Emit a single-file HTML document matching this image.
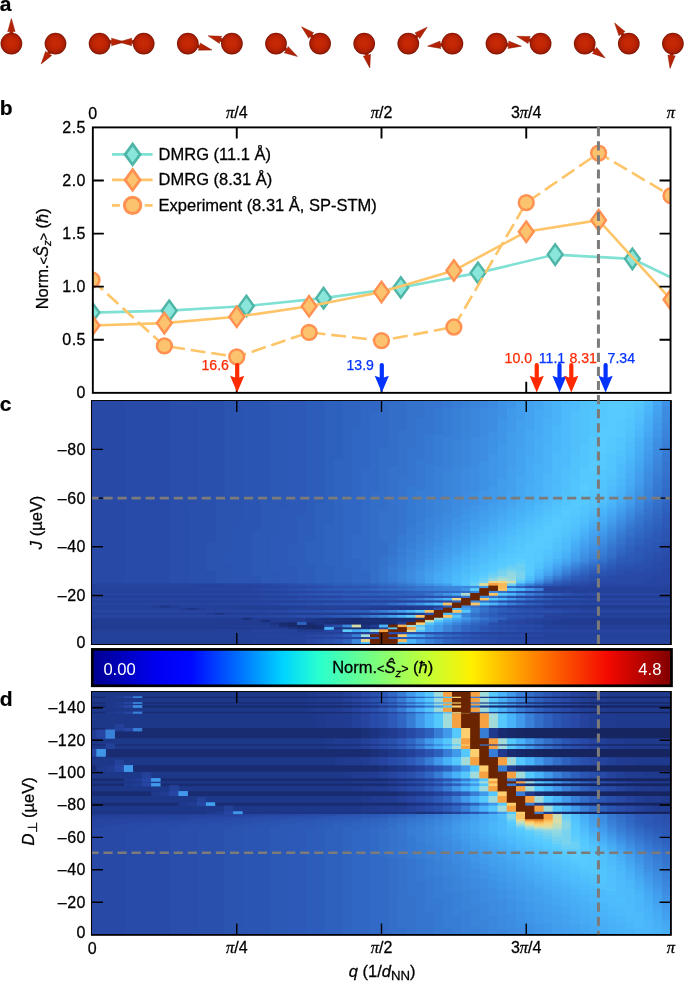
<!DOCTYPE html>
<html lang="en"><head><meta charset="utf-8"><title>Spin spiral figure</title>
<style>html,body{margin:0;padding:0;background:#fff}svg{display:block}text{font-family:"Liberation Sans", Arial, Helvetica, sans-serif;fill:#000;stroke:#000;stroke-width:.28px}.t{font-size:16px}#panel-c path,#panel-d path{fill:currentColor;stroke:currentColor;vector-effect:non-scaling-stroke}#panel-c .nf path,#panel-d .nf path{stroke:none}.lb{font-size:21px;font-weight:bold;stroke-width:.2px}.ab{font-size:12.5px}.tk{letter-spacing:.5px}.it{font-style:italic}.pi{font-family:"Liberation Serif","DejaVu Serif",serif;font-style:italic;font-size:16.5px}</style></head><body>
<svg width="685" height="981" viewBox="0 0 685 981">
<defs>
<radialGradient id="sg" cx="0.5" cy="0.5" r="0.5" fx="0.47" fy="0.44"><stop offset="0" stop-color="#c92a04"/><stop offset="0.5" stop-color="#c02504"/><stop offset="0.8" stop-color="#ad1f04"/><stop offset="0.93" stop-color="#931903"/><stop offset="1" stop-color="#701202"/></radialGradient>
<linearGradient id="ag" x1="0" x2="1" y1="0" y2="1"><stop offset="0" stop-color="#c42706"/><stop offset="1" stop-color="#a51e04"/></linearGradient>
<linearGradient id="cb" x1="0" x2="1" y1="0" y2="0">
<stop offset="0" stop-color="#00008f"/>
<stop offset="0.11" stop-color="#0000f0"/>
<stop offset="0.17" stop-color="#0008ff"/>
<stop offset="0.26" stop-color="#0078ff"/>
<stop offset="0.33" stop-color="#00d4ff"/>
<stop offset="0.39" stop-color="#28ffd0"/>
<stop offset="0.5" stop-color="#84ff74"/>
<stop offset="0.58" stop-color="#c4ff34"/>
<stop offset="0.655" stop-color="#fff000"/>
<stop offset="0.78" stop-color="#ff7400"/>
<stop offset="0.89" stop-color="#f40800"/>
<stop offset="1" stop-color="#7f0000"/>
</linearGradient>
<clipPath id="clb"><rect x="92.83" y="127.4" width="577.72" height="265.45"/></clipPath>
</defs>
<rect width="685" height="981" fill="#fff"/>
<g id="spins">
<path d="M13.00 34.55L13.00 31.25L15.10 31.65L11.40 18.55L7.70 31.65L9.80 31.25L9.80 34.55Z" fill="url(#ag)" stroke="#8e1803" stroke-width=".5" stroke-linejoin="round"/>
<circle cx="11.40" cy="43.55" r="10.85" fill="url(#sg)"/>
<path d="M49.03 50.00L47.13 52.71L45.64 51.18L41.16 64.03L51.71 55.42L49.76 54.54L51.65 51.84Z" fill="url(#ag)" stroke="#8e1803" stroke-width=".5" stroke-linejoin="round"/>
<circle cx="55.50" cy="43.55" r="10.85" fill="url(#sg)"/>
<path d="M108.60 43.55L111.90 43.55L111.50 45.65L124.60 41.95L111.50 38.25L111.90 40.35L108.60 40.35Z" fill="url(#ag)" stroke="#8e1803" stroke-width=".5" stroke-linejoin="round"/>
<circle cx="99.60" cy="43.55" r="10.85" fill="url(#sg)"/>
<path d="M134.70 40.35L131.40 40.35L131.80 38.25L118.70 41.95L131.80 45.65L131.40 43.55L134.70 43.55Z" fill="url(#ag)" stroke="#8e1803" stroke-width=".5" stroke-linejoin="round"/>
<circle cx="143.70" cy="43.55" r="10.85" fill="url(#sg)"/>
<path d="M196.08 47.42L199.27 48.28L198.34 50.20L211.95 50.02L200.25 43.06L200.09 45.19L196.91 44.33Z" fill="url(#ag)" stroke="#8e1803" stroke-width=".5" stroke-linejoin="round"/>
<circle cx="187.80" cy="43.55" r="10.85" fill="url(#sg)"/>
<path d="M223.83 39.25L220.70 38.23L221.73 36.35L208.12 35.82L219.44 43.39L219.71 41.27L222.85 42.29Z" fill="url(#ag)" stroke="#8e1803" stroke-width=".5" stroke-linejoin="round"/>
<circle cx="231.90" cy="43.55" r="10.85" fill="url(#sg)"/>
<path d="M282.89 49.56L285.72 51.26L284.29 52.85L297.43 56.43L288.11 46.51L287.37 48.51L284.54 46.81Z" fill="url(#ag)" stroke="#8e1803" stroke-width=".5" stroke-linejoin="round"/>
<circle cx="276.00" cy="43.55" r="10.85" fill="url(#sg)"/>
<path d="M314.48 36.34L312.03 34.13L313.73 32.84L301.52 26.82L308.78 38.34L309.89 36.51L312.34 38.72Z" fill="url(#ag)" stroke="#8e1803" stroke-width=".5" stroke-linejoin="round"/>
<circle cx="320.10" cy="43.55" r="10.85" fill="url(#sg)"/>
<path d="M364.67 52.68L365.41 55.89L363.27 55.98L369.82 67.91L370.48 54.31L368.53 55.17L367.78 51.96Z" fill="url(#ag)" stroke="#8e1803" stroke-width=".5" stroke-linejoin="round"/>
<circle cx="364.20" cy="43.55" r="10.85" fill="url(#sg)"/>
<path d="M416.14 38.85L418.63 36.69L419.71 38.54L427.17 27.15L414.85 32.95L416.53 34.27L414.04 36.44Z" fill="url(#ag)" stroke="#8e1803" stroke-width=".5" stroke-linejoin="round"/>
<circle cx="408.30" cy="43.55" r="10.85" fill="url(#sg)"/>
<path d="M443.28 42.90L440.00 43.24L440.18 41.11L427.54 46.16L440.95 48.47L440.33 46.43L443.62 46.08Z" fill="url(#ag)" stroke="#8e1803" stroke-width=".5" stroke-linejoin="round"/>
<circle cx="452.40" cy="43.55" r="10.85" fill="url(#sg)"/>
<path d="M505.28 46.08L508.57 46.43L507.95 48.47L521.36 46.16L508.72 41.11L508.90 43.24L505.62 42.90Z" fill="url(#ag)" stroke="#8e1803" stroke-width=".5" stroke-linejoin="round"/>
<circle cx="496.50" cy="43.55" r="10.85" fill="url(#sg)"/>
<path d="M532.46 39.39L529.31 38.42L530.30 36.53L516.69 36.24L528.14 43.61L528.37 41.48L531.53 42.45Z" fill="url(#ag)" stroke="#8e1803" stroke-width=".5" stroke-linejoin="round"/>
<circle cx="540.60" cy="43.55" r="10.85" fill="url(#sg)"/>
<path d="M591.15 50.02L593.86 51.92L592.33 53.41L605.18 57.89L596.57 47.34L595.69 49.29L592.99 47.40Z" fill="url(#ag)" stroke="#8e1803" stroke-width=".5" stroke-linejoin="round"/>
<circle cx="584.70" cy="43.55" r="10.85" fill="url(#sg)"/>
<path d="M625.02 35.23L623.15 32.51L625.11 31.65L614.64 22.95L619.01 35.84L620.51 34.32L622.38 37.04Z" fill="url(#ag)" stroke="#8e1803" stroke-width=".5" stroke-linejoin="round"/>
<circle cx="628.80" cy="43.55" r="10.85" fill="url(#sg)"/>
<path d="M670.29 52.31L669.92 55.59L667.88 54.95L670.07 68.39L675.23 55.79L673.10 55.95L673.47 52.67Z" fill="url(#ag)" stroke="#8e1803" stroke-width=".5" stroke-linejoin="round"/>
<circle cx="672.90" cy="43.55" r="10.85" fill="url(#sg)"/>
</g>
<g id="panel-b">
<g clip-path="url(#clb)">
<path d="M92.00 312.58L169.20 310.67L246.40 305.99L323.60 298.14L400.80 287.52L478.00 272.87L555.20 254.60L632.40 258.85L709.60 296.23" fill="none" stroke="#7fe0d4" stroke-width="2.6"/>
<path d="M92.00 302.38L99.40 312.58L92.00 322.78L84.60 312.58Z" fill="#8ae6da" stroke="#4fb5a6" stroke-width="2.45" stroke-linejoin="miter"/>
<path d="M169.20 300.47L176.60 310.67L169.20 320.87L161.80 310.67Z" fill="#8ae6da" stroke="#4fb5a6" stroke-width="2.45" stroke-linejoin="miter"/>
<path d="M246.40 295.79L253.80 305.99L246.40 316.19L239.00 305.99Z" fill="#8ae6da" stroke="#4fb5a6" stroke-width="2.45" stroke-linejoin="miter"/>
<path d="M323.60 287.94L331.00 298.14L323.60 308.34L316.20 298.14Z" fill="#8ae6da" stroke="#4fb5a6" stroke-width="2.45" stroke-linejoin="miter"/>
<path d="M400.80 277.32L408.20 287.52L400.80 297.72L393.40 287.52Z" fill="#8ae6da" stroke="#4fb5a6" stroke-width="2.45" stroke-linejoin="miter"/>
<path d="M478.00 262.67L485.40 272.87L478.00 283.07L470.60 272.87Z" fill="#8ae6da" stroke="#4fb5a6" stroke-width="2.45" stroke-linejoin="miter"/>
<path d="M555.20 244.40L562.60 254.60L555.20 264.80L547.80 254.60Z" fill="#8ae6da" stroke="#4fb5a6" stroke-width="2.45" stroke-linejoin="miter"/>
<path d="M632.40 248.65L639.80 258.85L632.40 269.05L625.00 258.85Z" fill="#8ae6da" stroke="#4fb5a6" stroke-width="2.45" stroke-linejoin="miter"/>
<path d="M709.60 286.03L717.00 296.23L709.60 306.43L702.20 296.23Z" fill="#8ae6da" stroke="#4fb5a6" stroke-width="2.45" stroke-linejoin="miter"/>
<path d="M92.00 325.43L164.38 323.09L236.75 316.83L309.12 306.31L381.50 291.98L453.88 270.53L526.25 231.67L598.62 220.20L671.00 299.62" fill="none" stroke="#fec468" stroke-width="2.6"/>
<path d="M92.00 315.23L99.40 325.43L92.00 335.63L84.60 325.43Z" fill="#fcc36e" stroke="#ff9152" stroke-width="2.45" stroke-linejoin="miter"/>
<path d="M164.38 312.89L171.78 323.09L164.38 333.29L156.97 323.09Z" fill="#fcc36e" stroke="#ff9152" stroke-width="2.45" stroke-linejoin="miter"/>
<path d="M236.75 306.63L244.15 316.83L236.75 327.03L229.35 316.83Z" fill="#fcc36e" stroke="#ff9152" stroke-width="2.45" stroke-linejoin="miter"/>
<path d="M309.12 296.11L316.52 306.31L309.12 316.51L301.73 306.31Z" fill="#fcc36e" stroke="#ff9152" stroke-width="2.45" stroke-linejoin="miter"/>
<path d="M381.50 281.78L388.90 291.98L381.50 302.18L374.10 291.98Z" fill="#fcc36e" stroke="#ff9152" stroke-width="2.45" stroke-linejoin="miter"/>
<path d="M453.88 260.33L461.27 270.53L453.88 280.73L446.48 270.53Z" fill="#fcc36e" stroke="#ff9152" stroke-width="2.45" stroke-linejoin="miter"/>
<path d="M526.25 221.47L533.65 231.67L526.25 241.87L518.85 231.67Z" fill="#fcc36e" stroke="#ff9152" stroke-width="2.45" stroke-linejoin="miter"/>
<path d="M598.62 210.00L606.02 220.20L598.62 230.40L591.23 220.20Z" fill="#fcc36e" stroke="#ff9152" stroke-width="2.45" stroke-linejoin="miter"/>
<path d="M671.00 289.42L678.40 299.62L671.00 309.82L663.60 299.62Z" fill="#fcc36e" stroke="#ff9152" stroke-width="2.45" stroke-linejoin="miter"/>
<path d="M92.00 279.98L164.38 345.92L236.75 356.96L309.12 332.33L381.50 340.61L453.88 327.02L526.25 202.68L598.62 153.10L671.00 195.67" fill="none" stroke="#fec468" stroke-width="2.6" stroke-dasharray="14.9 5.86"/>
<circle cx="92.00" cy="279.98" r="7.4" fill="#fcc36e" stroke="#ff9152" stroke-width="2.5"/>
<circle cx="164.38" cy="345.92" r="7.4" fill="#fcc36e" stroke="#ff9152" stroke-width="2.5"/>
<circle cx="236.75" cy="356.96" r="7.4" fill="#fcc36e" stroke="#ff9152" stroke-width="2.5"/>
<circle cx="309.12" cy="332.33" r="7.4" fill="#fcc36e" stroke="#ff9152" stroke-width="2.5"/>
<circle cx="381.50" cy="340.61" r="7.4" fill="#fcc36e" stroke="#ff9152" stroke-width="2.5"/>
<circle cx="453.88" cy="327.02" r="7.4" fill="#fcc36e" stroke="#ff9152" stroke-width="2.5"/>
<circle cx="526.25" cy="202.68" r="7.4" fill="#fcc36e" stroke="#ff9152" stroke-width="2.5"/>
<circle cx="598.62" cy="153.10" r="7.4" fill="#fcc36e" stroke="#ff9152" stroke-width="2.5"/>
<circle cx="671.00" cy="195.67" r="7.4" fill="#fcc36e" stroke="#ff9152" stroke-width="2.5"/>
</g>
<path d="M112.00 154.40L152.60 154.40" fill="none" stroke="#7fe0d4" stroke-width="2.8"/>
<path d="M132.60 144.10L140.10 154.40L132.60 164.70L125.10 154.40Z" fill="#8ae6da" stroke="#4fb5a6" stroke-width="2.8" stroke-linejoin="miter"/>
<text class="t" x="158.6" y="159.8" style="font-size:16.5px">DMRG (11.1 Å)</text>
<path d="M112.00 179.90L152.60 179.90" fill="none" stroke="#fec468" stroke-width="2.8"/>
<path d="M132.60 169.60L140.10 179.90L132.60 190.20L125.10 179.90Z" fill="#fcc36e" stroke="#ff9152" stroke-width="2.8" stroke-linejoin="miter"/>
<text class="t" x="158.6" y="185.3" style="font-size:16.5px">DMRG (8.31 Å)</text>
<path d="M112.00 205.40L152.60 205.40" fill="none" stroke="#fec468" stroke-width="2.8" stroke-dasharray="7.8 25 7.8"/>
<circle cx="132.60" cy="205.40" r="8.15" fill="#fcc36e" stroke="#ff9152" stroke-width="3"/>
<text class="t" x="158.6" y="210.8" style="font-size:16.5px">Experiment (8.31 Å, SP-STM)</text>
</g>
<clipPath id="clc"><rect x="92.05" y="401" width="577.9" height="242.6"/></clipPath>
<clipPath id="cld"><rect x="92.05" y="692" width="577.9" height="242.05"/></clipPath>
<rect x="91.9" y="401" width="579" height="243.2" fill="none" stroke="#000" stroke-width="1.9"/>
<rect x="91.9" y="692" width="579" height="242.85" fill="none" stroke="#000" stroke-width="1.9"/>
<g id="panel-c" clip-path="url(#clc)">
<rect x="92.00" y="400.70" width="579.00" height="243.50" fill="#2a50ae"/>
<g transform="matrix(9.1181 0 0 2.4350 87.441 400.700)">
<g class="ul" stroke-width="1.1">
<path color="#172968" d="M23 92h2v1h-2z"/>
<path color="#182a6c" d="M22 91h1v2h-1zM24 93h2v1h-2z"/>
<path color="#192c71" d="M29 89h7v1h-7zM21 91h1v1h-1zM24 91h1v1h-1zM28 91h6v1h-6zM25 92h1v1h-1z"/>
<path color="#192e75" d="M17 89h1v1h-1zM28 89h1v2h-1zM19 90h1v1h-1zM29 90h7v1h-7zM27 91h1v1h-1zM21 92h1v1h-1zM23 93h1v1h-1z"/>
<path color="#1a3079" d="M27 89h1v2h-1zM36 89h1v1h-1zM26 91h1v1h-1zM27 93h5v1h-5z"/>
<path color="#1b327d" d="M26 89h1v2h-1zM30 92h1v1h-1z"/>
<path color="#1b3381" d="M25 90h1v2h-1z"/>
<path color="#1c3585" d="M8 84h1v1h-1zM11 85h1v1h-1zM14 87h1v1h-1zM33 87h2v1h-2zM25 89h1v1h-1zM24 90h1v1h-1zM20 91h1v1h-1zM22 93h1v1h-1z"/>
<path color="#1d3789" d="M32 87h1v1h-1zM35 87h1v1h-1zM24 89h1v1h-1z"/>
<path color="#1f398c" d="M34 85h2v1h-2zM31 87h1v1h-1zM20 92h1v1h-1z"/>
<path color="#203b8f" d="M34 84h3v1h-3zM50 84h14v1h-14zM32 85h2v1h-2zM36 85h1v1h-1zM30 87h1v1h-1zM23 89h1v2h-1zM55 89h9v3h-9zM15 90h4v2h-4zM20 90h3v1h-3zM52 90h3v1h-3zM14 91h1v1h-1zM19 91h1v1h-1zM53 91h2v1h-2zM0 93h18v1h-18zM21 93h1v1h-1zM24 94h2v1h-2z"/>
<path color="#213d93" d="M50 80h14v1h-14zM7 84h1v1h-1zM9 84h1v1h-1zM33 84h1v1h-1zM37 84h1v1h-1zM10 85h1v1h-1zM12 85h1v1h-1zM31 85h1v1h-1zM13 87h1v1h-1zM15 87h1v1h-1zM28 87h2v1h-2zM36 87h1v1h-1zM12 89h5v1h-5zM18 89h5v1h-5zM53 89h2v1h-2zM0 90h15v1h-15zM51 90h1v2h-1zM0 91h14v2h-14zM34 91h1v1h-1zM52 91h1v1h-1zM14 92h2v1h-2zM31 92h1v1h-1zM18 93h3v1h-3zM23 94h1v1h-1z"/>
<path color="#223f96" d="M14 84h10v1h-10zM31 84h2v1h-2zM16 85h6v1h-6zM30 85h1v1h-1zM37 85h1v1h-1zM16 87h12v1h-12zM53 87h11v1h-11zM0 89h12v1h-12zM52 89h1v1h-1zM50 90h1v2h-1zM16 92h4v1h-4zM52 93h12v1h-12z"/>
<path color="#24419a" d="M0 76h1v1h-1zM50 77h14v1h-14zM0 78h18v1h-18zM53 78h11v1h-11zM0 80h20v1h-20zM0 82h24v1h-24zM49 82h15v1h-15zM0 84h7v2h-7zM10 84h4v1h-4zM24 84h7v1h-7zM38 84h1v1h-1zM47 84h3v1h-3zM7 85h3v1h-3zM13 85h3v1h-3zM22 85h8v1h-8zM54 85h10v1h-10zM0 87h13v1h-13zM52 87h1v1h-1zM51 89h1v1h-1zM49 90h1v2h-1zM50 92h14v1h-14zM50 93h2v1h-2zM0 94h18v6h-18zM18 95h13v1h-13zM50 96h14v1h-14zM18 97h4v1h-4z"/>
<path color="#25439d" d="M0 75h15v1h-15zM1 76h18v1h-18zM52 76h12v1h-12zM0 77h12v1h-12zM18 78h3v1h-3zM50 78h3v1h-3zM20 80h3v1h-3zM49 80h1v1h-1zM24 82h4v1h-4zM34 82h4v1h-4zM48 82h1v1h-1zM46 84h1v1h-1zM52 85h2v1h-2zM51 87h1v2h-1zM50 88h1v2h-1zM52 88h12v1h-12zM48 90h1v2h-1zM49 93h1v1h-1zM18 94h5v1h-5zM44 95h20v1h-20zM18 96h6v1h-6zM22 97h4v1h-4zM48 97h16v1h-16zM18 98h6v2h-6z"/>
<path color="#2644a0" d="M15 75h3v1h-3zM63 75h1v1h-1zM19 76h2v1h-2zM50 76h2v1h-2zM12 77h6v1h-6zM21 78h2v1h-2zM49 78h1v1h-1zM0 79h17v1h-17zM23 80h2v1h-2zM48 80h1v1h-1zM0 81h17v1h-17zM28 82h6v1h-6zM38 82h1v1h-1zM47 82h1v1h-1zM0 83h18v1h-18zM51 85h1v1h-1zM0 86h17v1h-17zM50 87h1v1h-1zM0 88h18v1h-18zM49 89h1v1h-1zM47 90h1v2h-1zM32 93h1v1h-1zM48 93h1v1h-1zM52 94h12v1h-12zM43 95h1v1h-1zM26 97h5v1h-5zM46 97h2v1h-2zM50 98h14v2h-14z"/>
<path color="#2746a4" d="M63 69h1v6h-1zM62 71h1v5h-1zM61 73h1v3h-1zM18 75h2v1h-2zM55 75h6v1h-6zM21 76h1v1h-1zM18 77h1v1h-1zM23 78h2v1h-2zM48 78h1v1h-1zM17 79h2v1h-2zM56 79h8v1h-8zM25 80h3v1h-3zM47 80h1v1h-1zM17 81h2v1h-2zM55 81h9v1h-9zM46 82h1v1h-1zM18 83h2v1h-2zM54 83h10v1h-10zM45 84h1v1h-1zM50 85h1v1h-1zM17 86h3v1h-3zM54 86h10v1h-10zM49 87h1v1h-1zM18 88h2v1h-2zM48 89h1v1h-1zM46 91h1v1h-1zM26 92h1v1h-1zM47 93h1v1h-1zM26 94h2v1h-2zM50 94h2v1h-2zM31 95h1v1h-1zM42 95h1v1h-1zM24 96h1v1h-1zM48 96h2v1h-2zM45 97h1v1h-1zM48 98h2v2h-2z"/>
<path color="#2849a6" d="M0 0h4v75h-4zM63 65h1v4h-1zM62 69h1v2h-1zM61 70h1v3h-1zM60 71h1v4h-1zM58 72h2v3h-2zM56 74h2v1h-2zM20 75h1v1h-1zM54 75h1v1h-1zM22 76h2v1h-2zM49 76h1v1h-1zM19 77h2v1h-2zM25 78h1v1h-1zM19 79h2v1h-2zM54 79h2v1h-2zM28 80h3v1h-3zM19 81h2v1h-2zM54 81h1v1h-1zM39 82h1v1h-1zM20 83h1v1h-1zM53 83h1v1h-1zM49 85h1v1h-1zM20 86h2v1h-2zM53 86h1v1h-1zM48 87h1v1h-1zM20 88h2v1h-2zM46 90h1v1h-1zM49 92h1v1h-1zM46 93h1v1h-1zM49 94h1v1h-1zM41 95h1v1h-1zM25 96h1v1h-1zM47 96h1v1h-1zM44 97h1v1h-1zM24 98h1v2h-1zM47 98h1v2h-1z"/>
<path color="#284ba9" d="M4 0h5v75h-5zM63 63h1v2h-1zM62 66h1v3h-1zM61 69h1v1h-1zM59 70h2v1h-2zM58 71h2v1h-2zM57 72h1v2h-1zM56 73h1v1h-1zM55 74h1v1h-1zM21 75h1v1h-1zM53 75h1v1h-1zM24 76h1v1h-1zM21 77h1v1h-1zM26 78h2v1h-2zM21 79h1v1h-1zM53 79h1v1h-1zM31 80h2v1h-2zM21 81h2v1h-2zM52 81h2v1h-2zM21 83h2v1h-2zM51 83h2v1h-2zM44 84h1v1h-1zM48 85h1v1h-1zM22 86h1v1h-1zM52 86h1v1h-1zM46 87h2v1h-2zM22 88h1v1h-1zM47 89h1v1h-1zM45 90h1v2h-1zM47 92h2v1h-2zM45 93h1v1h-1zM47 94h2v1h-2zM40 95h1v1h-1zM26 96h1v1h-1zM45 96h2v1h-2zM42 97h2v1h-2zM45 98h2v2h-2z"/>
<path color="#294eab" d="M9 0h3v43h-3zM9 43h2v32h-2zM63 60h1v3h-1zM62 64h1v2h-1zM61 67h1v2h-1zM60 68h1v2h-1zM59 69h1v1h-1zM58 70h1v1h-1zM57 71h1v1h-1zM56 72h1v1h-1zM55 73h1v1h-1zM54 74h1v1h-1zM22 75h1v1h-1zM25 76h1v1h-1zM48 76h1v1h-1zM22 77h1v1h-1zM28 78h3v1h-3zM47 78h1v1h-1zM22 79h1v1h-1zM33 80h4v1h-4zM46 80h1v1h-1zM23 81h1v1h-1zM45 82h1v1h-1zM23 83h1v1h-1zM47 85h1v1h-1zM23 86h2v1h-2zM51 86h1v1h-1zM23 88h2v1h-2zM46 89h1v1h-1zM44 91h1v1h-1zM46 92h1v1h-1zM44 93h1v1h-1zM46 94h1v1h-1zM33 95h7v1h-7zM44 96h1v1h-1zM41 97h1v1h-1zM25 98h1v2h-1zM44 98h1v2h-1z"/>
<path color="#2a50ae" d="M12 0h3v41h-3zM12 41h2v17h-2zM11 43h1v32h-1zM12 58h1v17h-1zM63 58h1v2h-1zM62 62h1v2h-1zM61 65h1v2h-1zM60 67h1v1h-1zM59 68h1v1h-1zM58 69h1v1h-1zM13 70h1v5h-1zM55 72h1v1h-1zM53 74h1v1h-1zM23 75h1v1h-1zM52 75h1v1h-1zM26 76h1v1h-1zM23 77h1v1h-1zM31 78h1v1h-1zM23 79h1v1h-1zM52 79h1v1h-1zM37 80h2v1h-2zM24 81h1v1h-1zM51 81h1v1h-1zM24 83h2v1h-2zM50 83h1v1h-1zM25 86h1v1h-1zM49 86h2v1h-2zM37 87h1v1h-1zM45 87h1v1h-1zM25 88h1v1h-1zM48 88h2v1h-2zM27 92h1v1h-1zM45 92h1v1h-1zM45 94h1v1h-1zM27 96h1v1h-1zM43 96h1v1h-1zM40 97h1v1h-1zM43 98h1v2h-1z"/>
<path color="#2b53b0" d="M15 0h2v50h-2zM14 41h1v34h-1zM15 50h1v13h-1zM63 55h1v3h-1zM13 58h1v12h-1zM62 60h1v2h-1zM61 63h1v2h-1zM60 66h1v1h-1zM15 67h1v8h-1zM59 67h1v1h-1zM58 68h1v1h-1zM57 70h1v1h-1zM56 71h1v1h-1zM54 73h1v1h-1zM24 75h1v1h-1zM27 76h2v1h-2zM24 77h1v1h-1zM32 78h1v1h-1zM24 79h1v1h-1zM39 80h1v1h-1zM25 81h1v1h-1zM26 83h2v1h-2zM46 85h1v1h-1zM26 86h1v1h-1zM48 86h1v1h-1zM47 88h1v1h-1zM43 93h1v1h-1zM39 97h1v1h-1zM26 98h1v2h-1z"/>
<path color="#2b55b3" d="M17 0h3v41h-3zM17 41h2v12h-2zM16 50h1v25h-1zM17 53h1v22h-1zM63 53h1v2h-1zM62 58h1v2h-1zM61 61h1v2h-1zM15 63h1v4h-1zM60 64h1v2h-1zM59 66h1v1h-1zM58 67h1v1h-1zM57 69h1v1h-1zM56 70h1v1h-1zM55 71h1v1h-1zM18 72h1v3h-1zM25 75h1v1h-1zM51 75h1v1h-1zM29 76h2v1h-2zM25 77h1v1h-1zM33 78h1v1h-1zM25 79h1v1h-1zM40 80h1v1h-1zM26 81h2v1h-2zM28 83h2v1h-2zM38 85h1v1h-1zM27 86h1v1h-1zM47 86h1v1h-1zM26 88h1v1h-1zM46 88h1v1h-1zM44 92h1v1h-1zM44 94h1v1h-1zM42 96h1v1h-1zM38 97h1v1h-1zM42 98h1v2h-1z"/>
<path color="#2c58b6" d="M20 0h2v44h-2zM19 41h1v34h-1zM20 44h1v12h-1zM63 51h1v2h-1zM18 53h1v19h-1zM62 56h1v2h-1zM61 59h1v2h-1zM60 62h1v2h-1zM59 65h1v1h-1zM58 66h1v1h-1zM57 68h1v1h-1zM20 70h1v5h-1zM54 72h1v1h-1zM53 73h1v1h-1zM52 74h1v1h-1zM31 76h1v1h-1zM34 78h1v1h-1zM26 79h2v1h-2zM51 79h1v1h-1zM28 81h2v1h-2zM50 81h1v1h-1zM30 83h1v1h-1zM49 83h1v1h-1zM37 97h1v1h-1zM27 98h1v2h-1z"/>
<path color="#2d5ab8" d="M22 0h2v47h-2zM21 44h1v31h-1zM22 47h1v12h-1zM63 48h1v3h-1zM62 54h1v2h-1zM20 56h1v14h-1zM61 57h1v2h-1zM60 60h1v2h-1zM59 63h1v2h-1zM58 65h1v1h-1zM22 68h1v7h-1zM56 69h1v1h-1zM55 70h1v1h-1zM26 75h1v1h-1zM26 77h2v1h-2zM28 79h2v1h-2zM30 81h3v1h-3zM28 86h1v1h-1zM46 86h1v1h-1zM27 88h1v1h-1zM45 88h1v1h-1zM43 92h1v1h-1zM43 94h1v1h-1zM41 96h1v1h-1zM41 98h1v2h-1z"/>
<path color="#2d5dbb" d="M24 0h2v42h-2zM24 42h1v16h-1zM63 46h1v2h-1zM23 47h1v28h-1zM62 52h1v2h-1zM61 56h1v1h-1zM22 59h1v9h-1zM60 59h1v1h-1zM59 62h1v1h-1zM58 64h1v1h-1zM24 67h1v8h-1zM57 67h1v1h-1zM54 71h1v1h-1zM53 72h1v1h-1zM27 75h2v1h-2zM50 75h1v1h-1zM28 77h2v1h-2zM35 78h1v1h-1zM30 79h2v1h-2zM33 81h1v1h-1zM31 83h2v1h-2zM39 84h1v1h-1zM45 85h1v2h-1zM29 86h1v1h-1zM44 87h1v2h-1zM28 88h1v1h-1zM28 96h1v1h-1zM31 97h1v1h-1zM33 97h4v1h-4z"/>
<path color="#2e61be" d="M26 0h2v24h-2zM26 24h1v27h-1zM25 42h1v33h-1zM63 44h1v2h-1zM62 50h1v2h-1zM61 54h1v2h-1zM60 57h1v2h-1zM24 58h1v9h-1zM59 60h1v2h-1zM58 63h1v1h-1zM57 66h1v1h-1zM26 68h1v7h-1zM56 68h1v1h-1zM55 69h1v1h-1zM52 73h1v1h-1zM51 74h1v1h-1zM29 75h2v1h-2zM32 76h1v1h-1zM47 76h1v1h-1zM30 77h1v1h-1zM36 78h1v1h-1zM46 78h1v1h-1zM32 79h3v1h-3zM50 79h1v1h-1zM45 80h1v1h-1zM49 81h1v1h-1zM44 82h1v1h-1zM48 83h1v1h-1zM43 84h1v1h-1zM30 86h1v1h-1zM29 88h1v1h-1zM45 89h1v1h-1zM44 90h1v1h-1zM43 91h1v1h-1zM42 92h1v3h-1zM40 96h1v1h-1zM40 98h1v2h-1z"/>
<path color="#3064c1" d="M28 0h2v11h-2zM28 11h1v29h-1zM27 24h1v51h-1zM63 42h1v2h-1zM62 48h1v2h-1zM26 51h1v17h-1zM61 52h1v2h-1zM60 56h1v1h-1zM59 59h1v1h-1zM58 62h1v1h-1zM57 65h1v1h-1zM56 67h1v1h-1zM28 69h1v6h-1zM54 70h1v1h-1zM31 75h1v1h-1zM33 76h1v1h-1zM31 77h1v1h-1zM37 78h1v1h-1zM35 79h1v1h-1zM34 81h1v1h-1zM44 85h1v2h-1zM43 87h1v2h-1zM23 91h1v1h-1zM28 98h1v2h-1z"/>
<path color="#3167c4" d="M30 0h2v5h-2zM30 5h1v23h-1zM29 11h1v44h-1zM63 39h1v3h-1zM28 40h1v29h-1zM62 46h1v2h-1zM61 50h1v2h-1zM60 54h1v2h-1zM59 57h1v2h-1zM58 61h1v1h-1zM29 65h1v10h-1zM55 68h1v1h-1zM30 70h1v5h-1zM53 71h1v1h-1zM32 77h1v1h-1zM38 78h2v1h-2zM36 79h1v1h-1zM40 82h1v1h-1zM44 89h1v1h-1zM43 90h1v1h-1zM42 91h1v1h-1zM41 92h1v3h-1zM39 96h1v1h-1zM39 98h1v2h-1z"/>
<path color="#326bc7" d="M32 0h2v1h-2zM32 1h1v18h-1zM31 5h1v32h-1zM30 28h1v42h-1zM63 36h1v3h-1zM62 44h1v2h-1zM61 49h1v1h-1zM60 53h1v1h-1zM29 55h1v10h-1zM59 56h1v1h-1zM58 60h1v1h-1zM57 64h1v1h-1zM56 66h1v1h-1zM54 69h1v1h-1zM52 72h1v1h-1zM32 75h1v1h-1zM34 76h1v1h-1zM33 77h1v1h-1zM40 78h1v1h-1zM33 83h1v1h-1z"/>
<path color="#336ec9" d="M34 0h1v12h-1zM33 1h1v26h-1zM32 19h1v26h-1zM63 32h1v4h-1zM31 37h1v38h-1zM62 42h1v2h-1zM61 47h1v2h-1zM60 51h1v2h-1zM59 55h1v1h-1zM32 58h1v5h-1zM58 59h1v1h-1zM57 63h1v1h-1zM55 67h1v1h-1zM53 70h1v1h-1zM51 73h1v1h-1zM33 75h1v1h-1zM49 75h1v1h-1zM35 76h1v1h-1zM34 77h1v1h-1zM41 78h1v1h-1zM49 79h1v1h-1zM35 81h1v1h-1zM48 81h1v1h-1zM47 83h1v1h-1zM31 86h1v1h-1zM30 88h1v1h-1z"/>
<path color="#3472cc" d="M35 0h2v7h-2zM35 7h1v12h-1zM34 12h1v20h-1zM33 27h1v32h-1zM63 29h1v3h-1zM62 40h1v2h-1zM32 45h1v13h-1zM61 45h1v2h-1zM60 50h1v1h-1zM59 53h1v2h-1zM58 57h1v2h-1zM57 61h1v2h-1zM32 63h1v5h-1zM56 65h1v1h-1zM54 68h1v1h-1zM32 74h1v1h-1zM46 76h1v1h-1zM35 77h1v1h-1zM45 78h1v1h-1zM37 79h1v1h-1zM41 80h1v1h-1zM44 80h1v1h-1zM43 82h1v1h-1zM42 84h1v1h-1zM43 85h1v2h-1zM42 87h1v2h-1z"/>
<path color="#3575cf" d="M37 0h2v3h-2zM37 3h1v11h-1zM36 7h1v17h-1zM35 19h1v16h-1zM63 25h1v4h-1zM34 32h1v23h-1zM62 38h1v2h-1zM61 44h1v1h-1zM60 48h1v2h-1zM59 52h1v1h-1zM58 56h1v1h-1zM33 59h1v5h-1zM57 60h1v1h-1zM56 64h1v1h-1zM55 66h1v1h-1zM32 68h1v6h-1zM53 69h1v1h-1zM52 71h1v1h-1zM50 74h1v1h-1zM34 75h1v1h-1zM36 76h1v1h-1zM34 83h1v1h-1zM43 89h1v1h-1zM42 90h1v1h-1zM41 91h1v1h-1zM40 92h1v3h-1zM38 96h1v1h-1zM38 98h1v2h-1z"/>
<path color="#3679d2" d="M39 0h1v3h-1zM38 3h1v11h-1zM37 14h1v12h-1zM63 22h1v3h-1zM36 24h1v13h-1zM62 34h1v4h-1zM35 35h1v17h-1zM61 42h1v2h-1zM60 47h1v1h-1zM59 51h1v1h-1zM34 55h1v5h-1zM58 55h1v1h-1zM57 59h1v1h-1zM56 63h1v1h-1zM33 64h1v4h-1zM54 67h1v1h-1zM33 74h1v1h-1zM37 76h1v1h-1zM36 77h1v1h-1z"/>
<path color="#377cd5" d="M40 0h1v3h-1zM39 3h1v12h-1zM38 14h1v13h-1zM63 18h1v4h-1zM37 26h1v13h-1zM62 31h1v3h-1zM36 37h1v13h-1zM61 41h1v1h-1zM60 46h1v1h-1zM59 50h1v1h-1zM35 52h1v6h-1zM58 54h1v1h-1zM57 58h1v1h-1zM34 60h1v4h-1zM56 62h1v1h-1zM55 65h1v1h-1zM33 68h1v6h-1zM51 72h1v1h-1zM35 75h1v1h-1zM37 77h1v1h-1zM36 81h1v1h-1zM32 86h1v1h-1zM31 88h1v1h-1z"/>
<path color="#3980d8" d="M41 0h1v3h-1zM40 3h1v13h-1zM39 15h1v14h-1zM63 15h1v3h-1zM38 27h1v14h-1zM62 29h1v2h-1zM37 39h1v9h-1zM61 40h1v1h-1zM60 45h1v1h-1zM59 49h1v1h-1zM36 50h1v5h-1zM58 53h1v1h-1zM57 57h1v1h-1zM35 58h1v3h-1zM56 61h1v1h-1zM34 64h1v5h-1zM53 68h1v1h-1zM52 70h1v1h-1zM34 74h1v1h-1zM38 76h1v2h-1zM49 77h1v1h-1zM48 79h1v1h-1zM47 81h1v1h-1zM46 83h1v1h-1zM29 96h1v1h-1z"/>
<path color="#3a84da" d="M42 0h1v3h-1zM41 3h1v13h-1zM63 12h1v3h-1zM40 16h1v12h-1zM62 26h1v3h-1zM39 29h1v11h-1zM61 37h1v3h-1zM38 41h1v6h-1zM60 44h1v1h-1zM37 48h1v5h-1zM59 48h1v1h-1zM58 52h1v1h-1zM36 55h1v4h-1zM57 56h1v1h-1zM56 60h1v1h-1zM35 61h1v4h-1zM55 64h1v1h-1zM54 66h1v1h-1zM34 69h1v5h-1zM50 73h1v1h-1zM48 75h1v1h-1zM39 77h1v1h-1zM42 78h1v1h-1zM38 79h1v1h-1zM35 83h1v1h-1zM42 85h1v2h-1zM41 87h1v2h-1zM42 89h1v1h-1zM41 90h1v1h-1zM40 91h1v1h-1zM39 92h1v3h-1zM37 96h1v1h-1zM37 98h1v2h-1z"/>
<path color="#3b87dd" d="M43 0h1v3h-1zM42 3h1v12h-1zM63 9h1v3h-1zM41 16h1v12h-1zM62 23h1v3h-1zM40 28h1v12h-1zM61 35h1v2h-1zM39 40h1v6h-1zM60 42h1v2h-1zM38 47h1v4h-1zM59 47h1v1h-1zM58 51h1v1h-1zM37 53h1v4h-1zM57 55h1v1h-1zM36 59h1v3h-1zM56 59h1v1h-1zM55 63h1v1h-1zM35 65h1v3h-1zM53 67h1v1h-1zM52 69h1v1h-1zM36 75h1v1h-1zM39 76h3v1h-3zM40 77h1v1h-1z"/>
<path color="#3c8be0" d="M44 0h1v3h-1zM43 3h1v12h-1zM63 5h1v4h-1zM42 15h1v12h-1zM62 20h1v3h-1zM41 28h1v11h-1zM61 32h1v3h-1zM40 40h1v5h-1zM60 41h1v1h-1zM39 46h1v4h-1zM59 46h1v1h-1zM58 50h1v1h-1zM38 51h1v4h-1zM57 54h1v1h-1zM37 57h1v3h-1zM56 58h1v1h-1zM36 62h1v3h-1zM55 62h1v1h-1zM54 65h1v1h-1zM35 68h1v3h-1zM51 71h1v1h-1zM35 73h1v2h-1zM42 76h1v1h-1zM44 78h1v1h-1zM43 80h1v1h-1zM42 82h1v1h-1zM41 84h1v1h-1zM33 86h1v1h-1zM32 88h1v1h-1zM28 92h1v1h-1zM29 98h1v2h-1z"/>
<path color="#3d8ee3" d="M63 2h1v3h-1zM44 3h1v10h-1zM43 15h1v10h-1zM62 17h1v3h-1zM42 27h1v11h-1zM61 29h1v3h-1zM41 39h1v5h-1zM60 40h1v1h-1zM40 45h1v3h-1zM59 45h1v1h-1zM58 49h1v1h-1zM39 50h1v3h-1zM57 53h1v1h-1zM38 55h1v3h-1zM56 57h1v1h-1zM37 60h1v2h-1zM55 61h1v1h-1zM54 64h1v1h-1zM36 65h1v3h-1zM53 66h1v1h-1zM52 68h1v1h-1zM35 71h1v2h-1zM49 74h1v1h-1zM37 75h1v1h-1zM37 81h1v1h-1z"/>
<path color="#3e92e5" d="M45 0h1v8h-1zM63 0h1v2h-1zM44 13h1v9h-1zM62 15h1v2h-1zM43 25h1v12h-1zM61 27h1v2h-1zM42 38h1v5h-1zM60 38h1v2h-1zM41 44h1v3h-1zM59 44h1v1h-1zM40 48h1v3h-1zM58 48h1v1h-1zM57 52h1v1h-1zM39 53h1v3h-1zM56 56h1v1h-1zM38 58h1v2h-1zM55 60h1v1h-1zM37 62h1v3h-1zM54 63h1v1h-1zM36 68h1v2h-1zM51 70h1v1h-1zM50 72h1v1h-1z"/>
<path color="#3f96e8" d="M46 0h1v3h-1zM45 8h1v10h-1zM62 12h1v3h-1zM44 22h1v13h-1zM61 25h1v2h-1zM60 36h1v2h-1zM43 37h1v6h-1zM42 43h1v3h-1zM59 43h1v1h-1zM41 47h1v3h-1zM58 47h1v1h-1zM40 51h1v3h-1zM57 51h1v1h-1zM56 55h1v1h-1zM39 56h1v2h-1zM55 59h1v1h-1zM38 60h1v3h-1zM54 62h1v1h-1zM37 65h1v2h-1zM36 70h1v5h-1zM41 77h1v1h-1zM39 79h1v1h-1zM36 83h1v1h-1z"/>
<path color="#4099eb" d="M46 3h1v10h-1zM62 9h1v3h-1zM45 18h1v14h-1zM61 22h1v3h-1zM60 34h1v2h-1zM44 35h1v7h-1zM59 42h1v1h-1zM43 43h1v2h-1zM42 46h1v3h-1zM58 46h1v1h-1zM41 50h1v3h-1zM57 50h1v1h-1zM40 54h1v3h-1zM56 54h1v1h-1zM39 58h1v3h-1zM55 58h1v1h-1zM54 61h1v1h-1zM38 63h1v2h-1zM53 65h1v1h-1zM37 67h1v2h-1zM52 67h1v1h-1zM51 69h1v1h-1zM38 75h1v1h-1zM43 76h1v1h-1zM48 77h1v1h-1zM47 79h1v1h-1zM46 81h1v1h-1zM45 83h1v1h-1zM41 89h1v1h-1zM40 90h1v1h-1zM39 91h1v1h-1zM38 92h1v3h-1zM36 98h1v2h-1z"/>
<path color="#429ded" d="M47 0h1v8h-1zM62 7h1v2h-1zM46 13h1v14h-1zM61 20h1v2h-1zM60 31h1v3h-1zM45 32h1v9h-1zM59 41h1v1h-1zM44 42h1v2h-1zM43 45h1v3h-1zM58 45h1v1h-1zM42 49h1v2h-1zM57 49h1v1h-1zM41 53h1v2h-1zM56 53h1v1h-1zM55 56h1v2h-1zM40 57h1v2h-1zM54 60h1v1h-1zM39 61h1v2h-1zM53 64h1v1h-1zM38 65h1v2h-1zM37 69h1v2h-1zM49 73h1v1h-1zM47 75h1v1h-1z"/>
<path color="#43a0ef" d="M48 0h1v1h-1zM62 5h1v2h-1zM47 8h1v12h-1zM61 17h1v3h-1zM46 27h1v11h-1zM60 29h1v2h-1zM59 39h1v2h-1zM45 41h1v2h-1zM44 44h1v2h-1zM58 44h1v1h-1zM43 48h1v2h-1zM57 48h1v1h-1zM42 51h1v2h-1zM56 52h1v1h-1zM41 55h1v2h-1zM55 55h1v1h-1zM40 59h1v2h-1zM54 59h1v1h-1zM39 63h1v2h-1zM53 63h1v1h-1zM52 66h1v1h-1zM38 67h1v1h-1zM51 68h1v1h-1zM37 71h1v4h-1zM50 71h1v1h-1zM39 75h1v1h-1zM38 81h1v1h-1zM41 85h1v1h-1zM34 86h1v1h-1zM40 87h1v1h-1zM33 88h1v1h-1z"/>
<path color="#44a3f0" d="M48 1h1v11h-1zM62 2h1v3h-1zM61 15h1v2h-1zM47 20h1v11h-1zM60 27h1v2h-1zM59 37h1v2h-1zM46 38h1v4h-1zM45 43h1v2h-1zM58 43h1v1h-1zM44 46h1v2h-1zM57 47h1v1h-1zM43 50h1v2h-1zM56 51h1v1h-1zM42 53h1v2h-1zM55 54h1v1h-1zM41 57h1v2h-1zM54 58h1v1h-1zM40 61h1v2h-1zM53 62h1v1h-1zM39 65h1v1h-1zM38 68h1v2h-1z"/>
<path color="#45a6f2" d="M49 0h1v4h-1zM62 0h1v2h-1zM48 12h1v11h-1zM61 13h1v2h-1zM60 24h1v3h-1zM47 31h1v9h-1zM59 35h1v2h-1zM46 42h1v2h-1zM58 42h1v1h-1zM45 45h1v2h-1zM57 46h1v1h-1zM44 48h1v2h-1zM56 50h1v1h-1zM43 52h1v2h-1zM55 53h1v1h-1zM42 55h1v2h-1zM54 57h1v1h-1zM41 59h1v2h-1zM53 61h1v1h-1zM40 63h1v1h-1zM52 65h1v1h-1zM39 66h1v2h-1zM51 67h1v1h-1zM38 70h1v1h-1zM50 70h1v1h-1zM40 79h1v1h-1zM36 96h1v1h-1z"/>
<path color="#46aaf4" d="M49 4h1v11h-1zM61 11h1v2h-1zM60 22h1v2h-1zM48 23h1v11h-1zM59 32h1v3h-1zM47 40h1v2h-1zM58 41h1v1h-1zM46 44h1v1h-1zM57 45h1v1h-1zM45 47h1v2h-1zM56 48h1v2h-1zM44 50h1v2h-1zM55 52h1v1h-1zM43 54h1v1h-1zM54 56h1v1h-1zM42 57h1v2h-1zM53 60h1v1h-1zM41 61h1v1h-1zM40 64h1v2h-1zM39 68h1v1h-1zM38 71h1v4h-1zM40 89h1v1h-1zM39 90h1v1h-1zM38 91h1v1h-1zM37 92h1v3h-1zM29 94h1v1h-1z"/>
<path color="#47adf5" d="M50 0h1v7h-1zM61 8h1v3h-1zM49 15h1v11h-1zM60 19h1v3h-1zM59 30h1v2h-1zM48 34h1v7h-1zM58 40h1v1h-1zM47 42h1v2h-1zM57 44h1v1h-1zM46 45h1v2h-1zM56 47h1v1h-1zM45 49h1v1h-1zM55 51h1v1h-1zM44 52h1v2h-1zM43 55h1v2h-1zM54 55h1v1h-1zM42 59h1v1h-1zM53 59h1v1h-1zM41 62h1v2h-1zM52 64h1v1h-1zM40 66h1v1h-1zM39 69h1v2h-1zM50 69h1v1h-1zM49 72h1v1h-1zM48 74h1v1h-1zM37 83h1v1h-1z"/>
<path color="#48b0f7" d="M61 6h1v2h-1zM50 7h1v11h-1zM60 17h1v2h-1zM49 26h1v12h-1zM59 28h1v2h-1zM58 38h1v2h-1zM48 41h1v2h-1zM57 43h1v1h-1zM47 44h1v2h-1zM56 46h1v1h-1zM46 47h1v2h-1zM45 50h1v2h-1zM55 50h1v1h-1zM44 54h1v1h-1zM54 54h1v1h-1zM43 57h1v2h-1zM53 58h1v1h-1zM42 60h1v2h-1zM52 63h1v1h-1zM41 64h1v1h-1zM51 66h1v1h-1zM40 67h1v2h-1zM39 71h1v2h-1z"/>
<path color="#49b3f9" d="M51 0h1v10h-1zM61 4h1v2h-1zM60 15h1v2h-1zM50 18h1v12h-1zM59 25h1v3h-1zM58 35h1v3h-1zM49 38h1v4h-1zM57 42h1v1h-1zM48 43h1v2h-1zM56 45h1v1h-1zM47 46h1v2h-1zM46 49h1v2h-1zM55 49h1v1h-1zM45 52h1v2h-1zM54 53h1v1h-1zM44 55h1v2h-1zM53 57h1v1h-1zM43 59h1v1h-1zM42 62h1v2h-1zM52 62h1v1h-1zM41 65h1v2h-1zM51 65h1v1h-1zM50 68h1v1h-1zM40 69h1v1h-1zM49 71h1v1h-1zM39 73h1v2h-1zM39 81h1v1h-1zM35 99h1v1h-1z"/>
<path color="#4bb7fa" d="M52 0h1v1h-1zM61 2h1v2h-1zM51 10h1v11h-1zM60 12h1v3h-1zM59 23h1v2h-1zM50 30h1v10h-1zM58 32h1v3h-1zM57 40h1v2h-1zM49 42h1v1h-1zM56 44h1v1h-1zM48 45h1v2h-1zM47 48h1v2h-1zM55 48h1v1h-1zM46 51h1v2h-1zM54 52h1v1h-1zM45 54h1v2h-1zM53 56h1v1h-1zM44 57h1v2h-1zM43 60h1v2h-1zM52 61h1v1h-1zM42 64h1v1h-1zM41 67h1v1h-1zM50 67h1v1h-1zM40 70h1v2h-1zM40 75h1v1h-1zM47 77h1v1h-1zM46 79h1v1h-1zM45 81h1v1h-1zM44 83h1v1h-1zM35 86h1v1h-1zM34 88h1v1h-1zM32 92h1v1h-1zM26 93h1v1h-1zM35 96h1v1h-1zM35 98h1v1h-1z"/>
<path color="#4cbafb" d="M61 0h1v2h-1zM52 1h1v11h-1zM60 10h1v2h-1zM59 20h1v3h-1zM51 21h1v13h-1zM58 29h1v3h-1zM57 38h1v2h-1zM50 40h1v2h-1zM49 43h1v2h-1zM56 43h1v1h-1zM48 47h1v1h-1zM55 47h1v1h-1zM47 50h1v2h-1zM54 51h1v1h-1zM46 53h1v2h-1zM53 55h1v1h-1zM45 56h1v2h-1zM44 59h1v2h-1zM52 59h1v2h-1zM43 62h1v2h-1zM51 63h1v2h-1zM42 65h1v2h-1zM50 66h1v1h-1zM41 68h1v2h-1zM49 70h1v1h-1zM40 72h1v2h-1zM48 73h1v1h-1z"/>
<path color="#4ebcfc" d="M53 0h1v4h-1zM60 8h1v2h-1zM52 12h1v16h-1zM59 17h1v3h-1zM58 26h1v3h-1zM51 34h1v7h-1zM57 35h1v3h-1zM50 42h1v2h-1zM56 42h1v1h-1zM49 45h1v2h-1zM55 46h1v1h-1zM48 48h1v2h-1zM54 50h1v1h-1zM47 52h1v1h-1zM53 54h1v1h-1zM46 55h1v1h-1zM45 58h1v2h-1zM52 58h1v1h-1zM44 61h1v2h-1zM51 62h1v1h-1zM43 64h1v2h-1zM42 67h1v1h-1zM49 69h1v1h-1zM41 70h1v1h-1zM40 74h1v1h-1zM40 85h1v1h-1zM39 87h1v1h-1z"/>
<path color="#50bffc" d="M53 4h1v18h-1zM60 5h1v3h-1zM59 15h1v2h-1zM58 23h1v3h-1zM52 28h1v9h-1zM57 32h1v3h-1zM51 41h1v1h-1zM56 41h1v1h-1zM50 44h1v2h-1zM55 44h1v2h-1zM49 47h1v2h-1zM54 48h1v2h-1zM48 50h1v2h-1zM53 52h1v2h-1zM47 53h1v2h-1zM46 56h1v2h-1zM52 56h1v2h-1zM45 60h1v2h-1zM51 60h1v2h-1zM44 63h1v2h-1zM50 64h1v2h-1zM43 66h1v1h-1zM42 68h1v2h-1zM41 71h1v2h-1zM38 83h1v1h-1z"/>
<path color="#52c2fd" d="M54 0h1v18h-1zM60 3h1v2h-1zM59 12h1v3h-1zM58 20h1v3h-1zM53 22h1v10h-1zM57 29h1v3h-1zM56 36h1v5h-1zM52 37h1v4h-1zM51 42h1v2h-1zM55 42h1v2h-1zM50 46h1v2h-1zM54 46h1v2h-1zM49 49h1v2h-1zM53 50h1v2h-1zM48 52h1v2h-1zM52 54h1v2h-1zM47 55h1v2h-1zM46 58h1v2h-1zM51 58h1v2h-1zM45 62h1v1h-1zM50 63h1v1h-1zM44 65h1v1h-1zM43 67h1v1h-1zM49 67h1v2h-1zM42 70h1v1h-1zM48 72h1v1h-1zM41 73h1v1h-1zM41 75h1v1h-1zM39 89h1v1h-1zM30 94h1v1h-1z"/>
<path color="#53c5fe" d="M55 0h1v15h-1zM60 1h1v2h-1zM59 7h1v5h-1zM58 15h1v5h-1zM54 18h1v9h-1zM57 22h1v7h-1zM56 29h1v7h-1zM53 32h1v7h-1zM55 37h1v5h-1zM52 41h1v2h-1zM54 43h1v3h-1zM51 44h1v3h-1zM53 47h1v3h-1zM50 48h1v2h-1zM49 51h1v2h-1zM52 52h1v2h-1zM48 54h1v3h-1zM51 56h1v2h-1zM47 57h1v3h-1zM46 60h1v3h-1zM50 61h1v2h-1zM45 63h1v2h-1zM44 66h1v1h-1zM49 66h1v1h-1zM43 68h1v2h-1zM42 71h1v1h-1zM41 74h1v1h-1zM30 99h1v1h-1z"/>
<path color="#55c8fe" d="M56 0h1v12h-1zM60 0h1v1h-1zM59 1h1v6h-1zM58 8h1v7h-1zM55 15h1v9h-1zM57 15h1v7h-1zM56 22h1v7h-1zM54 27h1v7h-1zM55 30h1v7h-1zM54 37h1v6h-1zM53 39h1v3h-1zM52 43h2v2h-2zM53 45h1v2h-1zM51 47h2v2h-2zM52 49h1v3h-1zM50 50h1v2h-1zM51 52h1v4h-1zM49 53h1v3h-1zM48 57h1v2h-1zM50 57h1v4h-1zM47 60h1v3h-1zM49 61h1v5h-1zM46 63h1v2h-1zM45 65h1v2h-1zM44 67h1v2h-1zM43 70h1v1h-1zM48 71h1v1h-1zM42 72h1v1h-1zM46 77h1v1h-1zM45 79h1v1h-1zM44 81h1v1h-1zM43 83h1v1h-1zM41 86h1v1h-1zM40 88h1v1h-1zM38 90h1v1h-1zM37 91h1v1h-1zM36 92h1v1h-1zM33 93h1v1h-1zM36 94h1v1h-1zM34 99h1v1h-1z"/>
<path color="#57cbff" d="M57 0h3v1h-3zM57 1h2v7h-2zM57 8h1v7h-1zM56 12h1v10h-1zM55 24h1v6h-1zM54 34h1v3h-1zM53 42h1v1h-1zM52 45h1v2h-1zM51 49h1v3h-1zM50 52h1v5h-1zM49 56h1v5h-1zM48 59h1v12h-1zM47 63h1v2h-1zM46 65h1v2h-1zM45 67h1v1h-1zM44 69h1v1h-1zM43 71h1v1h-1zM42 73h1v1h-1zM47 74h1v1h-1z"/>
<path color="#5ecdfc" d="M47 65h1v2h-1zM46 67h1v1h-1zM45 68h1v1h-1zM44 70h1v1h-1zM43 72h1v1h-1zM42 74h1v1h-1zM42 77h1v1h-1zM36 86h1v1h-1zM35 88h1v1h-1zM28 94h1v1h-1z"/>
<path color="#6cd0f5" d="M47 67h1v3h-1zM46 68h1v1h-1zM45 69h1v1h-1zM44 71h1v1h-1zM43 73h1v1h-1zM47 73h1v1h-1zM42 75h1v1h-1zM46 75h1v1h-1z"/>
<path color="#79d3ef" d="M46 69h1v1h-1zM45 70h1v2h-1zM47 70h1v3h-1zM44 72h1v1h-1zM43 74h1v1h-1z"/>
<path color="#86d6e8" d="M46 70h1v1h-1zM36 93h1v1h-1z"/>
<path color="#94d9e2" d="M46 71h1v2h-1zM45 72h1v1h-1zM44 73h1v1h-1z"/>
<path color="#a1dcda" d="M46 73h1v1h-1zM38 89h1v1h-1zM35 92h1v1h-1zM31 94h1v1h-1zM30 96h1v1h-1z"/>
<path color="#aeddce" d="M45 73h1v1h-1zM41 79h1v1h-1z"/>
<path color="#c9deb5" d="M46 74h1v1h-1zM37 90h1v1h-1z"/>
<path color="#d6dfa9" d="M29 92h1v1h-1z"/>
<path color="#dfdd9d" d="M43 75h1v1h-1zM35 94h1v1h-1z"/>
<path color="#efd786" d="M44 74h2v1h-2zM40 81h1v1h-1zM30 98h1v1h-1z"/>
<path color="#fdcf6f" d="M36 91h1v1h-1zM34 96h1v1h-1z"/>
<path color="#fbc464" d="M45 77h1v1h-1zM44 79h1v1h-1zM43 81h1v1h-1zM39 83h1v1h-1zM42 83h1v1h-1zM37 86h1v1h-1zM40 86h1v1h-1zM36 88h1v1h-1zM39 88h1v1h-1z"/>
<path color="#f9b959" d="M45 75h1v2h-1zM34 98h1v1h-1z"/>
<path color="#f8ae4e" d="M34 92h1v1h-1z"/>
<path color="#f6a242" d="M44 75h1v1h-1zM35 93h1v1h-1zM32 94h1v1h-1z"/>
<path color="#6a2400" d="M44 76h1v2h-1zM43 77h1v3h-1zM42 79h1v3h-1zM41 81h1v3h-1zM40 83h1v2h-1zM39 85h1v2h-1zM38 86h1v3h-1zM37 88h1v2h-1zM36 90h1v1h-1zM35 91h1v1h-1zM33 92h1v1h-1zM34 93h1v2h-1zM33 94h1v1h-1zM32 95h1v5h-1zM31 96h1v1h-1zM33 96h1v1h-1zM31 98h1v2h-1zM33 98h1v2h-1z"/>
</g>
<g class="nf">
<path color="#172968" d="M23 92h2v1h-2z"/>
<path color="#182a6c" d="M22 91h1v2h-1zM24 93h2v1h-2z"/>
<path color="#192c71" d="M29 89h7v1h-7zM21 91h1v1h-1zM24 91h1v1h-1zM28 91h6v1h-6zM25 92h1v1h-1z"/>
<path color="#192e75" d="M17 89h1v1h-1zM28 89h1v2h-1zM19 90h1v1h-1zM29 90h7v1h-7zM27 91h1v1h-1zM21 92h1v1h-1zM23 93h1v1h-1z"/>
<path color="#1a3079" d="M27 89h1v2h-1zM36 89h1v1h-1zM26 91h1v1h-1zM27 93h5v1h-5z"/>
<path color="#1b327d" d="M26 89h1v2h-1zM30 92h1v1h-1z"/>
<path color="#1b3381" d="M25 90h1v2h-1z"/>
<path color="#1c3585" d="M8 84h1v1h-1zM11 85h1v1h-1zM14 87h1v1h-1zM33 87h2v1h-2zM25 89h1v1h-1zM24 90h1v1h-1zM20 91h1v1h-1zM22 93h1v1h-1z"/>
<path color="#1d3789" d="M32 87h1v1h-1zM35 87h1v1h-1zM24 89h1v1h-1z"/>
<path color="#1f398c" d="M34 85h2v1h-2zM31 87h1v1h-1zM20 92h1v1h-1z"/>
<path color="#203b8f" d="M34 84h3v1h-3zM50 84h14v1h-14zM32 85h2v1h-2zM36 85h1v1h-1zM30 87h1v1h-1zM23 89h1v2h-1zM55 89h9v3h-9zM15 90h4v2h-4zM20 90h3v1h-3zM52 90h3v1h-3zM14 91h1v1h-1zM19 91h1v1h-1zM53 91h2v1h-2zM0 93h18v1h-18zM21 93h1v1h-1zM24 94h2v1h-2z"/>
<path color="#213d93" d="M50 80h14v1h-14zM7 84h1v1h-1zM9 84h1v1h-1zM33 84h1v1h-1zM37 84h1v1h-1zM10 85h1v1h-1zM12 85h1v1h-1zM31 85h1v1h-1zM13 87h1v1h-1zM15 87h1v1h-1zM28 87h2v1h-2zM36 87h1v1h-1zM12 89h5v1h-5zM18 89h5v1h-5zM53 89h2v1h-2zM0 90h15v1h-15zM51 90h1v2h-1zM0 91h14v2h-14zM34 91h1v1h-1zM52 91h1v1h-1zM14 92h2v1h-2zM31 92h1v1h-1zM18 93h3v1h-3zM23 94h1v1h-1z"/>
<path color="#223f96" d="M14 84h10v1h-10zM31 84h2v1h-2zM16 85h6v1h-6zM30 85h1v1h-1zM37 85h1v1h-1zM16 87h12v1h-12zM53 87h11v1h-11zM0 89h12v1h-12zM52 89h1v1h-1zM50 90h1v2h-1zM16 92h4v1h-4zM52 93h12v1h-12z"/>
<path color="#24419a" d="M0 76h1v1h-1zM50 77h14v1h-14zM0 78h18v1h-18zM53 78h11v1h-11zM0 80h20v1h-20zM0 82h24v1h-24zM49 82h15v1h-15zM0 84h7v2h-7zM10 84h4v1h-4zM24 84h7v1h-7zM38 84h1v1h-1zM47 84h3v1h-3zM7 85h3v1h-3zM13 85h3v1h-3zM22 85h8v1h-8zM54 85h10v1h-10zM0 87h13v1h-13zM52 87h1v1h-1zM51 89h1v1h-1zM49 90h1v2h-1zM50 92h14v1h-14zM50 93h2v1h-2zM0 94h18v6h-18zM18 95h13v1h-13zM50 96h14v1h-14zM18 97h4v1h-4z"/>
<path color="#25439d" d="M0 75h15v1h-15zM1 76h18v1h-18zM52 76h12v1h-12zM0 77h12v1h-12zM18 78h3v1h-3zM50 78h3v1h-3zM20 80h3v1h-3zM49 80h1v1h-1zM24 82h4v1h-4zM34 82h4v1h-4zM48 82h1v1h-1zM46 84h1v1h-1zM52 85h2v1h-2zM51 87h1v2h-1zM50 88h1v2h-1zM52 88h12v1h-12zM48 90h1v2h-1zM49 93h1v1h-1zM18 94h5v1h-5zM44 95h20v1h-20zM18 96h6v1h-6zM22 97h4v1h-4zM48 97h16v1h-16zM18 98h6v2h-6z"/>
<path color="#2644a0" d="M15 75h3v1h-3zM63 75h1v1h-1zM19 76h2v1h-2zM50 76h2v1h-2zM12 77h6v1h-6zM21 78h2v1h-2zM49 78h1v1h-1zM0 79h17v1h-17zM23 80h2v1h-2zM48 80h1v1h-1zM0 81h17v1h-17zM28 82h6v1h-6zM38 82h1v1h-1zM47 82h1v1h-1zM0 83h18v1h-18zM51 85h1v1h-1zM0 86h17v1h-17zM50 87h1v1h-1zM0 88h18v1h-18zM49 89h1v1h-1zM47 90h1v2h-1zM32 93h1v1h-1zM48 93h1v1h-1zM52 94h12v1h-12zM43 95h1v1h-1zM26 97h5v1h-5zM46 97h2v1h-2zM50 98h14v2h-14z"/>
<path color="#2746a4" d="M63 69h1v6h-1zM62 71h1v5h-1zM61 73h1v3h-1zM18 75h2v1h-2zM55 75h6v1h-6zM21 76h1v1h-1zM18 77h1v1h-1zM23 78h2v1h-2zM48 78h1v1h-1zM17 79h2v1h-2zM56 79h8v1h-8zM25 80h3v1h-3zM47 80h1v1h-1zM17 81h2v1h-2zM55 81h9v1h-9zM46 82h1v1h-1zM18 83h2v1h-2zM54 83h10v1h-10zM45 84h1v1h-1zM50 85h1v1h-1zM17 86h3v1h-3zM54 86h10v1h-10zM49 87h1v1h-1zM18 88h2v1h-2zM48 89h1v1h-1zM46 91h1v1h-1zM26 92h1v1h-1zM47 93h1v1h-1zM26 94h2v1h-2zM50 94h2v1h-2zM31 95h1v1h-1zM42 95h1v1h-1zM24 96h1v1h-1zM48 96h2v1h-2zM45 97h1v1h-1zM48 98h2v2h-2z"/>
<path color="#2849a6" d="M0 0h4v75h-4zM63 65h1v4h-1zM62 69h1v2h-1zM61 70h1v3h-1zM60 71h1v4h-1zM58 72h2v3h-2zM56 74h2v1h-2zM20 75h1v1h-1zM54 75h1v1h-1zM22 76h2v1h-2zM49 76h1v1h-1zM19 77h2v1h-2zM25 78h1v1h-1zM19 79h2v1h-2zM54 79h2v1h-2zM28 80h3v1h-3zM19 81h2v1h-2zM54 81h1v1h-1zM39 82h1v1h-1zM20 83h1v1h-1zM53 83h1v1h-1zM49 85h1v1h-1zM20 86h2v1h-2zM53 86h1v1h-1zM48 87h1v1h-1zM20 88h2v1h-2zM46 90h1v1h-1zM49 92h1v1h-1zM46 93h1v1h-1zM49 94h1v1h-1zM41 95h1v1h-1zM25 96h1v1h-1zM47 96h1v1h-1zM44 97h1v1h-1zM24 98h1v2h-1zM47 98h1v2h-1z"/>
<path color="#284ba9" d="M4 0h5v75h-5zM63 63h1v2h-1zM62 66h1v3h-1zM61 69h1v1h-1zM59 70h2v1h-2zM58 71h2v1h-2zM57 72h1v2h-1zM56 73h1v1h-1zM55 74h1v1h-1zM21 75h1v1h-1zM53 75h1v1h-1zM24 76h1v1h-1zM21 77h1v1h-1zM26 78h2v1h-2zM21 79h1v1h-1zM53 79h1v1h-1zM31 80h2v1h-2zM21 81h2v1h-2zM52 81h2v1h-2zM21 83h2v1h-2zM51 83h2v1h-2zM44 84h1v1h-1zM48 85h1v1h-1zM22 86h1v1h-1zM52 86h1v1h-1zM46 87h2v1h-2zM22 88h1v1h-1zM47 89h1v1h-1zM45 90h1v2h-1zM47 92h2v1h-2zM45 93h1v1h-1zM47 94h2v1h-2zM40 95h1v1h-1zM26 96h1v1h-1zM45 96h2v1h-2zM42 97h2v1h-2zM45 98h2v2h-2z"/>
<path color="#294eab" d="M9 0h3v43h-3zM9 43h2v32h-2zM63 60h1v3h-1zM62 64h1v2h-1zM61 67h1v2h-1zM60 68h1v2h-1zM59 69h1v1h-1zM58 70h1v1h-1zM57 71h1v1h-1zM56 72h1v1h-1zM55 73h1v1h-1zM54 74h1v1h-1zM22 75h1v1h-1zM25 76h1v1h-1zM48 76h1v1h-1zM22 77h1v1h-1zM28 78h3v1h-3zM47 78h1v1h-1zM22 79h1v1h-1zM33 80h4v1h-4zM46 80h1v1h-1zM23 81h1v1h-1zM45 82h1v1h-1zM23 83h1v1h-1zM47 85h1v1h-1zM23 86h2v1h-2zM51 86h1v1h-1zM23 88h2v1h-2zM46 89h1v1h-1zM44 91h1v1h-1zM46 92h1v1h-1zM44 93h1v1h-1zM46 94h1v1h-1zM33 95h7v1h-7zM44 96h1v1h-1zM41 97h1v1h-1zM25 98h1v2h-1zM44 98h1v2h-1z"/>
<path color="#2a50ae" d="M12 0h3v41h-3zM12 41h2v17h-2zM11 43h1v32h-1zM12 58h1v17h-1zM63 58h1v2h-1zM62 62h1v2h-1zM61 65h1v2h-1zM60 67h1v1h-1zM59 68h1v1h-1zM58 69h1v1h-1zM13 70h1v5h-1zM55 72h1v1h-1zM53 74h1v1h-1zM23 75h1v1h-1zM52 75h1v1h-1zM26 76h1v1h-1zM23 77h1v1h-1zM31 78h1v1h-1zM23 79h1v1h-1zM52 79h1v1h-1zM37 80h2v1h-2zM24 81h1v1h-1zM51 81h1v1h-1zM24 83h2v1h-2zM50 83h1v1h-1zM25 86h1v1h-1zM49 86h2v1h-2zM37 87h1v1h-1zM45 87h1v1h-1zM25 88h1v1h-1zM48 88h2v1h-2zM27 92h1v1h-1zM45 92h1v1h-1zM45 94h1v1h-1zM27 96h1v1h-1zM43 96h1v1h-1zM40 97h1v1h-1zM43 98h1v2h-1z"/>
<path color="#2b53b0" d="M15 0h2v50h-2zM14 41h1v34h-1zM15 50h1v13h-1zM63 55h1v3h-1zM13 58h1v12h-1zM62 60h1v2h-1zM61 63h1v2h-1zM60 66h1v1h-1zM15 67h1v8h-1zM59 67h1v1h-1zM58 68h1v1h-1zM57 70h1v1h-1zM56 71h1v1h-1zM54 73h1v1h-1zM24 75h1v1h-1zM27 76h2v1h-2zM24 77h1v1h-1zM32 78h1v1h-1zM24 79h1v1h-1zM39 80h1v1h-1zM25 81h1v1h-1zM26 83h2v1h-2zM46 85h1v1h-1zM26 86h1v1h-1zM48 86h1v1h-1zM47 88h1v1h-1zM43 93h1v1h-1zM39 97h1v1h-1zM26 98h1v2h-1z"/>
<path color="#2b55b3" d="M17 0h3v41h-3zM17 41h2v12h-2zM16 50h1v25h-1zM17 53h1v22h-1zM63 53h1v2h-1zM62 58h1v2h-1zM61 61h1v2h-1zM15 63h1v4h-1zM60 64h1v2h-1zM59 66h1v1h-1zM58 67h1v1h-1zM57 69h1v1h-1zM56 70h1v1h-1zM55 71h1v1h-1zM18 72h1v3h-1zM25 75h1v1h-1zM51 75h1v1h-1zM29 76h2v1h-2zM25 77h1v1h-1zM33 78h1v1h-1zM25 79h1v1h-1zM40 80h1v1h-1zM26 81h2v1h-2zM28 83h2v1h-2zM38 85h1v1h-1zM27 86h1v1h-1zM47 86h1v1h-1zM26 88h1v1h-1zM46 88h1v1h-1zM44 92h1v1h-1zM44 94h1v1h-1zM42 96h1v1h-1zM38 97h1v1h-1zM42 98h1v2h-1z"/>
<path color="#2c58b6" d="M20 0h2v44h-2zM19 41h1v34h-1zM20 44h1v12h-1zM63 51h1v2h-1zM18 53h1v19h-1zM62 56h1v2h-1zM61 59h1v2h-1zM60 62h1v2h-1zM59 65h1v1h-1zM58 66h1v1h-1zM57 68h1v1h-1zM20 70h1v5h-1zM54 72h1v1h-1zM53 73h1v1h-1zM52 74h1v1h-1zM31 76h1v1h-1zM34 78h1v1h-1zM26 79h2v1h-2zM51 79h1v1h-1zM28 81h2v1h-2zM50 81h1v1h-1zM30 83h1v1h-1zM49 83h1v1h-1zM37 97h1v1h-1zM27 98h1v2h-1z"/>
<path color="#2d5ab8" d="M22 0h2v47h-2zM21 44h1v31h-1zM22 47h1v12h-1zM63 48h1v3h-1zM62 54h1v2h-1zM20 56h1v14h-1zM61 57h1v2h-1zM60 60h1v2h-1zM59 63h1v2h-1zM58 65h1v1h-1zM22 68h1v7h-1zM56 69h1v1h-1zM55 70h1v1h-1zM26 75h1v1h-1zM26 77h2v1h-2zM28 79h2v1h-2zM30 81h3v1h-3zM28 86h1v1h-1zM46 86h1v1h-1zM27 88h1v1h-1zM45 88h1v1h-1zM43 92h1v1h-1zM43 94h1v1h-1zM41 96h1v1h-1zM41 98h1v2h-1z"/>
<path color="#2d5dbb" d="M24 0h2v42h-2zM24 42h1v16h-1zM63 46h1v2h-1zM23 47h1v28h-1zM62 52h1v2h-1zM61 56h1v1h-1zM22 59h1v9h-1zM60 59h1v1h-1zM59 62h1v1h-1zM58 64h1v1h-1zM24 67h1v8h-1zM57 67h1v1h-1zM54 71h1v1h-1zM53 72h1v1h-1zM27 75h2v1h-2zM50 75h1v1h-1zM28 77h2v1h-2zM35 78h1v1h-1zM30 79h2v1h-2zM33 81h1v1h-1zM31 83h2v1h-2zM39 84h1v1h-1zM45 85h1v2h-1zM29 86h1v1h-1zM44 87h1v2h-1zM28 88h1v1h-1zM28 96h1v1h-1zM31 97h1v1h-1zM33 97h4v1h-4z"/>
<path color="#2e61be" d="M26 0h2v24h-2zM26 24h1v27h-1zM25 42h1v33h-1zM63 44h1v2h-1zM62 50h1v2h-1zM61 54h1v2h-1zM60 57h1v2h-1zM24 58h1v9h-1zM59 60h1v2h-1zM58 63h1v1h-1zM57 66h1v1h-1zM26 68h1v7h-1zM56 68h1v1h-1zM55 69h1v1h-1zM52 73h1v1h-1zM51 74h1v1h-1zM29 75h2v1h-2zM32 76h1v1h-1zM47 76h1v1h-1zM30 77h1v1h-1zM36 78h1v1h-1zM46 78h1v1h-1zM32 79h3v1h-3zM50 79h1v1h-1zM45 80h1v1h-1zM49 81h1v1h-1zM44 82h1v1h-1zM48 83h1v1h-1zM43 84h1v1h-1zM30 86h1v1h-1zM29 88h1v1h-1zM45 89h1v1h-1zM44 90h1v1h-1zM43 91h1v1h-1zM42 92h1v3h-1zM40 96h1v1h-1zM40 98h1v2h-1z"/>
<path color="#3064c1" d="M28 0h2v11h-2zM28 11h1v29h-1zM27 24h1v51h-1zM63 42h1v2h-1zM62 48h1v2h-1zM26 51h1v17h-1zM61 52h1v2h-1zM60 56h1v1h-1zM59 59h1v1h-1zM58 62h1v1h-1zM57 65h1v1h-1zM56 67h1v1h-1zM28 69h1v6h-1zM54 70h1v1h-1zM31 75h1v1h-1zM33 76h1v1h-1zM31 77h1v1h-1zM37 78h1v1h-1zM35 79h1v1h-1zM34 81h1v1h-1zM44 85h1v2h-1zM43 87h1v2h-1zM23 91h1v1h-1zM28 98h1v2h-1z"/>
<path color="#3167c4" d="M30 0h2v5h-2zM30 5h1v23h-1zM29 11h1v44h-1zM63 39h1v3h-1zM28 40h1v29h-1zM62 46h1v2h-1zM61 50h1v2h-1zM60 54h1v2h-1zM59 57h1v2h-1zM58 61h1v1h-1zM29 65h1v10h-1zM55 68h1v1h-1zM30 70h1v5h-1zM53 71h1v1h-1zM32 77h1v1h-1zM38 78h2v1h-2zM36 79h1v1h-1zM40 82h1v1h-1zM44 89h1v1h-1zM43 90h1v1h-1zM42 91h1v1h-1zM41 92h1v3h-1zM39 96h1v1h-1zM39 98h1v2h-1z"/>
<path color="#326bc7" d="M32 0h2v1h-2zM32 1h1v18h-1zM31 5h1v32h-1zM30 28h1v42h-1zM63 36h1v3h-1zM62 44h1v2h-1zM61 49h1v1h-1zM60 53h1v1h-1zM29 55h1v10h-1zM59 56h1v1h-1zM58 60h1v1h-1zM57 64h1v1h-1zM56 66h1v1h-1zM54 69h1v1h-1zM52 72h1v1h-1zM32 75h1v1h-1zM34 76h1v1h-1zM33 77h1v1h-1zM40 78h1v1h-1zM33 83h1v1h-1z"/>
<path color="#336ec9" d="M34 0h1v12h-1zM33 1h1v26h-1zM32 19h1v26h-1zM63 32h1v4h-1zM31 37h1v38h-1zM62 42h1v2h-1zM61 47h1v2h-1zM60 51h1v2h-1zM59 55h1v1h-1zM32 58h1v5h-1zM58 59h1v1h-1zM57 63h1v1h-1zM55 67h1v1h-1zM53 70h1v1h-1zM51 73h1v1h-1zM33 75h1v1h-1zM49 75h1v1h-1zM35 76h1v1h-1zM34 77h1v1h-1zM41 78h1v1h-1zM49 79h1v1h-1zM35 81h1v1h-1zM48 81h1v1h-1zM47 83h1v1h-1zM31 86h1v1h-1zM30 88h1v1h-1z"/>
<path color="#3472cc" d="M35 0h2v7h-2zM35 7h1v12h-1zM34 12h1v20h-1zM33 27h1v32h-1zM63 29h1v3h-1zM62 40h1v2h-1zM32 45h1v13h-1zM61 45h1v2h-1zM60 50h1v1h-1zM59 53h1v2h-1zM58 57h1v2h-1zM57 61h1v2h-1zM32 63h1v5h-1zM56 65h1v1h-1zM54 68h1v1h-1zM32 74h1v1h-1zM46 76h1v1h-1zM35 77h1v1h-1zM45 78h1v1h-1zM37 79h1v1h-1zM41 80h1v1h-1zM44 80h1v1h-1zM43 82h1v1h-1zM42 84h1v1h-1zM43 85h1v2h-1zM42 87h1v2h-1z"/>
<path color="#3575cf" d="M37 0h2v3h-2zM37 3h1v11h-1zM36 7h1v17h-1zM35 19h1v16h-1zM63 25h1v4h-1zM34 32h1v23h-1zM62 38h1v2h-1zM61 44h1v1h-1zM60 48h1v2h-1zM59 52h1v1h-1zM58 56h1v1h-1zM33 59h1v5h-1zM57 60h1v1h-1zM56 64h1v1h-1zM55 66h1v1h-1zM32 68h1v6h-1zM53 69h1v1h-1zM52 71h1v1h-1zM50 74h1v1h-1zM34 75h1v1h-1zM36 76h1v1h-1zM34 83h1v1h-1zM43 89h1v1h-1zM42 90h1v1h-1zM41 91h1v1h-1zM40 92h1v3h-1zM38 96h1v1h-1zM38 98h1v2h-1z"/>
<path color="#3679d2" d="M39 0h1v3h-1zM38 3h1v11h-1zM37 14h1v12h-1zM63 22h1v3h-1zM36 24h1v13h-1zM62 34h1v4h-1zM35 35h1v17h-1zM61 42h1v2h-1zM60 47h1v1h-1zM59 51h1v1h-1zM34 55h1v5h-1zM58 55h1v1h-1zM57 59h1v1h-1zM56 63h1v1h-1zM33 64h1v4h-1zM54 67h1v1h-1zM33 74h1v1h-1zM37 76h1v1h-1zM36 77h1v1h-1z"/>
<path color="#377cd5" d="M40 0h1v3h-1zM39 3h1v12h-1zM38 14h1v13h-1zM63 18h1v4h-1zM37 26h1v13h-1zM62 31h1v3h-1zM36 37h1v13h-1zM61 41h1v1h-1zM60 46h1v1h-1zM59 50h1v1h-1zM35 52h1v6h-1zM58 54h1v1h-1zM57 58h1v1h-1zM34 60h1v4h-1zM56 62h1v1h-1zM55 65h1v1h-1zM33 68h1v6h-1zM51 72h1v1h-1zM35 75h1v1h-1zM37 77h1v1h-1zM36 81h1v1h-1zM32 86h1v1h-1zM31 88h1v1h-1z"/>
<path color="#3980d8" d="M41 0h1v3h-1zM40 3h1v13h-1zM39 15h1v14h-1zM63 15h1v3h-1zM38 27h1v14h-1zM62 29h1v2h-1zM37 39h1v9h-1zM61 40h1v1h-1zM60 45h1v1h-1zM59 49h1v1h-1zM36 50h1v5h-1zM58 53h1v1h-1zM57 57h1v1h-1zM35 58h1v3h-1zM56 61h1v1h-1zM34 64h1v5h-1zM53 68h1v1h-1zM52 70h1v1h-1zM34 74h1v1h-1zM38 76h1v2h-1zM49 77h1v1h-1zM48 79h1v1h-1zM47 81h1v1h-1zM46 83h1v1h-1zM29 96h1v1h-1z"/>
<path color="#3a84da" d="M42 0h1v3h-1zM41 3h1v13h-1zM63 12h1v3h-1zM40 16h1v12h-1zM62 26h1v3h-1zM39 29h1v11h-1zM61 37h1v3h-1zM38 41h1v6h-1zM60 44h1v1h-1zM37 48h1v5h-1zM59 48h1v1h-1zM58 52h1v1h-1zM36 55h1v4h-1zM57 56h1v1h-1zM56 60h1v1h-1zM35 61h1v4h-1zM55 64h1v1h-1zM54 66h1v1h-1zM34 69h1v5h-1zM50 73h1v1h-1zM48 75h1v1h-1zM39 77h1v1h-1zM42 78h1v1h-1zM38 79h1v1h-1zM35 83h1v1h-1zM42 85h1v2h-1zM41 87h1v2h-1zM42 89h1v1h-1zM41 90h1v1h-1zM40 91h1v1h-1zM39 92h1v3h-1zM37 96h1v1h-1zM37 98h1v2h-1z"/>
<path color="#3b87dd" d="M43 0h1v3h-1zM42 3h1v12h-1zM63 9h1v3h-1zM41 16h1v12h-1zM62 23h1v3h-1zM40 28h1v12h-1zM61 35h1v2h-1zM39 40h1v6h-1zM60 42h1v2h-1zM38 47h1v4h-1zM59 47h1v1h-1zM58 51h1v1h-1zM37 53h1v4h-1zM57 55h1v1h-1zM36 59h1v3h-1zM56 59h1v1h-1zM55 63h1v1h-1zM35 65h1v3h-1zM53 67h1v1h-1zM52 69h1v1h-1zM36 75h1v1h-1zM39 76h3v1h-3zM40 77h1v1h-1z"/>
<path color="#3c8be0" d="M44 0h1v3h-1zM43 3h1v12h-1zM63 5h1v4h-1zM42 15h1v12h-1zM62 20h1v3h-1zM41 28h1v11h-1zM61 32h1v3h-1zM40 40h1v5h-1zM60 41h1v1h-1zM39 46h1v4h-1zM59 46h1v1h-1zM58 50h1v1h-1zM38 51h1v4h-1zM57 54h1v1h-1zM37 57h1v3h-1zM56 58h1v1h-1zM36 62h1v3h-1zM55 62h1v1h-1zM54 65h1v1h-1zM35 68h1v3h-1zM51 71h1v1h-1zM35 73h1v2h-1zM42 76h1v1h-1zM44 78h1v1h-1zM43 80h1v1h-1zM42 82h1v1h-1zM41 84h1v1h-1zM33 86h1v1h-1zM32 88h1v1h-1zM28 92h1v1h-1zM29 98h1v2h-1z"/>
<path color="#3d8ee3" d="M63 2h1v3h-1zM44 3h1v10h-1zM43 15h1v10h-1zM62 17h1v3h-1zM42 27h1v11h-1zM61 29h1v3h-1zM41 39h1v5h-1zM60 40h1v1h-1zM40 45h1v3h-1zM59 45h1v1h-1zM58 49h1v1h-1zM39 50h1v3h-1zM57 53h1v1h-1zM38 55h1v3h-1zM56 57h1v1h-1zM37 60h1v2h-1zM55 61h1v1h-1zM54 64h1v1h-1zM36 65h1v3h-1zM53 66h1v1h-1zM52 68h1v1h-1zM35 71h1v2h-1zM49 74h1v1h-1zM37 75h1v1h-1zM37 81h1v1h-1z"/>
<path color="#3e92e5" d="M45 0h1v8h-1zM63 0h1v2h-1zM44 13h1v9h-1zM62 15h1v2h-1zM43 25h1v12h-1zM61 27h1v2h-1zM42 38h1v5h-1zM60 38h1v2h-1zM41 44h1v3h-1zM59 44h1v1h-1zM40 48h1v3h-1zM58 48h1v1h-1zM57 52h1v1h-1zM39 53h1v3h-1zM56 56h1v1h-1zM38 58h1v2h-1zM55 60h1v1h-1zM37 62h1v3h-1zM54 63h1v1h-1zM36 68h1v2h-1zM51 70h1v1h-1zM50 72h1v1h-1z"/>
<path color="#3f96e8" d="M46 0h1v3h-1zM45 8h1v10h-1zM62 12h1v3h-1zM44 22h1v13h-1zM61 25h1v2h-1zM60 36h1v2h-1zM43 37h1v6h-1zM42 43h1v3h-1zM59 43h1v1h-1zM41 47h1v3h-1zM58 47h1v1h-1zM40 51h1v3h-1zM57 51h1v1h-1zM56 55h1v1h-1zM39 56h1v2h-1zM55 59h1v1h-1zM38 60h1v3h-1zM54 62h1v1h-1zM37 65h1v2h-1zM36 70h1v5h-1zM41 77h1v1h-1zM39 79h1v1h-1zM36 83h1v1h-1z"/>
<path color="#4099eb" d="M46 3h1v10h-1zM62 9h1v3h-1zM45 18h1v14h-1zM61 22h1v3h-1zM60 34h1v2h-1zM44 35h1v7h-1zM59 42h1v1h-1zM43 43h1v2h-1zM42 46h1v3h-1zM58 46h1v1h-1zM41 50h1v3h-1zM57 50h1v1h-1zM40 54h1v3h-1zM56 54h1v1h-1zM39 58h1v3h-1zM55 58h1v1h-1zM54 61h1v1h-1zM38 63h1v2h-1zM53 65h1v1h-1zM37 67h1v2h-1zM52 67h1v1h-1zM51 69h1v1h-1zM38 75h1v1h-1zM43 76h1v1h-1zM48 77h1v1h-1zM47 79h1v1h-1zM46 81h1v1h-1zM45 83h1v1h-1zM41 89h1v1h-1zM40 90h1v1h-1zM39 91h1v1h-1zM38 92h1v3h-1zM36 98h1v2h-1z"/>
<path color="#429ded" d="M47 0h1v8h-1zM62 7h1v2h-1zM46 13h1v14h-1zM61 20h1v2h-1zM60 31h1v3h-1zM45 32h1v9h-1zM59 41h1v1h-1zM44 42h1v2h-1zM43 45h1v3h-1zM58 45h1v1h-1zM42 49h1v2h-1zM57 49h1v1h-1zM41 53h1v2h-1zM56 53h1v1h-1zM55 56h1v2h-1zM40 57h1v2h-1zM54 60h1v1h-1zM39 61h1v2h-1zM53 64h1v1h-1zM38 65h1v2h-1zM37 69h1v2h-1zM49 73h1v1h-1zM47 75h1v1h-1z"/>
<path color="#43a0ef" d="M48 0h1v1h-1zM62 5h1v2h-1zM47 8h1v12h-1zM61 17h1v3h-1zM46 27h1v11h-1zM60 29h1v2h-1zM59 39h1v2h-1zM45 41h1v2h-1zM44 44h1v2h-1zM58 44h1v1h-1zM43 48h1v2h-1zM57 48h1v1h-1zM42 51h1v2h-1zM56 52h1v1h-1zM41 55h1v2h-1zM55 55h1v1h-1zM40 59h1v2h-1zM54 59h1v1h-1zM39 63h1v2h-1zM53 63h1v1h-1zM52 66h1v1h-1zM38 67h1v1h-1zM51 68h1v1h-1zM37 71h1v4h-1zM50 71h1v1h-1zM39 75h1v1h-1zM38 81h1v1h-1zM41 85h1v1h-1zM34 86h1v1h-1zM40 87h1v1h-1zM33 88h1v1h-1z"/>
<path color="#44a3f0" d="M48 1h1v11h-1zM62 2h1v3h-1zM61 15h1v2h-1zM47 20h1v11h-1zM60 27h1v2h-1zM59 37h1v2h-1zM46 38h1v4h-1zM45 43h1v2h-1zM58 43h1v1h-1zM44 46h1v2h-1zM57 47h1v1h-1zM43 50h1v2h-1zM56 51h1v1h-1zM42 53h1v2h-1zM55 54h1v1h-1zM41 57h1v2h-1zM54 58h1v1h-1zM40 61h1v2h-1zM53 62h1v1h-1zM39 65h1v1h-1zM38 68h1v2h-1z"/>
<path color="#45a6f2" d="M49 0h1v4h-1zM62 0h1v2h-1zM48 12h1v11h-1zM61 13h1v2h-1zM60 24h1v3h-1zM47 31h1v9h-1zM59 35h1v2h-1zM46 42h1v2h-1zM58 42h1v1h-1zM45 45h1v2h-1zM57 46h1v1h-1zM44 48h1v2h-1zM56 50h1v1h-1zM43 52h1v2h-1zM55 53h1v1h-1zM42 55h1v2h-1zM54 57h1v1h-1zM41 59h1v2h-1zM53 61h1v1h-1zM40 63h1v1h-1zM52 65h1v1h-1zM39 66h1v2h-1zM51 67h1v1h-1zM38 70h1v1h-1zM50 70h1v1h-1zM40 79h1v1h-1zM36 96h1v1h-1z"/>
<path color="#46aaf4" d="M49 4h1v11h-1zM61 11h1v2h-1zM60 22h1v2h-1zM48 23h1v11h-1zM59 32h1v3h-1zM47 40h1v2h-1zM58 41h1v1h-1zM46 44h1v1h-1zM57 45h1v1h-1zM45 47h1v2h-1zM56 48h1v2h-1zM44 50h1v2h-1zM55 52h1v1h-1zM43 54h1v1h-1zM54 56h1v1h-1zM42 57h1v2h-1zM53 60h1v1h-1zM41 61h1v1h-1zM40 64h1v2h-1zM39 68h1v1h-1zM38 71h1v4h-1zM40 89h1v1h-1zM39 90h1v1h-1zM38 91h1v1h-1zM37 92h1v3h-1zM29 94h1v1h-1z"/>
<path color="#47adf5" d="M50 0h1v7h-1zM61 8h1v3h-1zM49 15h1v11h-1zM60 19h1v3h-1zM59 30h1v2h-1zM48 34h1v7h-1zM58 40h1v1h-1zM47 42h1v2h-1zM57 44h1v1h-1zM46 45h1v2h-1zM56 47h1v1h-1zM45 49h1v1h-1zM55 51h1v1h-1zM44 52h1v2h-1zM43 55h1v2h-1zM54 55h1v1h-1zM42 59h1v1h-1zM53 59h1v1h-1zM41 62h1v2h-1zM52 64h1v1h-1zM40 66h1v1h-1zM39 69h1v2h-1zM50 69h1v1h-1zM49 72h1v1h-1zM48 74h1v1h-1zM37 83h1v1h-1z"/>
<path color="#48b0f7" d="M61 6h1v2h-1zM50 7h1v11h-1zM60 17h1v2h-1zM49 26h1v12h-1zM59 28h1v2h-1zM58 38h1v2h-1zM48 41h1v2h-1zM57 43h1v1h-1zM47 44h1v2h-1zM56 46h1v1h-1zM46 47h1v2h-1zM45 50h1v2h-1zM55 50h1v1h-1zM44 54h1v1h-1zM54 54h1v1h-1zM43 57h1v2h-1zM53 58h1v1h-1zM42 60h1v2h-1zM52 63h1v1h-1zM41 64h1v1h-1zM51 66h1v1h-1zM40 67h1v2h-1zM39 71h1v2h-1z"/>
<path color="#49b3f9" d="M51 0h1v10h-1zM61 4h1v2h-1zM60 15h1v2h-1zM50 18h1v12h-1zM59 25h1v3h-1zM58 35h1v3h-1zM49 38h1v4h-1zM57 42h1v1h-1zM48 43h1v2h-1zM56 45h1v1h-1zM47 46h1v2h-1zM46 49h1v2h-1zM55 49h1v1h-1zM45 52h1v2h-1zM54 53h1v1h-1zM44 55h1v2h-1zM53 57h1v1h-1zM43 59h1v1h-1zM42 62h1v2h-1zM52 62h1v1h-1zM41 65h1v2h-1zM51 65h1v1h-1zM50 68h1v1h-1zM40 69h1v1h-1zM49 71h1v1h-1zM39 73h1v2h-1zM39 81h1v1h-1zM35 99h1v1h-1z"/>
<path color="#4bb7fa" d="M52 0h1v1h-1zM61 2h1v2h-1zM51 10h1v11h-1zM60 12h1v3h-1zM59 23h1v2h-1zM50 30h1v10h-1zM58 32h1v3h-1zM57 40h1v2h-1zM49 42h1v1h-1zM56 44h1v1h-1zM48 45h1v2h-1zM47 48h1v2h-1zM55 48h1v1h-1zM46 51h1v2h-1zM54 52h1v1h-1zM45 54h1v2h-1zM53 56h1v1h-1zM44 57h1v2h-1zM43 60h1v2h-1zM52 61h1v1h-1zM42 64h1v1h-1zM41 67h1v1h-1zM50 67h1v1h-1zM40 70h1v2h-1zM40 75h1v1h-1zM47 77h1v1h-1zM46 79h1v1h-1zM45 81h1v1h-1zM44 83h1v1h-1zM35 86h1v1h-1zM34 88h1v1h-1zM32 92h1v1h-1zM26 93h1v1h-1zM35 96h1v1h-1zM35 98h1v1h-1z"/>
<path color="#4cbafb" d="M61 0h1v2h-1zM52 1h1v11h-1zM60 10h1v2h-1zM59 20h1v3h-1zM51 21h1v13h-1zM58 29h1v3h-1zM57 38h1v2h-1zM50 40h1v2h-1zM49 43h1v2h-1zM56 43h1v1h-1zM48 47h1v1h-1zM55 47h1v1h-1zM47 50h1v2h-1zM54 51h1v1h-1zM46 53h1v2h-1zM53 55h1v1h-1zM45 56h1v2h-1zM44 59h1v2h-1zM52 59h1v2h-1zM43 62h1v2h-1zM51 63h1v2h-1zM42 65h1v2h-1zM50 66h1v1h-1zM41 68h1v2h-1zM49 70h1v1h-1zM40 72h1v2h-1zM48 73h1v1h-1z"/>
<path color="#4ebcfc" d="M53 0h1v4h-1zM60 8h1v2h-1zM52 12h1v16h-1zM59 17h1v3h-1zM58 26h1v3h-1zM51 34h1v7h-1zM57 35h1v3h-1zM50 42h1v2h-1zM56 42h1v1h-1zM49 45h1v2h-1zM55 46h1v1h-1zM48 48h1v2h-1zM54 50h1v1h-1zM47 52h1v1h-1zM53 54h1v1h-1zM46 55h1v1h-1zM45 58h1v2h-1zM52 58h1v1h-1zM44 61h1v2h-1zM51 62h1v1h-1zM43 64h1v2h-1zM42 67h1v1h-1zM49 69h1v1h-1zM41 70h1v1h-1zM40 74h1v1h-1zM40 85h1v1h-1zM39 87h1v1h-1z"/>
<path color="#50bffc" d="M53 4h1v18h-1zM60 5h1v3h-1zM59 15h1v2h-1zM58 23h1v3h-1zM52 28h1v9h-1zM57 32h1v3h-1zM51 41h1v1h-1zM56 41h1v1h-1zM50 44h1v2h-1zM55 44h1v2h-1zM49 47h1v2h-1zM54 48h1v2h-1zM48 50h1v2h-1zM53 52h1v2h-1zM47 53h1v2h-1zM46 56h1v2h-1zM52 56h1v2h-1zM45 60h1v2h-1zM51 60h1v2h-1zM44 63h1v2h-1zM50 64h1v2h-1zM43 66h1v1h-1zM42 68h1v2h-1zM41 71h1v2h-1zM38 83h1v1h-1z"/>
<path color="#52c2fd" d="M54 0h1v18h-1zM60 3h1v2h-1zM59 12h1v3h-1zM58 20h1v3h-1zM53 22h1v10h-1zM57 29h1v3h-1zM56 36h1v5h-1zM52 37h1v4h-1zM51 42h1v2h-1zM55 42h1v2h-1zM50 46h1v2h-1zM54 46h1v2h-1zM49 49h1v2h-1zM53 50h1v2h-1zM48 52h1v2h-1zM52 54h1v2h-1zM47 55h1v2h-1zM46 58h1v2h-1zM51 58h1v2h-1zM45 62h1v1h-1zM50 63h1v1h-1zM44 65h1v1h-1zM43 67h1v1h-1zM49 67h1v2h-1zM42 70h1v1h-1zM48 72h1v1h-1zM41 73h1v1h-1zM41 75h1v1h-1zM39 89h1v1h-1zM30 94h1v1h-1z"/>
<path color="#53c5fe" d="M55 0h1v15h-1zM60 1h1v2h-1zM59 7h1v5h-1zM58 15h1v5h-1zM54 18h1v9h-1zM57 22h1v7h-1zM56 29h1v7h-1zM53 32h1v7h-1zM55 37h1v5h-1zM52 41h1v2h-1zM54 43h1v3h-1zM51 44h1v3h-1zM53 47h1v3h-1zM50 48h1v2h-1zM49 51h1v2h-1zM52 52h1v2h-1zM48 54h1v3h-1zM51 56h1v2h-1zM47 57h1v3h-1zM46 60h1v3h-1zM50 61h1v2h-1zM45 63h1v2h-1zM44 66h1v1h-1zM49 66h1v1h-1zM43 68h1v2h-1zM42 71h1v1h-1zM41 74h1v1h-1zM30 99h1v1h-1z"/>
<path color="#55c8fe" d="M56 0h1v12h-1zM60 0h1v1h-1zM59 1h1v6h-1zM58 8h1v7h-1zM55 15h1v9h-1zM57 15h1v7h-1zM56 22h1v7h-1zM54 27h1v7h-1zM55 30h1v7h-1zM54 37h1v6h-1zM53 39h1v3h-1zM52 43h2v2h-2zM53 45h1v2h-1zM51 47h2v2h-2zM52 49h1v3h-1zM50 50h1v2h-1zM51 52h1v4h-1zM49 53h1v3h-1zM48 57h1v2h-1zM50 57h1v4h-1zM47 60h1v3h-1zM49 61h1v5h-1zM46 63h1v2h-1zM45 65h1v2h-1zM44 67h1v2h-1zM43 70h1v1h-1zM48 71h1v1h-1zM42 72h1v1h-1zM46 77h1v1h-1zM45 79h1v1h-1zM44 81h1v1h-1zM43 83h1v1h-1zM41 86h1v1h-1zM40 88h1v1h-1zM38 90h1v1h-1zM37 91h1v1h-1zM36 92h1v1h-1zM33 93h1v1h-1zM36 94h1v1h-1zM34 99h1v1h-1z"/>
<path color="#57cbff" d="M57 0h3v1h-3zM57 1h2v7h-2zM57 8h1v7h-1zM56 12h1v10h-1zM55 24h1v6h-1zM54 34h1v3h-1zM53 42h1v1h-1zM52 45h1v2h-1zM51 49h1v3h-1zM50 52h1v5h-1zM49 56h1v5h-1zM48 59h1v12h-1zM47 63h1v2h-1zM46 65h1v2h-1zM45 67h1v1h-1zM44 69h1v1h-1zM43 71h1v1h-1zM42 73h1v1h-1zM47 74h1v1h-1z"/>
<path color="#5ecdfc" d="M47 65h1v2h-1zM46 67h1v1h-1zM45 68h1v1h-1zM44 70h1v1h-1zM43 72h1v1h-1zM42 74h1v1h-1zM42 77h1v1h-1zM36 86h1v1h-1zM35 88h1v1h-1zM28 94h1v1h-1z"/>
<path color="#6cd0f5" d="M47 67h1v3h-1zM46 68h1v1h-1zM45 69h1v1h-1zM44 71h1v1h-1zM43 73h1v1h-1zM47 73h1v1h-1zM42 75h1v1h-1zM46 75h1v1h-1z"/>
<path color="#79d3ef" d="M46 69h1v1h-1zM45 70h1v2h-1zM47 70h1v3h-1zM44 72h1v1h-1zM43 74h1v1h-1z"/>
<path color="#86d6e8" d="M46 70h1v1h-1zM36 93h1v1h-1z"/>
<path color="#94d9e2" d="M46 71h1v2h-1zM45 72h1v1h-1zM44 73h1v1h-1z"/>
<path color="#a1dcda" d="M46 73h1v1h-1zM38 89h1v1h-1zM35 92h1v1h-1zM31 94h1v1h-1zM30 96h1v1h-1z"/>
<path color="#aeddce" d="M45 73h1v1h-1zM41 79h1v1h-1z"/>
<path color="#c9deb5" d="M46 74h1v1h-1zM37 90h1v1h-1z"/>
<path color="#d6dfa9" d="M29 92h1v1h-1z"/>
<path color="#dfdd9d" d="M43 75h1v1h-1zM35 94h1v1h-1z"/>
<path color="#efd786" d="M44 74h2v1h-2zM40 81h1v1h-1zM30 98h1v1h-1z"/>
<path color="#fdcf6f" d="M36 91h1v1h-1zM34 96h1v1h-1z"/>
<path color="#fbc464" d="M45 77h1v1h-1zM44 79h1v1h-1zM43 81h1v1h-1zM39 83h1v1h-1zM42 83h1v1h-1zM37 86h1v1h-1zM40 86h1v1h-1zM36 88h1v1h-1zM39 88h1v1h-1z"/>
<path color="#f9b959" d="M45 75h1v2h-1zM34 98h1v1h-1z"/>
<path color="#f8ae4e" d="M34 92h1v1h-1z"/>
<path color="#f6a242" d="M44 75h1v1h-1zM35 93h1v1h-1zM32 94h1v1h-1z"/>
<path color="#6a2400" d="M44 76h1v2h-1zM43 77h1v3h-1zM42 79h1v3h-1zM41 81h1v3h-1zM40 83h1v2h-1zM39 85h1v2h-1zM38 86h1v3h-1zM37 88h1v2h-1zM36 90h1v1h-1zM35 91h1v1h-1zM33 92h1v1h-1zM34 93h1v2h-1zM33 94h1v1h-1zM32 95h1v5h-1zM31 96h1v1h-1zM33 96h1v1h-1zM31 98h1v2h-1zM33 98h1v2h-1z"/>
</g>
</g>
</g>
<g id="panel-d" clip-path="url(#cld)">
<rect x="92.00" y="691.60" width="579.00" height="243.00" fill="#2a50ae"/>
<g transform="matrix(9.1181 0 0 0.8100 87.441 691.600)">
<g class="ul" stroke-width="1.1">
<path color="#162560" d="M47 6h17v2h-17zM47 13h17v2h-17zM47 17h17v3h-17zM47 25h17v1h-17zM48 26h16v1h-16zM48 45h16v13h-16zM48 65h16v2h-16zM49 71h15v10h-15zM50 91h14v8h-14zM51 107h13v4h-13zM51 113h13v4h-13zM52 123h12v6h-12zM53 137h11v4h-11zM54 148h10v3h-10z"/>
<path color="#172764" d="M46 6h1v2h-1zM46 13h1v2h-1zM46 17h1v3h-1zM46 25h1v1h-1zM47 26h1v1h-1zM47 45h1v13h-1zM47 65h1v2h-1zM48 71h1v10h-1zM49 91h1v8h-1zM50 107h1v4h-1zM50 113h1v4h-1zM51 123h1v6h-1zM52 137h1v4h-1zM53 148h1v3h-1z"/>
<path color="#172968" d="M45 6h1v2h-1zM45 13h1v2h-1zM45 17h1v3h-1zM45 25h1v1h-1zM46 26h1v1h-1zM46 45h1v13h-1zM46 65h1v2h-1zM47 71h1v10h-1zM48 91h1v8h-1zM49 107h1v4h-1zM49 113h1v4h-1zM50 123h1v6h-1zM51 137h1v4h-1zM52 148h1v3h-1z"/>
<path color="#192c71" d="M0 6h2v2h-2zM6 6h23v2h-23zM44 6h1v2h-1zM0 13h2v2h-2zM6 13h23v2h-23zM44 13h1v2h-1zM0 17h2v3h-2zM6 17h23v3h-23zM44 17h1v3h-1zM0 25h2v2h-2zM6 25h23v2h-23zM44 25h1v1h-1zM29 26h1v1h-1zM45 26h1v1h-1zM0 45h2v2h-2zM6 45h24v13h-24zM45 45h1v13h-1zM3 49h3v9h-3zM0 65h2v2h-2zM3 65h27v2h-27zM45 65h1v2h-1zM2 71h29v10h-29zM46 71h1v10h-1zM0 80h2v1h-2zM0 91h1v8h-1zM5 91h27v8h-27zM47 91h1v8h-1zM0 107h4v4h-4zM8 107h25v4h-25zM48 107h1v4h-1zM0 113h4v4h-4zM8 113h25v3h-25zM48 113h1v4h-1zM8 116h1v1h-1zM10 116h23v1h-23zM0 123h7v6h-7zM11 123h23v6h-23zM49 123h1v6h-1zM0 137h10v4h-10zM14 137h21v4h-21zM50 137h1v4h-1zM51 148h1v3h-1z"/>
<path color="#1a3079" d="M29 6h1v2h-1zM29 13h1v2h-1zM29 17h1v3h-1zM29 25h1v1h-1zM30 26h1v1h-1zM30 45h1v13h-1zM30 65h1v2h-1zM31 71h1v10h-1zM32 91h1v8h-1zM33 107h1v4h-1zM33 113h1v4h-1zM34 123h1v6h-1zM35 137h1v4h-1zM36 148h1v3h-1z"/>
<path color="#1b3381" d="M30 6h1v2h-1zM30 13h1v2h-1zM30 17h1v3h-1zM30 25h1v1h-1zM31 26h1v1h-1zM31 45h1v13h-1zM31 65h1v2h-1zM32 71h1v10h-1zM33 91h1v8h-1zM34 107h1v4h-1zM34 113h1v4h-1zM35 123h1v6h-1zM36 137h1v4h-1zM37 148h1v3h-1z"/>
<path color="#1c3585" d="M0 148h13v3h-13zM17 148h19v3h-19z"/>
<path color="#1d3789" d="M0 0h24v6h-24zM31 6h1v2h-1zM0 8h24v5h-24zM31 13h1v2h-1zM0 15h24v2h-24zM31 17h1v3h-1zM0 20h24v5h-24zM31 25h1v1h-1zM32 26h1v1h-1zM0 27h25v13h-25zM0 40h3v5h-3zM4 40h21v5h-21zM32 45h1v13h-1zM0 58h26v6h-26zM0 64h2v1h-2zM3 64h23v1h-23zM32 65h1v2h-1zM0 67h2v4h-2zM3 67h23v4h-23zM33 71h1v10h-1zM0 81h27v3h-27zM0 84h3v7h-3zM4 84h23v7h-23zM34 91h1v8h-1zM0 99h28v1h-28zM0 100h6v7h-6zM7 100h21v7h-21zM35 107h1v4h-1zM0 111h6v2h-6zM7 111h22v2h-22zM35 113h1v4h-1zM0 117h9v6h-9zM10 117h19v6h-19zM36 123h1v6h-1zM0 129h30v1h-30zM0 130h12v7h-12zM13 130h17v7h-17zM37 137h1v4h-1zM0 141h15v7h-15zM16 141h14v7h-14zM38 148h1v3h-1z"/>
<path color="#1f398c" d="M24 0h1v6h-1zM57 0h7v6h-7zM2 6h1v2h-1zM43 6h1v2h-1zM24 8h1v5h-1zM57 8h7v5h-7zM2 13h1v2h-1zM43 13h1v2h-1zM24 15h1v2h-1zM57 15h7v2h-7zM2 17h1v3h-1zM43 17h1v3h-1zM24 20h1v5h-1zM57 20h7v5h-7zM2 25h1v2h-1zM43 25h1v1h-1zM44 26h1v1h-1zM25 27h1v18h-1zM58 27h6v18h-6zM2 45h1v2h-1zM44 45h1v13h-1zM26 58h1v7h-1zM59 58h5v7h-5zM44 65h1v2h-1zM26 67h1v4h-1zM59 67h5v4h-5zM45 71h1v10h-1zM27 81h1v10h-1zM60 81h4v10h-4zM1 91h1v8h-1zM46 91h1v8h-1zM28 99h1v8h-1zM61 99h3v8h-3zM4 107h1v4h-1zM47 107h1v4h-1zM29 111h1v2h-1zM62 111h2v2h-2zM4 113h1v4h-1zM47 113h1v4h-1zM29 117h1v6h-1zM62 117h2v6h-2zM7 123h1v6h-1zM48 123h1v6h-1zM30 129h1v8h-1zM63 129h1v8h-1zM10 137h1v4h-1zM49 137h1v4h-1zM30 141h2v7h-2zM13 148h1v3h-1zM50 148h1v3h-1z"/>
<path color="#203b8f" d="M25 0h2v6h-2zM55 0h2v6h-2zM32 6h1v2h-1zM25 8h2v5h-2zM55 8h2v5h-2zM32 13h1v2h-1zM25 15h2v2h-2zM55 15h2v2h-2zM32 17h1v3h-1zM25 20h2v5h-2zM55 20h2v5h-2zM32 25h1v1h-1zM33 26h1v1h-1zM26 27h2v18h-2zM56 27h2v18h-2zM33 45h1v13h-1zM27 58h2v7h-2zM57 58h2v7h-2zM33 65h1v2h-1zM27 67h2v4h-2zM57 67h2v4h-2zM34 71h1v10h-1zM28 81h2v10h-2zM58 81h2v10h-2zM35 91h1v8h-1zM29 99h2v8h-2zM59 99h2v8h-2zM36 107h1v4h-1zM30 111h2v2h-2zM60 111h2v2h-2zM36 113h1v4h-1zM30 117h2v6h-2zM60 117h2v6h-2zM37 123h1v6h-1zM31 129h2v8h-2zM61 129h2v8h-2zM38 137h1v4h-1zM32 141h2v7h-2zM62 141h2v7h-2zM39 148h1v3h-1z"/>
<path color="#213d93" d="M27 0h1v6h-1zM3 6h1v2h-1zM27 8h1v5h-1zM3 13h1v2h-1zM27 15h1v2h-1zM3 17h1v3h-1zM27 20h1v5h-1zM3 25h1v2h-1zM28 27h1v18h-1zM0 47h1v11h-1zM3 47h1v2h-1zM29 58h1v7h-1zM29 67h1v4h-1zM30 81h1v10h-1zM2 91h1v8h-1zM31 99h1v8h-1zM5 107h1v4h-1zM32 111h1v2h-1zM5 113h1v4h-1zM32 117h1v6h-1zM8 123h1v6h-1zM33 129h1v8h-1zM11 137h1v4h-1zM34 141h1v7h-1zM14 148h1v3h-1zM0 151h6v1h-6z"/>
<path color="#223f96" d="M54 0h1v6h-1zM54 8h1v5h-1zM54 15h1v2h-1zM54 20h1v5h-1zM55 27h1v18h-1zM56 58h1v7h-1zM56 67h1v4h-1zM57 81h1v10h-1zM58 99h1v8h-1zM59 111h1v2h-1zM59 117h1v6h-1zM60 129h1v8h-1zM61 141h1v7h-1zM6 151h5v1h-5zM0 152h9v1h-9zM0 153h3v1h-3z"/>
<path color="#24419a" d="M28 0h1v6h-1zM33 6h1v2h-1zM28 8h1v5h-1zM33 13h1v2h-1zM28 15h1v2h-1zM33 17h1v3h-1zM28 20h1v5h-1zM33 25h1v1h-1zM34 26h1v1h-1zM29 27h1v18h-1zM3 40h1v7h-1zM34 45h1v13h-1zM30 58h1v7h-1zM2 64h1v7h-1zM34 65h1v2h-1zM30 67h1v4h-1zM35 71h1v10h-1zM31 81h1v10h-1zM3 84h1v7h-1zM36 91h1v8h-1zM32 99h1v8h-1zM6 100h1v7h-1zM37 107h1v4h-1zM6 111h1v2h-1zM33 111h1v2h-1zM37 113h1v4h-1zM9 116h1v7h-1zM33 117h1v6h-1zM38 123h1v6h-1zM34 129h1v8h-1zM12 130h1v7h-1zM39 137h1v4h-1zM15 141h1v7h-1zM35 141h1v7h-1zM40 148h1v3h-1zM11 151h4v1h-4zM9 152h3v1h-3zM3 153h7v1h-7zM0 154h6v1h-6z"/>
<path color="#25439d" d="M53 0h1v6h-1zM53 8h1v5h-1zM53 15h1v2h-1zM53 20h1v5h-1zM54 27h1v18h-1zM55 58h1v7h-1zM55 67h1v4h-1zM56 81h1v10h-1zM57 99h1v8h-1zM58 111h1v2h-1zM58 117h1v6h-1zM59 129h1v8h-1zM60 141h1v7h-1zM15 151h3v1h-3zM12 152h4v1h-4zM10 153h3v1h-3zM6 154h5v1h-5zM0 155h9v1h-9zM0 156h4v1h-4z"/>
<path color="#2644a0" d="M29 0h1v6h-1zM29 8h1v5h-1zM29 15h1v2h-1zM29 20h1v5h-1zM30 27h1v18h-1zM31 58h1v7h-1zM31 67h1v4h-1zM32 81h1v10h-1zM33 99h1v8h-1zM34 111h1v2h-1zM34 117h1v6h-1zM35 129h1v8h-1zM36 141h1v7h-1zM18 151h3v1h-3zM16 152h3v1h-3zM13 153h4v1h-4zM11 154h3v1h-3zM9 155h3v1h-3zM4 156h6v1h-6zM0 157h8v1h-8zM0 158h6v1h-6zM0 159h4v1h-4zM0 160h3v1h-3zM0 161h1v1h-1z"/>
<path color="#2746a4" d="M4 6h1v2h-1zM4 13h1v2h-1zM4 17h1v3h-1zM4 25h1v2h-1zM4 45h1v4h-1zM1 47h1v11h-1zM0 71h1v9h-1zM3 91h1v8h-1zM6 107h1v4h-1zM6 113h1v4h-1zM9 123h1v6h-1zM12 137h1v4h-1zM15 148h1v3h-1zM21 151h2v1h-2zM19 152h2v1h-2zM17 153h2v1h-2zM14 154h3v1h-3zM12 155h3v1h-3zM10 156h3v1h-3zM8 157h3v2h-3zM6 158h2v3h-2zM4 159h2v3h-2zM8 159h2v1h-2zM3 160h1v4h-1zM8 160h1v1h-1zM1 161h2v5h-2zM6 161h1v1h-1zM0 162h1v8h-1zM4 162h1v1h-1zM1 166h1v2h-1z"/>
<path color="#2849a6" d="M52 0h1v6h-1zM34 6h1v2h-1zM52 8h1v5h-1zM34 13h1v2h-1zM52 15h1v2h-1zM34 17h1v3h-1zM52 20h1v5h-1zM34 25h1v1h-1zM35 26h1v1h-1zM53 27h1v18h-1zM35 45h1v13h-1zM54 58h1v7h-1zM35 65h1v2h-1zM54 67h1v4h-1zM36 71h1v10h-1zM55 81h1v10h-1zM37 91h1v8h-1zM56 99h1v8h-1zM38 107h1v4h-1zM57 111h1v2h-1zM38 113h1v4h-1zM57 117h1v6h-1zM39 123h1v6h-1zM58 129h1v8h-1zM40 137h1v4h-1zM59 141h1v7h-1zM41 148h1v3h-1zM23 151h2v1h-2zM21 152h3v1h-3zM19 153h3v1h-3zM17 154h3v1h-3zM15 155h3v1h-3zM13 156h3v1h-3zM11 157h3v1h-3zM11 158h2v2h-2zM10 159h1v3h-1zM9 160h1v3h-1zM11 160h1v1h-1zM7 161h2v3h-2zM5 162h2v5h-2zM4 163h1v8h-1zM3 164h1v136h-1zM7 164h1v1h-1zM2 166h1v134h-1zM5 167h1v2h-1zM1 168h1v132h-1zM0 170h1v130h-1z"/>
<path color="#284ba9" d="M30 0h1v6h-1zM30 8h1v5h-1zM30 15h1v2h-1zM30 20h1v5h-1zM31 27h1v18h-1zM32 58h1v7h-1zM32 67h1v4h-1zM33 81h1v10h-1zM34 99h1v8h-1zM35 111h1v2h-1zM35 117h1v6h-1zM36 129h1v8h-1zM37 141h1v7h-1zM25 151h2v1h-2zM24 152h1v1h-1zM22 153h2v1h-2zM20 154h2v1h-2zM18 155h2v1h-2zM16 156h2v1h-2zM14 157h3v1h-3zM13 158h3v2h-3zM12 160h3v1h-3zM11 161h3v1h-3zM10 162h3v1h-3zM9 163h3v1h-3zM8 164h3v2h-3zM7 165h1v135h-1zM8 166h2v3h-2zM6 167h1v133h-1zM5 169h1v131h-1zM8 169h1v131h-1zM4 171h1v129h-1z"/>
<path color="#294eab" d="M51 0h1v6h-1zM51 8h1v5h-1zM51 15h1v2h-1zM51 20h1v5h-1zM52 27h1v18h-1zM53 58h1v7h-1zM53 67h1v4h-1zM54 81h1v10h-1zM55 99h1v8h-1zM56 111h1v2h-1zM56 117h1v6h-1zM57 129h1v8h-1zM58 141h1v7h-1zM27 151h1v1h-1zM25 152h2v1h-2zM24 153h2v1h-2zM22 154h3v1h-3zM20 155h3v1h-3zM18 156h3v1h-3zM17 157h2v2h-2zM16 158h1v4h-1zM17 159h1v1h-1zM15 160h1v3h-1zM14 161h1v3h-1zM13 162h1v4h-1zM12 163h1v6h-1zM11 164h1v136h-1zM10 166h1v134h-1zM9 169h1v131h-1z"/>
<path color="#2a50ae" d="M31 0h1v6h-1zM31 8h1v5h-1zM31 15h1v2h-1zM31 20h1v5h-1zM32 27h1v18h-1zM33 58h1v7h-1zM33 67h1v4h-1zM34 81h1v10h-1zM35 99h1v8h-1zM36 111h1v2h-1zM36 117h1v6h-1zM37 129h1v8h-1zM38 141h1v7h-1zM28 151h1v1h-1zM63 151h1v9h-1zM27 152h1v1h-1zM26 153h1v1h-1zM25 154h1v1h-1zM23 155h2v1h-2zM21 156h2v1h-2zM19 157h3v1h-3zM19 158h2v1h-2zM18 159h2v2h-2zM17 160h1v3h-1zM18 161h1v1h-1zM16 162h1v4h-1zM15 163h1v6h-1zM14 164h1v136h-1zM13 166h1v134h-1zM12 169h1v131h-1z"/>
<path color="#2b53b0" d="M35 6h1v2h-1zM35 13h1v2h-1zM35 17h1v3h-1zM35 25h1v1h-1zM36 26h1v1h-1zM36 45h1v13h-1zM36 65h1v2h-1zM37 71h1v10h-1zM38 91h1v8h-1zM39 107h1v4h-1zM39 113h1v4h-1zM40 123h1v6h-1zM41 137h1v4h-1zM42 148h1v3h-1zM29 151h2v1h-2zM62 151h1v4h-1zM28 152h2v1h-2zM27 153h2v1h-2zM26 154h1v1h-1zM25 155h1v1h-1zM23 156h2v1h-2zM22 157h2v1h-2zM21 158h2v2h-2zM20 159h1v3h-1zM21 160h1v1h-1zM63 160h1v6h-1zM19 161h1v3h-1zM18 162h1v5h-1zM17 163h1v8h-1zM16 166h1v134h-1zM15 169h1v131h-1z"/>
<path color="#2b55b3" d="M50 0h1v6h-1zM50 8h1v5h-1zM50 15h1v2h-1zM50 20h1v5h-1zM51 27h1v18h-1zM52 58h1v7h-1zM52 67h1v4h-1zM53 81h1v10h-1zM54 99h1v8h-1zM55 111h1v2h-1zM55 117h1v6h-1zM56 129h1v8h-1zM57 141h1v7h-1zM31 151h1v1h-1zM30 152h1v1h-1zM29 153h1v1h-1zM27 154h2v1h-2zM26 155h2v1h-2zM62 155h1v9h-1zM25 156h2v1h-2zM24 157h2v1h-2zM23 158h2v2h-2zM22 160h2v1h-2zM21 161h2v2h-2zM20 162h1v6h-1zM21 163h1v1h-1zM19 164h1v136h-1zM63 166h1v4h-1zM18 167h1v133h-1zM17 171h1v129h-1z"/>
<path color="#2c58b6" d="M32 151h1v1h-1zM61 151h1v9h-1zM31 152h1v1h-1zM30 153h1v1h-1zM29 154h1v1h-1zM28 155h1v1h-1zM27 156h1v1h-1zM26 157h1v2h-1zM25 158h1v3h-1zM24 160h1v3h-1zM23 161h1v4h-1zM22 163h1v6h-1zM21 164h1v136h-1zM62 164h1v4h-1zM20 168h1v132h-1zM63 170h1v4h-1z"/>
<path color="#2d5ab8" d="M32 0h1v6h-1zM32 8h1v5h-1zM32 15h1v2h-1zM32 20h1v5h-1zM33 27h1v18h-1zM34 58h1v7h-1zM34 67h1v4h-1zM35 81h1v10h-1zM36 99h1v8h-1zM37 111h1v2h-1zM37 117h1v6h-1zM38 129h1v8h-1zM39 141h1v7h-1zM60 151h1v4h-1zM32 152h1v1h-1zM31 153h1v2h-1zM30 154h1v2h-1zM29 155h1v2h-1zM28 156h1v2h-1zM27 157h1v3h-1zM26 159h1v3h-1zM61 160h1v5h-1zM25 161h1v4h-1zM24 163h1v7h-1zM23 165h1v135h-1zM62 168h1v3h-1zM22 169h1v131h-1zM63 174h1v4h-1z"/>
<path color="#2d5dbb" d="M33 151h1v1h-1zM32 153h1v2h-1zM31 155h1v1h-1zM60 155h1v8h-1zM30 156h1v1h-1zM29 157h1v3h-1zM28 158h1v4h-1zM27 160h1v4h-1zM26 162h1v7h-1zM25 165h1v135h-1zM61 165h1v4h-1zM24 170h1v130h-1zM62 171h1v4h-1zM63 178h1v4h-1z"/>
<path color="#2e61be" d="M49 0h1v6h-1zM36 6h1v2h-1zM49 8h1v5h-1zM36 13h1v2h-1zM49 15h1v2h-1zM36 17h1v3h-1zM49 20h1v5h-1zM36 25h1v1h-1zM37 26h1v1h-1zM50 27h1v18h-1zM37 45h1v13h-1zM51 58h1v7h-1zM37 65h1v2h-1zM51 67h1v4h-1zM38 71h1v10h-1zM52 81h1v10h-1zM39 91h1v8h-1zM53 99h1v8h-1zM40 107h1v4h-1zM54 111h1v2h-1zM40 113h1v4h-1zM54 117h1v6h-1zM41 123h1v6h-1zM55 129h1v8h-1zM42 137h1v4h-1zM56 141h1v7h-1zM43 148h1v3h-1zM33 152h1v2h-1zM32 155h1v1h-1zM31 156h1v3h-1zM30 157h1v4h-1zM29 160h1v3h-1zM28 162h1v5h-1zM60 163h1v3h-1zM27 164h1v136h-1zM26 169h1v131h-1zM61 169h1v3h-1zM62 175h1v3h-1zM63 182h1v3h-1z"/>
<path color="#3064c1" d="M34 151h1v2h-1zM59 151h1v5h-1zM33 154h1v2h-1zM32 156h1v3h-1zM31 159h1v3h-1zM30 161h1v5h-1zM29 163h1v8h-1zM60 166h1v2h-1zM28 167h1v133h-1zM61 172h1v3h-1zM62 178h1v4h-1zM63 185h1v4h-1z"/>
<path color="#3167c4" d="M33 0h1v6h-1zM33 8h1v5h-1zM33 15h1v2h-1zM33 20h1v5h-1zM34 27h1v18h-1zM35 58h1v7h-1zM35 67h1v4h-1zM36 81h1v10h-1zM37 99h1v8h-1zM38 111h1v2h-1zM38 117h1v6h-1zM39 129h1v8h-1zM40 141h1v7h-1zM35 151h1v1h-1zM34 153h1v2h-1zM33 156h1v1h-1zM59 156h1v6h-1zM32 159h1v4h-1zM31 162h1v7h-1zM30 166h1v134h-1zM60 168h1v2h-1zM29 171h1v129h-1zM61 175h1v3h-1zM62 182h1v3h-1zM63 189h1v4h-1z"/>
<path color="#326bc7" d="M35 152h1v2h-1zM34 155h1v1h-1zM33 157h1v4h-1zM59 162h1v4h-1zM32 163h1v7h-1zM31 169h1v131h-1zM60 170h1v3h-1zM61 178h1v3h-1zM62 185h1v3h-1zM63 193h1v4h-1zM32 204h1v96h-1z"/>
<path color="#336ec9" d="M48 0h1v6h-1zM48 8h1v5h-1zM48 15h1v2h-1zM48 20h1v5h-1zM49 27h1v18h-1zM50 58h1v7h-1zM50 67h1v4h-1zM51 81h1v10h-1zM52 99h1v8h-1zM53 111h1v2h-1zM53 117h1v6h-1zM54 129h1v8h-1zM55 141h1v7h-1zM36 151h1v2h-1zM58 151h1v5h-1zM35 154h1v2h-1zM34 156h1v4h-1zM33 161h1v6h-1zM59 166h1v2h-1zM32 170h1v34h-1zM60 173h1v3h-1zM61 181h1v3h-1zM62 188h1v4h-1zM63 197h1v3h-1zM33 205h1v95h-1zM34 292h1v8h-1z"/>
<path color="#3472cc" d="M36 153h1v2h-1zM35 156h1v2h-1zM58 156h1v5h-1zM34 160h1v4h-1zM33 167h1v38h-1zM59 168h1v3h-1zM60 176h1v3h-1zM61 184h1v3h-1zM62 192h1v3h-1zM63 200h1v6h-1zM34 206h1v86h-1zM35 251h1v49h-1z"/>
<path color="#3575cf" d="M37 151h1v3h-1zM36 155h1v2h-1zM35 158h1v4h-1zM58 161h1v4h-1zM34 164h1v42h-1zM59 171h1v3h-1zM60 179h1v3h-1zM61 187h1v3h-1zM62 195h1v3h-1zM35 206h1v45h-1zM63 206h1v6h-1zM36 234h1v66h-1zM37 272h1v28h-1z"/>
<path color="#3679d2" d="M38 151h1v1h-1zM57 151h1v5h-1zM37 154h1v2h-1zM36 157h1v4h-1zM35 162h1v7h-1zM58 165h1v3h-1zM59 174h1v3h-1zM35 179h1v27h-1zM60 182h1v3h-1zM61 190h1v4h-1zM62 198h1v5h-1zM36 207h1v27h-1zM63 212h1v6h-1zM37 229h1v43h-1zM38 255h1v45h-1zM39 291h1v9h-1z"/>
<path color="#377cd5" d="M34 0h1v6h-1zM37 6h1v2h-1zM42 6h1v2h-1zM34 8h1v5h-1zM37 13h1v2h-1zM42 13h1v2h-1zM34 15h1v2h-1zM37 17h1v3h-1zM42 17h1v3h-1zM34 20h1v5h-1zM37 25h1v1h-1zM42 25h1v1h-1zM38 26h1v1h-1zM43 26h1v1h-1zM35 27h1v18h-1zM5 45h1v4h-1zM38 45h1v13h-1zM43 45h1v13h-1zM36 58h1v7h-1zM38 65h1v2h-1zM43 65h1v2h-1zM36 67h1v4h-1zM39 71h1v10h-1zM44 71h1v10h-1zM37 81h1v10h-1zM40 91h1v8h-1zM45 91h1v8h-1zM38 99h1v8h-1zM41 107h1v4h-1zM46 107h1v4h-1zM39 111h1v2h-1zM41 113h1v4h-1zM46 113h1v4h-1zM39 117h1v6h-1zM42 123h1v6h-1zM47 123h1v6h-1zM40 129h1v8h-1zM43 137h1v4h-1zM48 137h1v4h-1zM41 141h1v7h-1zM44 148h1v3h-1zM49 148h1v3h-1zM38 152h1v3h-1zM37 156h1v3h-1zM57 156h1v4h-1zM36 161h1v4h-1zM58 168h1v4h-1zM35 169h1v10h-1zM59 177h1v2h-1zM36 185h1v22h-1zM60 185h1v3h-1zM61 194h1v3h-1zM62 203h1v5h-1zM37 207h1v22h-1zM63 218h1v6h-1zM38 228h1v27h-1zM39 250h1v41h-1zM40 276h1v24h-1z"/>
<path color="#3980d8" d="M47 0h1v6h-1zM5 6h1v2h-1zM47 8h1v5h-1zM5 13h1v2h-1zM47 15h1v2h-1zM47 20h1v5h-1zM5 25h1v2h-1zM48 27h1v18h-1zM2 47h1v11h-1zM49 58h1v7h-1zM49 67h1v4h-1zM50 81h1v10h-1zM51 99h1v8h-1zM52 111h1v2h-1zM52 117h1v6h-1zM53 129h1v8h-1zM54 141h1v7h-1zM38 155h1v2h-1zM37 159h1v4h-1zM57 160h1v4h-1zM36 165h1v20h-1zM58 172h1v2h-1zM59 179h1v3h-1zM37 188h1v19h-1zM60 188h1v3h-1zM61 197h1v3h-1zM38 208h1v20h-1zM62 208h1v5h-1zM63 224h1v6h-1zM39 227h1v23h-1zM40 247h1v29h-1zM41 269h1v31h-1zM42 291h1v9h-1z"/>
<path color="#3a84da" d="M39 151h1v3h-1zM38 157h1v4h-1zM37 163h1v8h-1zM57 164h1v2h-1zM37 174h1v14h-1zM58 174h1v2h-1zM59 182h1v2h-1zM60 191h1v3h-1zM38 192h1v16h-1zM61 200h1v4h-1zM39 209h1v18h-1zM62 213h1v5h-1zM40 227h1v20h-1zM63 230h1v5h-1zM41 245h1v24h-1zM42 264h1v27h-1zM43 282h1v18h-1z"/>
<path color="#3b87dd" d="M56 151h1v1h-1zM39 154h1v3h-1zM38 161h1v5h-1zM57 166h1v3h-1zM37 171h1v3h-1zM58 176h1v3h-1zM38 179h1v13h-1zM59 184h1v3h-1zM60 194h1v2h-1zM39 197h1v12h-1zM61 204h1v5h-1zM40 213h1v14h-1zM62 218h1v5h-1zM41 229h1v16h-1zM63 235h1v6h-1zM42 244h1v20h-1zM43 260h1v22h-1zM44 277h1v23h-1zM45 294h1v6h-1z"/>
<path color="#3c8be0" d="M5 17h1v3h-1zM40 151h1v2h-1zM56 152h1v5h-1zM39 157h1v4h-1zM38 166h1v13h-1zM57 169h1v2h-1zM58 179h1v2h-1zM39 185h1v12h-1zM59 187h1v2h-1zM60 196h1v3h-1zM40 202h1v11h-1zM61 209h1v5h-1zM41 216h1v13h-1zM62 223h1v5h-1zM42 230h1v14h-1zM63 241h1v5h-1zM43 243h1v17h-1zM44 258h1v19h-1zM45 275h1v19h-1zM46 292h1v8h-1z"/>
<path color="#3d8ee3" d="M40 153h1v3h-1zM56 157h1v4h-1zM39 161h1v5h-1zM57 171h1v3h-1zM39 176h1v9h-1zM58 181h1v2h-1zM59 189h1v3h-1zM40 192h1v10h-1zM60 199h1v3h-1zM41 206h1v10h-1zM61 214h1v5h-1zM42 219h1v11h-1zM62 228h1v5h-1zM43 231h1v12h-1zM44 243h1v15h-1zM63 246h1v6h-1zM45 256h1v19h-1zM46 273h1v19h-1zM47 290h1v10h-1z"/>
<path color="#3e92e5" d="M40 156h1v4h-1zM56 161h1v3h-1zM39 166h1v10h-1zM57 174h1v2h-1zM40 183h1v9h-1zM58 183h1v2h-1zM59 192h1v2h-1zM41 197h1v9h-1zM60 202h1v4h-1zM42 210h1v9h-1zM61 219h1v4h-1zM43 221h1v10h-1zM44 233h1v10h-1zM62 233h1v5h-1zM45 244h1v12h-1zM63 252h1v5h-1zM46 256h1v17h-1zM47 272h1v18h-1zM48 288h1v12h-1z"/>
<path color="#3f96e8" d="M1 71h1v9h-1zM41 151h1v4h-1zM40 160h1v4h-1zM56 164h1v3h-1zM40 176h1v7h-1zM57 176h1v2h-1zM58 185h1v2h-1zM41 189h1v8h-1zM59 194h1v2h-1zM42 201h1v9h-1zM60 206h1v4h-1zM43 213h1v8h-1zM61 223h1v4h-1zM44 224h1v9h-1zM45 234h1v10h-1zM62 238h1v5h-1zM46 245h1v11h-1zM63 257h1v5h-1zM47 258h1v14h-1zM48 273h1v15h-1zM49 287h1v13h-1z"/>
<path color="#4099eb" d="M35 0h1v6h-1zM46 0h1v6h-1zM38 6h1v2h-1zM35 8h1v5h-1zM46 8h1v5h-1zM38 13h1v2h-1zM35 15h1v2h-1zM46 15h1v2h-1zM38 17h1v3h-1zM35 20h1v5h-1zM46 20h1v5h-1zM38 25h1v1h-1zM39 26h1v1h-1zM36 27h1v18h-1zM47 27h1v18h-1zM39 45h1v13h-1zM37 58h1v7h-1zM48 58h1v7h-1zM39 65h1v2h-1zM37 67h1v4h-1zM48 67h1v4h-1zM40 71h1v10h-1zM38 81h1v10h-1zM49 81h1v10h-1zM4 91h1v8h-1zM41 91h1v8h-1zM39 99h1v8h-1zM50 99h1v8h-1zM7 107h1v4h-1zM42 107h1v4h-1zM40 111h1v2h-1zM51 111h1v2h-1zM7 113h1v4h-1zM42 113h1v4h-1zM40 117h1v6h-1zM51 117h1v6h-1zM10 123h1v6h-1zM43 123h1v6h-1zM41 129h1v8h-1zM52 129h1v8h-1zM44 137h1v4h-1zM42 141h1v7h-1zM53 141h1v7h-1zM16 148h1v3h-1zM45 148h1v3h-1zM55 151h1v1h-1zM41 155h1v4h-1zM40 164h1v12h-1zM56 167h1v3h-1zM57 178h1v2h-1zM41 182h1v7h-1zM58 187h1v2h-1zM42 194h1v7h-1zM59 196h1v3h-1zM43 205h1v8h-1zM60 210h1v4h-1zM44 216h1v8h-1zM45 226h1v8h-1zM61 227h1v4h-1zM46 236h1v9h-1zM62 243h1v4h-1zM47 246h1v12h-1zM48 259h1v14h-1zM63 262h1v5h-1zM49 273h1v14h-1zM50 286h1v14h-1z"/>
<path color="#429ded" d="M42 151h1v2h-1zM55 152h1v5h-1zM41 159h1v4h-1zM56 170h1v3h-1zM41 175h1v7h-1zM57 180h1v2h-1zM42 187h1v7h-1zM58 189h1v2h-1zM43 197h1v8h-1zM59 199h1v2h-1zM44 208h1v8h-1zM60 214h1v5h-1zM45 218h1v8h-1zM46 228h1v8h-1zM61 231h1v4h-1zM47 238h1v8h-1zM48 247h1v12h-1zM62 247h1v5h-1zM49 259h1v14h-1zM63 267h1v5h-1zM50 273h1v13h-1zM51 286h1v14h-1zM52 298h1v2h-1z"/>
<path color="#43a0ef" d="M13 137h1v4h-1zM42 153h1v5h-1zM55 157h1v4h-1zM41 163h1v12h-1zM56 173h1v2h-1zM42 181h1v6h-1zM57 182h1v2h-1zM43 191h1v6h-1zM58 191h1v3h-1zM44 201h1v7h-1zM59 201h1v4h-1zM45 211h1v7h-1zM60 219h1v4h-1zM46 221h1v7h-1zM47 230h1v8h-1zM61 235h1v4h-1zM48 239h1v8h-1zM49 248h1v11h-1zM62 252h1v5h-1zM50 261h1v12h-1zM63 272h1v5h-1zM51 274h1v12h-1zM52 286h1v12h-1zM53 297h1v3h-1z"/>
<path color="#44a3f0" d="M42 158h1v4h-1zM55 161h1v4h-1zM42 175h1v6h-1zM56 175h1v3h-1zM57 184h1v3h-1zM43 185h1v6h-1zM58 194h1v2h-1zM44 195h1v6h-1zM45 204h1v7h-1zM59 205h1v5h-1zM46 213h1v8h-1zM47 223h1v7h-1zM60 223h1v4h-1zM48 233h1v6h-1zM61 239h1v5h-1zM49 242h1v6h-1zM50 251h1v10h-1zM62 257h1v6h-1zM51 263h1v11h-1zM52 275h1v11h-1zM63 277h1v5h-1zM53 287h1v10h-1zM54 298h1v2h-1z"/>
<path color="#45a6f2" d="M43 151h1v1h-1zM42 162h1v13h-1zM55 165h1v3h-1zM56 178h1v2h-1zM43 180h1v5h-1zM57 187h1v2h-1zM44 190h1v5h-1zM58 196h1v2h-1zM45 198h1v6h-1zM46 207h1v6h-1zM59 210h1v4h-1zM47 217h1v6h-1zM48 226h1v7h-1zM60 227h1v4h-1zM49 236h1v6h-1zM50 244h1v7h-1zM61 244h1v4h-1zM51 254h1v9h-1zM62 263h1v6h-1zM52 266h1v9h-1zM53 277h1v10h-1zM63 282h1v6h-1zM54 287h1v11h-1zM55 298h1v2h-1z"/>
<path color="#46aaf4" d="M43 152h1v7h-1zM55 168h1v3h-1zM43 176h1v4h-1zM56 180h1v2h-1zM44 185h1v5h-1zM57 189h1v2h-1zM45 194h1v4h-1zM58 198h1v2h-1zM46 202h1v5h-1zM47 211h1v6h-1zM59 214h1v4h-1zM48 221h1v5h-1zM49 230h1v6h-1zM60 231h1v5h-1zM50 238h1v6h-1zM51 247h1v7h-1zM61 248h1v6h-1zM52 257h1v9h-1zM53 267h1v10h-1zM62 269h1v7h-1zM54 278h1v9h-1zM55 288h1v10h-1zM63 288h1v5h-1zM56 298h1v2h-1z"/>
<path color="#47adf5" d="M54 151h1v3h-1zM43 159h1v17h-1zM55 171h1v2h-1zM44 181h1v4h-1zM56 182h1v2h-1zM45 189h1v5h-1zM57 191h1v2h-1zM46 197h1v5h-1zM58 200h1v4h-1zM47 206h1v5h-1zM48 215h1v6h-1zM59 218h1v4h-1zM49 224h1v6h-1zM50 232h1v6h-1zM60 236h1v4h-1zM51 241h1v6h-1zM52 249h1v8h-1zM61 254h1v7h-1zM53 259h1v8h-1zM54 269h1v9h-1zM62 276h1v8h-1zM55 279h1v9h-1zM56 288h1v10h-1zM63 293h1v7h-1zM57 298h1v2h-1z"/>
<path color="#48b0f7" d="M54 154h1v5h-1zM55 173h1v3h-1zM44 177h1v4h-1zM56 184h1v3h-1zM45 185h1v4h-1zM46 193h1v4h-1zM57 193h1v3h-1zM47 201h1v5h-1zM58 204h1v5h-1zM48 210h1v5h-1zM49 218h1v6h-1zM59 222h1v5h-1zM50 227h1v5h-1zM51 235h1v6h-1zM60 240h1v5h-1zM52 243h1v6h-1zM53 251h1v8h-1zM54 260h1v9h-1zM61 261h1v7h-1zM55 270h1v9h-1zM56 279h1v9h-1zM62 284h1v9h-1zM57 288h1v10h-1zM58 296h1v4h-1z"/>
<path color="#49b3f9" d="M36 0h1v6h-1zM45 0h1v6h-1zM36 8h1v5h-1zM45 8h1v5h-1zM36 15h1v2h-1zM45 15h1v2h-1zM36 20h1v5h-1zM45 20h1v5h-1zM37 27h1v18h-1zM46 27h1v18h-1zM38 58h1v7h-1zM47 58h1v7h-1zM38 67h1v4h-1zM47 67h1v4h-1zM39 81h1v10h-1zM48 81h1v10h-1zM40 99h1v8h-1zM49 99h1v8h-1zM41 111h1v2h-1zM50 111h1v2h-1zM41 117h1v6h-1zM50 117h1v6h-1zM42 129h1v8h-1zM51 129h1v8h-1zM43 141h1v7h-1zM52 141h1v7h-1zM44 151h1v11h-1zM54 159h1v4h-1zM44 173h1v4h-1zM55 176h1v2h-1zM45 182h1v3h-1zM56 187h1v2h-1zM46 189h1v4h-1zM57 196h1v2h-1zM47 197h1v4h-1zM48 204h1v6h-1zM58 209h1v5h-1zM49 213h1v5h-1zM50 222h1v5h-1zM59 227h1v6h-1zM51 230h1v5h-1zM52 238h1v5h-1zM53 244h1v7h-1zM60 245h1v5h-1zM54 251h1v9h-1zM55 260h1v10h-1zM61 268h1v13h-1zM56 269h1v10h-1zM57 278h1v10h-1zM58 286h1v10h-1zM62 293h1v7h-1zM59 294h1v6h-1z"/>
<path color="#4bb7fa" d="M44 162h1v11h-1zM54 163h1v3h-1zM45 178h1v4h-1zM55 178h1v3h-1zM46 186h1v3h-1zM56 189h1v3h-1zM47 193h1v4h-1zM57 198h1v4h-1zM48 200h1v4h-1zM49 208h1v5h-1zM58 214h1v8h-1zM50 216h1v6h-1zM51 224h1v6h-1zM52 232h1v6h-1zM59 233h1v10h-1zM53 238h1v6h-1zM54 245h1v6h-1zM60 250h1v22h-1zM55 251h1v9h-1zM56 260h1v9h-1zM57 268h1v10h-1zM58 277h1v9h-1zM61 281h1v19h-1zM59 284h1v10h-1zM60 292h1v8h-1z"/>
<path color="#4cbafb" d="M54 166h1v3h-1zM45 174h1v4h-1zM55 181h1v2h-1zM46 182h1v4h-1zM47 189h1v4h-1zM56 192h1v2h-1zM48 196h1v4h-1zM57 202h1v7h-1zM49 203h1v5h-1zM50 211h1v5h-1zM51 219h1v5h-1zM58 222h1v8h-1zM52 226h1v6h-1zM53 233h1v5h-1zM54 239h1v6h-1zM59 243h1v21h-1zM55 245h1v6h-1zM56 251h1v9h-1zM57 260h1v8h-1zM58 268h1v9h-1zM60 272h1v20h-1zM59 276h1v8h-1z"/>
<path color="#4ebcfc" d="M45 155h1v19h-1zM54 169h1v4h-1zM46 178h1v4h-1zM55 183h1v3h-1zM47 185h1v4h-1zM48 192h1v4h-1zM56 194h1v3h-1zM49 199h1v4h-1zM50 206h1v5h-1zM57 209h1v7h-1zM51 214h1v5h-1zM52 221h1v5h-1zM53 227h1v6h-1zM58 230h1v26h-1zM54 234h1v5h-1zM55 240h1v5h-1zM56 245h1v6h-1zM57 251h1v9h-1zM58 259h1v9h-1zM59 264h1v12h-1z"/>
<path color="#50bffc" d="M45 151h1v4h-1zM53 151h1v4h-1zM54 173h1v2h-1zM46 175h1v3h-1zM47 182h1v3h-1zM55 186h1v3h-1zM48 189h1v3h-1zM49 195h1v4h-1zM56 197h1v4h-1zM50 201h1v5h-1zM51 208h1v6h-1zM52 215h1v6h-1zM57 216h1v26h-1zM53 222h1v5h-1zM54 229h1v5h-1zM55 235h1v5h-1zM56 240h1v5h-1zM57 246h1v5h-1zM58 256h1v3h-1z"/>
<path color="#52c2fd" d="M53 155h1v4h-1zM46 170h1v5h-1zM54 175h1v4h-1zM47 178h1v4h-1zM48 185h1v4h-1zM55 189h1v3h-1zM49 191h1v4h-1zM50 197h1v4h-1zM56 201h1v18h-1zM51 204h1v4h-1zM52 211h1v4h-1zM53 217h1v5h-1zM54 224h1v5h-1zM55 230h1v5h-1zM56 235h1v5h-1zM57 242h1v4h-1z"/>
<path color="#53c5fe" d="M53 159h1v4h-1zM46 166h1v4h-1zM47 175h1v3h-1zM54 179h1v4h-1zM48 182h1v3h-1zM49 188h1v3h-1zM55 192h1v7h-1zM50 194h1v3h-1zM51 199h1v5h-1zM52 206h1v5h-1zM53 213h1v4h-1zM54 219h1v5h-1zM56 219h1v16h-1zM55 225h1v5h-1z"/>
<path color="#55c8fe" d="M37 0h1v6h-1zM44 0h1v6h-1zM39 6h1v2h-1zM37 8h1v5h-1zM44 8h1v5h-1zM39 13h1v2h-1zM37 15h1v2h-1zM44 15h1v2h-1zM39 17h1v3h-1zM37 20h1v5h-1zM44 20h1v5h-1zM39 25h1v1h-1zM40 26h1v1h-1zM38 27h1v18h-1zM45 27h1v18h-1zM40 45h1v13h-1zM39 58h1v7h-1zM46 58h1v7h-1zM40 65h1v2h-1zM39 67h1v4h-1zM46 67h1v4h-1zM41 71h1v10h-1zM40 81h1v10h-1zM47 81h1v10h-1zM42 91h1v8h-1zM41 99h1v8h-1zM48 99h1v8h-1zM43 107h1v4h-1zM42 111h1v2h-1zM49 111h1v2h-1zM43 113h1v4h-1zM42 117h1v6h-1zM49 117h1v6h-1zM44 123h1v6h-1zM43 129h1v8h-1zM50 129h1v8h-1zM45 137h1v4h-1zM44 141h1v7h-1zM51 141h1v7h-1zM46 148h1v3h-1zM53 163h1v5h-1zM46 164h1v2h-1zM47 172h1v3h-1zM48 178h1v4h-1zM54 183h1v7h-1zM49 184h1v4h-1zM50 190h1v4h-1zM51 195h1v4h-1zM55 199h1v26h-1zM52 202h1v4h-1zM53 208h1v5h-1zM54 214h1v5h-1z"/>
<path color="#57cbff" d="M46 161h1v3h-1zM53 168h1v9h-1zM47 170h1v2h-1zM48 175h1v3h-1zM49 181h1v3h-1zM50 186h1v4h-1zM54 190h1v24h-1zM51 192h1v3h-1zM52 197h1v5h-1zM53 204h1v4h-1z"/>
<path color="#5ecdfc" d="M52 151h1v1h-1zM46 159h1v2h-1zM47 168h1v2h-1zM48 172h1v3h-1zM49 177h1v4h-1zM53 177h1v8h-1zM50 182h1v4h-1zM51 188h1v4h-1zM52 194h2v3h-2zM53 197h1v7h-1z"/>
<path color="#6cd0f5" d="M52 152h1v5h-1zM46 157h1v2h-1zM47 167h1v1h-1zM48 171h1v1h-1zM49 173h1v4h-1zM50 178h1v4h-1zM51 184h1v4h-1zM53 185h1v9h-1zM52 189h1v5h-1z"/>
<path color="#79d3ef" d="M52 157h1v4h-1zM47 166h1v1h-1zM48 170h1v1h-1zM52 170h1v19h-1zM49 171h1v2h-1zM50 174h1v4h-1zM51 179h1v5h-1z"/>
<path color="#86d6e8" d="M46 151h1v6h-1zM52 161h1v9h-1zM47 165h1v1h-1zM48 169h1v1h-1zM50 172h1v2h-1zM51 175h1v4h-1z"/>
<path color="#94d9e2" d="M47 164h1v1h-1zM48 168h1v1h-1zM49 170h1v1h-1zM50 171h2v1h-2zM51 172h1v3h-1z"/>
<path color="#a1dcda" d="M38 0h1v6h-1zM43 0h1v6h-1zM38 8h1v5h-1zM43 8h1v5h-1zM38 15h1v2h-1zM43 15h1v2h-1zM38 20h1v5h-1zM43 20h1v5h-1zM39 27h1v18h-1zM44 27h1v18h-1zM40 58h1v7h-1zM45 58h1v7h-1zM40 67h1v4h-1zM45 67h1v4h-1zM41 81h1v10h-1zM46 81h1v10h-1zM42 99h1v8h-1zM47 99h1v8h-1zM43 111h1v2h-1zM48 111h1v2h-1zM43 117h1v6h-1zM48 117h1v6h-1zM44 129h1v8h-1zM49 129h1v8h-1zM45 141h1v7h-1zM50 141h1v7h-1zM47 163h1v1h-1zM48 167h1v1h-1zM49 169h1v1h-1zM51 169h1v2h-1zM50 170h1v1h-1z"/>
<path color="#aeddce" d="M47 162h1v1h-1zM48 166h1v1h-1zM49 168h1v1h-1zM51 168h1v1h-1zM50 169h1v1h-1z"/>
<path color="#bbddc2" d="M47 161h1v1h-1zM51 164h1v4h-1z"/>
<path color="#c9deb5" d="M51 151h1v6h-1zM47 160h1v1h-1zM51 162h1v2h-1zM48 165h1v1h-1zM49 167h1v1h-1zM50 168h1v1h-1z"/>
<path color="#d6dfa9" d="M51 157h1v5h-1zM47 159h1v1h-1zM48 164h1v1h-1zM50 167h1v1h-1z"/>
<path color="#dfdd9d" d="M49 166h2v1h-2z"/>
<path color="#e7da92" d="M47 158h1v1h-1zM48 163h1v1h-1zM49 165h2v1h-2z"/>
<path color="#efd786" d="M48 162h1v1h-1zM50 163h1v2h-1z"/>
<path color="#f7d47b" d="M47 157h1v1h-1zM50 162h1v1h-1zM49 164h1v1h-1z"/>
<path color="#fdcf6f" d="M40 6h1v2h-1zM40 13h1v2h-1zM40 17h1v3h-1zM40 25h1v1h-1zM41 26h1v1h-1zM41 45h1v13h-1zM41 65h1v2h-1zM42 71h1v10h-1zM43 91h1v8h-1zM44 107h1v4h-1zM44 113h1v4h-1zM45 123h1v6h-1zM46 137h1v4h-1zM47 148h1v3h-1zM48 161h1v1h-1zM50 161h1v1h-1zM49 163h1v1h-1z"/>
<path color="#fbc464" d="M47 151h1v6h-1zM50 159h1v2h-1zM48 160h1v1h-1zM49 162h1v1h-1z"/>
<path color="#f9b959" d="M50 158h1v1h-1zM49 161h1v1h-1z"/>
<path color="#f8ae4e" d="M50 157h1v1h-1zM48 159h1v1h-1zM49 160h1v1h-1z"/>
<path color="#f6a242" d="M39 0h1v6h-1zM42 0h1v6h-1zM39 8h1v5h-1zM42 8h1v5h-1zM39 15h1v2h-1zM42 15h1v2h-1zM39 20h1v5h-1zM42 20h1v5h-1zM40 27h1v18h-1zM43 27h1v18h-1zM41 58h1v7h-1zM44 58h1v7h-1zM41 67h1v4h-1zM44 67h1v4h-1zM42 81h1v10h-1zM45 81h1v10h-1zM43 99h1v8h-1zM46 99h1v8h-1zM44 111h1v2h-1zM47 111h1v2h-1zM44 117h1v6h-1zM47 117h1v6h-1zM45 129h1v8h-1zM48 129h1v8h-1zM46 141h1v7h-1zM49 141h1v7h-1zM50 151h1v6h-1z"/>
<path color="#ee9537" d="M48 158h1v1h-1zM49 159h1v1h-1z"/>
<path color="#e3862c" d="M49 158h1v1h-1z"/>
<path color="#d97821" d="M48 157h2v1h-2z"/>
<path color="#6a2400" d="M40 0h2v6h-2zM41 6h1v20h-1zM40 8h1v5h-1zM40 15h1v2h-1zM40 20h1v5h-1zM42 26h1v45h-1zM41 27h1v18h-1zM43 58h1v7h-1zM43 67h1v24h-1zM44 81h1v26h-1zM45 99h1v24h-1zM46 111h1v2h-1zM46 117h1v20h-1zM47 129h1v19h-1zM48 141h1v16h-1zM49 151h1v6h-1z"/>
</g>
<g class="nf">
<path color="#162560" d="M47 6h17v2h-17zM47 13h17v2h-17zM47 17h17v3h-17zM47 25h17v1h-17zM48 26h16v1h-16zM48 45h16v13h-16zM48 65h16v2h-16zM49 71h15v10h-15zM50 91h14v8h-14zM51 107h13v4h-13zM51 113h13v4h-13zM52 123h12v6h-12zM53 137h11v4h-11zM54 148h10v3h-10z"/>
<path color="#172764" d="M46 6h1v2h-1zM46 13h1v2h-1zM46 17h1v3h-1zM46 25h1v1h-1zM47 26h1v1h-1zM47 45h1v13h-1zM47 65h1v2h-1zM48 71h1v10h-1zM49 91h1v8h-1zM50 107h1v4h-1zM50 113h1v4h-1zM51 123h1v6h-1zM52 137h1v4h-1zM53 148h1v3h-1z"/>
<path color="#172968" d="M45 6h1v2h-1zM45 13h1v2h-1zM45 17h1v3h-1zM45 25h1v1h-1zM46 26h1v1h-1zM46 45h1v13h-1zM46 65h1v2h-1zM47 71h1v10h-1zM48 91h1v8h-1zM49 107h1v4h-1zM49 113h1v4h-1zM50 123h1v6h-1zM51 137h1v4h-1zM52 148h1v3h-1z"/>
<path color="#192c71" d="M0 6h2v2h-2zM6 6h23v2h-23zM44 6h1v2h-1zM0 13h2v2h-2zM6 13h23v2h-23zM44 13h1v2h-1zM0 17h2v3h-2zM6 17h23v3h-23zM44 17h1v3h-1zM0 25h2v2h-2zM6 25h23v2h-23zM44 25h1v1h-1zM29 26h1v1h-1zM45 26h1v1h-1zM0 45h2v2h-2zM6 45h24v13h-24zM45 45h1v13h-1zM3 49h3v9h-3zM0 65h2v2h-2zM3 65h27v2h-27zM45 65h1v2h-1zM2 71h29v10h-29zM46 71h1v10h-1zM0 80h2v1h-2zM0 91h1v8h-1zM5 91h27v8h-27zM47 91h1v8h-1zM0 107h4v4h-4zM8 107h25v4h-25zM48 107h1v4h-1zM0 113h4v4h-4zM8 113h25v3h-25zM48 113h1v4h-1zM8 116h1v1h-1zM10 116h23v1h-23zM0 123h7v6h-7zM11 123h23v6h-23zM49 123h1v6h-1zM0 137h10v4h-10zM14 137h21v4h-21zM50 137h1v4h-1zM51 148h1v3h-1z"/>
<path color="#1a3079" d="M29 6h1v2h-1zM29 13h1v2h-1zM29 17h1v3h-1zM29 25h1v1h-1zM30 26h1v1h-1zM30 45h1v13h-1zM30 65h1v2h-1zM31 71h1v10h-1zM32 91h1v8h-1zM33 107h1v4h-1zM33 113h1v4h-1zM34 123h1v6h-1zM35 137h1v4h-1zM36 148h1v3h-1z"/>
<path color="#1b3381" d="M30 6h1v2h-1zM30 13h1v2h-1zM30 17h1v3h-1zM30 25h1v1h-1zM31 26h1v1h-1zM31 45h1v13h-1zM31 65h1v2h-1zM32 71h1v10h-1zM33 91h1v8h-1zM34 107h1v4h-1zM34 113h1v4h-1zM35 123h1v6h-1zM36 137h1v4h-1zM37 148h1v3h-1z"/>
<path color="#1c3585" d="M0 148h13v3h-13zM17 148h19v3h-19z"/>
<path color="#1d3789" d="M0 0h24v6h-24zM31 6h1v2h-1zM0 8h24v5h-24zM31 13h1v2h-1zM0 15h24v2h-24zM31 17h1v3h-1zM0 20h24v5h-24zM31 25h1v1h-1zM32 26h1v1h-1zM0 27h25v13h-25zM0 40h3v5h-3zM4 40h21v5h-21zM32 45h1v13h-1zM0 58h26v6h-26zM0 64h2v1h-2zM3 64h23v1h-23zM32 65h1v2h-1zM0 67h2v4h-2zM3 67h23v4h-23zM33 71h1v10h-1zM0 81h27v3h-27zM0 84h3v7h-3zM4 84h23v7h-23zM34 91h1v8h-1zM0 99h28v1h-28zM0 100h6v7h-6zM7 100h21v7h-21zM35 107h1v4h-1zM0 111h6v2h-6zM7 111h22v2h-22zM35 113h1v4h-1zM0 117h9v6h-9zM10 117h19v6h-19zM36 123h1v6h-1zM0 129h30v1h-30zM0 130h12v7h-12zM13 130h17v7h-17zM37 137h1v4h-1zM0 141h15v7h-15zM16 141h14v7h-14zM38 148h1v3h-1z"/>
<path color="#1f398c" d="M24 0h1v6h-1zM57 0h7v6h-7zM2 6h1v2h-1zM43 6h1v2h-1zM24 8h1v5h-1zM57 8h7v5h-7zM2 13h1v2h-1zM43 13h1v2h-1zM24 15h1v2h-1zM57 15h7v2h-7zM2 17h1v3h-1zM43 17h1v3h-1zM24 20h1v5h-1zM57 20h7v5h-7zM2 25h1v2h-1zM43 25h1v1h-1zM44 26h1v1h-1zM25 27h1v18h-1zM58 27h6v18h-6zM2 45h1v2h-1zM44 45h1v13h-1zM26 58h1v7h-1zM59 58h5v7h-5zM44 65h1v2h-1zM26 67h1v4h-1zM59 67h5v4h-5zM45 71h1v10h-1zM27 81h1v10h-1zM60 81h4v10h-4zM1 91h1v8h-1zM46 91h1v8h-1zM28 99h1v8h-1zM61 99h3v8h-3zM4 107h1v4h-1zM47 107h1v4h-1zM29 111h1v2h-1zM62 111h2v2h-2zM4 113h1v4h-1zM47 113h1v4h-1zM29 117h1v6h-1zM62 117h2v6h-2zM7 123h1v6h-1zM48 123h1v6h-1zM30 129h1v8h-1zM63 129h1v8h-1zM10 137h1v4h-1zM49 137h1v4h-1zM30 141h2v7h-2zM13 148h1v3h-1zM50 148h1v3h-1z"/>
<path color="#203b8f" d="M25 0h2v6h-2zM55 0h2v6h-2zM32 6h1v2h-1zM25 8h2v5h-2zM55 8h2v5h-2zM32 13h1v2h-1zM25 15h2v2h-2zM55 15h2v2h-2zM32 17h1v3h-1zM25 20h2v5h-2zM55 20h2v5h-2zM32 25h1v1h-1zM33 26h1v1h-1zM26 27h2v18h-2zM56 27h2v18h-2zM33 45h1v13h-1zM27 58h2v7h-2zM57 58h2v7h-2zM33 65h1v2h-1zM27 67h2v4h-2zM57 67h2v4h-2zM34 71h1v10h-1zM28 81h2v10h-2zM58 81h2v10h-2zM35 91h1v8h-1zM29 99h2v8h-2zM59 99h2v8h-2zM36 107h1v4h-1zM30 111h2v2h-2zM60 111h2v2h-2zM36 113h1v4h-1zM30 117h2v6h-2zM60 117h2v6h-2zM37 123h1v6h-1zM31 129h2v8h-2zM61 129h2v8h-2zM38 137h1v4h-1zM32 141h2v7h-2zM62 141h2v7h-2zM39 148h1v3h-1z"/>
<path color="#213d93" d="M27 0h1v6h-1zM3 6h1v2h-1zM27 8h1v5h-1zM3 13h1v2h-1zM27 15h1v2h-1zM3 17h1v3h-1zM27 20h1v5h-1zM3 25h1v2h-1zM28 27h1v18h-1zM0 47h1v11h-1zM3 47h1v2h-1zM29 58h1v7h-1zM29 67h1v4h-1zM30 81h1v10h-1zM2 91h1v8h-1zM31 99h1v8h-1zM5 107h1v4h-1zM32 111h1v2h-1zM5 113h1v4h-1zM32 117h1v6h-1zM8 123h1v6h-1zM33 129h1v8h-1zM11 137h1v4h-1zM34 141h1v7h-1zM14 148h1v3h-1zM0 151h6v1h-6z"/>
<path color="#223f96" d="M54 0h1v6h-1zM54 8h1v5h-1zM54 15h1v2h-1zM54 20h1v5h-1zM55 27h1v18h-1zM56 58h1v7h-1zM56 67h1v4h-1zM57 81h1v10h-1zM58 99h1v8h-1zM59 111h1v2h-1zM59 117h1v6h-1zM60 129h1v8h-1zM61 141h1v7h-1zM6 151h5v1h-5zM0 152h9v1h-9zM0 153h3v1h-3z"/>
<path color="#24419a" d="M28 0h1v6h-1zM33 6h1v2h-1zM28 8h1v5h-1zM33 13h1v2h-1zM28 15h1v2h-1zM33 17h1v3h-1zM28 20h1v5h-1zM33 25h1v1h-1zM34 26h1v1h-1zM29 27h1v18h-1zM3 40h1v7h-1zM34 45h1v13h-1zM30 58h1v7h-1zM2 64h1v7h-1zM34 65h1v2h-1zM30 67h1v4h-1zM35 71h1v10h-1zM31 81h1v10h-1zM3 84h1v7h-1zM36 91h1v8h-1zM32 99h1v8h-1zM6 100h1v7h-1zM37 107h1v4h-1zM6 111h1v2h-1zM33 111h1v2h-1zM37 113h1v4h-1zM9 116h1v7h-1zM33 117h1v6h-1zM38 123h1v6h-1zM34 129h1v8h-1zM12 130h1v7h-1zM39 137h1v4h-1zM15 141h1v7h-1zM35 141h1v7h-1zM40 148h1v3h-1zM11 151h4v1h-4zM9 152h3v1h-3zM3 153h7v1h-7zM0 154h6v1h-6z"/>
<path color="#25439d" d="M53 0h1v6h-1zM53 8h1v5h-1zM53 15h1v2h-1zM53 20h1v5h-1zM54 27h1v18h-1zM55 58h1v7h-1zM55 67h1v4h-1zM56 81h1v10h-1zM57 99h1v8h-1zM58 111h1v2h-1zM58 117h1v6h-1zM59 129h1v8h-1zM60 141h1v7h-1zM15 151h3v1h-3zM12 152h4v1h-4zM10 153h3v1h-3zM6 154h5v1h-5zM0 155h9v1h-9zM0 156h4v1h-4z"/>
<path color="#2644a0" d="M29 0h1v6h-1zM29 8h1v5h-1zM29 15h1v2h-1zM29 20h1v5h-1zM30 27h1v18h-1zM31 58h1v7h-1zM31 67h1v4h-1zM32 81h1v10h-1zM33 99h1v8h-1zM34 111h1v2h-1zM34 117h1v6h-1zM35 129h1v8h-1zM36 141h1v7h-1zM18 151h3v1h-3zM16 152h3v1h-3zM13 153h4v1h-4zM11 154h3v1h-3zM9 155h3v1h-3zM4 156h6v1h-6zM0 157h8v1h-8zM0 158h6v1h-6zM0 159h4v1h-4zM0 160h3v1h-3zM0 161h1v1h-1z"/>
<path color="#2746a4" d="M4 6h1v2h-1zM4 13h1v2h-1zM4 17h1v3h-1zM4 25h1v2h-1zM4 45h1v4h-1zM1 47h1v11h-1zM0 71h1v9h-1zM3 91h1v8h-1zM6 107h1v4h-1zM6 113h1v4h-1zM9 123h1v6h-1zM12 137h1v4h-1zM15 148h1v3h-1zM21 151h2v1h-2zM19 152h2v1h-2zM17 153h2v1h-2zM14 154h3v1h-3zM12 155h3v1h-3zM10 156h3v1h-3zM8 157h3v2h-3zM6 158h2v3h-2zM4 159h2v3h-2zM8 159h2v1h-2zM3 160h1v4h-1zM8 160h1v1h-1zM1 161h2v5h-2zM6 161h1v1h-1zM0 162h1v8h-1zM4 162h1v1h-1zM1 166h1v2h-1z"/>
<path color="#2849a6" d="M52 0h1v6h-1zM34 6h1v2h-1zM52 8h1v5h-1zM34 13h1v2h-1zM52 15h1v2h-1zM34 17h1v3h-1zM52 20h1v5h-1zM34 25h1v1h-1zM35 26h1v1h-1zM53 27h1v18h-1zM35 45h1v13h-1zM54 58h1v7h-1zM35 65h1v2h-1zM54 67h1v4h-1zM36 71h1v10h-1zM55 81h1v10h-1zM37 91h1v8h-1zM56 99h1v8h-1zM38 107h1v4h-1zM57 111h1v2h-1zM38 113h1v4h-1zM57 117h1v6h-1zM39 123h1v6h-1zM58 129h1v8h-1zM40 137h1v4h-1zM59 141h1v7h-1zM41 148h1v3h-1zM23 151h2v1h-2zM21 152h3v1h-3zM19 153h3v1h-3zM17 154h3v1h-3zM15 155h3v1h-3zM13 156h3v1h-3zM11 157h3v1h-3zM11 158h2v2h-2zM10 159h1v3h-1zM9 160h1v3h-1zM11 160h1v1h-1zM7 161h2v3h-2zM5 162h2v5h-2zM4 163h1v8h-1zM3 164h1v136h-1zM7 164h1v1h-1zM2 166h1v134h-1zM5 167h1v2h-1zM1 168h1v132h-1zM0 170h1v130h-1z"/>
<path color="#284ba9" d="M30 0h1v6h-1zM30 8h1v5h-1zM30 15h1v2h-1zM30 20h1v5h-1zM31 27h1v18h-1zM32 58h1v7h-1zM32 67h1v4h-1zM33 81h1v10h-1zM34 99h1v8h-1zM35 111h1v2h-1zM35 117h1v6h-1zM36 129h1v8h-1zM37 141h1v7h-1zM25 151h2v1h-2zM24 152h1v1h-1zM22 153h2v1h-2zM20 154h2v1h-2zM18 155h2v1h-2zM16 156h2v1h-2zM14 157h3v1h-3zM13 158h3v2h-3zM12 160h3v1h-3zM11 161h3v1h-3zM10 162h3v1h-3zM9 163h3v1h-3zM8 164h3v2h-3zM7 165h1v135h-1zM8 166h2v3h-2zM6 167h1v133h-1zM5 169h1v131h-1zM8 169h1v131h-1zM4 171h1v129h-1z"/>
<path color="#294eab" d="M51 0h1v6h-1zM51 8h1v5h-1zM51 15h1v2h-1zM51 20h1v5h-1zM52 27h1v18h-1zM53 58h1v7h-1zM53 67h1v4h-1zM54 81h1v10h-1zM55 99h1v8h-1zM56 111h1v2h-1zM56 117h1v6h-1zM57 129h1v8h-1zM58 141h1v7h-1zM27 151h1v1h-1zM25 152h2v1h-2zM24 153h2v1h-2zM22 154h3v1h-3zM20 155h3v1h-3zM18 156h3v1h-3zM17 157h2v2h-2zM16 158h1v4h-1zM17 159h1v1h-1zM15 160h1v3h-1zM14 161h1v3h-1zM13 162h1v4h-1zM12 163h1v6h-1zM11 164h1v136h-1zM10 166h1v134h-1zM9 169h1v131h-1z"/>
<path color="#2a50ae" d="M31 0h1v6h-1zM31 8h1v5h-1zM31 15h1v2h-1zM31 20h1v5h-1zM32 27h1v18h-1zM33 58h1v7h-1zM33 67h1v4h-1zM34 81h1v10h-1zM35 99h1v8h-1zM36 111h1v2h-1zM36 117h1v6h-1zM37 129h1v8h-1zM38 141h1v7h-1zM28 151h1v1h-1zM63 151h1v9h-1zM27 152h1v1h-1zM26 153h1v1h-1zM25 154h1v1h-1zM23 155h2v1h-2zM21 156h2v1h-2zM19 157h3v1h-3zM19 158h2v1h-2zM18 159h2v2h-2zM17 160h1v3h-1zM18 161h1v1h-1zM16 162h1v4h-1zM15 163h1v6h-1zM14 164h1v136h-1zM13 166h1v134h-1zM12 169h1v131h-1z"/>
<path color="#2b53b0" d="M35 6h1v2h-1zM35 13h1v2h-1zM35 17h1v3h-1zM35 25h1v1h-1zM36 26h1v1h-1zM36 45h1v13h-1zM36 65h1v2h-1zM37 71h1v10h-1zM38 91h1v8h-1zM39 107h1v4h-1zM39 113h1v4h-1zM40 123h1v6h-1zM41 137h1v4h-1zM42 148h1v3h-1zM29 151h2v1h-2zM62 151h1v4h-1zM28 152h2v1h-2zM27 153h2v1h-2zM26 154h1v1h-1zM25 155h1v1h-1zM23 156h2v1h-2zM22 157h2v1h-2zM21 158h2v2h-2zM20 159h1v3h-1zM21 160h1v1h-1zM63 160h1v6h-1zM19 161h1v3h-1zM18 162h1v5h-1zM17 163h1v8h-1zM16 166h1v134h-1zM15 169h1v131h-1z"/>
<path color="#2b55b3" d="M50 0h1v6h-1zM50 8h1v5h-1zM50 15h1v2h-1zM50 20h1v5h-1zM51 27h1v18h-1zM52 58h1v7h-1zM52 67h1v4h-1zM53 81h1v10h-1zM54 99h1v8h-1zM55 111h1v2h-1zM55 117h1v6h-1zM56 129h1v8h-1zM57 141h1v7h-1zM31 151h1v1h-1zM30 152h1v1h-1zM29 153h1v1h-1zM27 154h2v1h-2zM26 155h2v1h-2zM62 155h1v9h-1zM25 156h2v1h-2zM24 157h2v1h-2zM23 158h2v2h-2zM22 160h2v1h-2zM21 161h2v2h-2zM20 162h1v6h-1zM21 163h1v1h-1zM19 164h1v136h-1zM63 166h1v4h-1zM18 167h1v133h-1zM17 171h1v129h-1z"/>
<path color="#2c58b6" d="M32 151h1v1h-1zM61 151h1v9h-1zM31 152h1v1h-1zM30 153h1v1h-1zM29 154h1v1h-1zM28 155h1v1h-1zM27 156h1v1h-1zM26 157h1v2h-1zM25 158h1v3h-1zM24 160h1v3h-1zM23 161h1v4h-1zM22 163h1v6h-1zM21 164h1v136h-1zM62 164h1v4h-1zM20 168h1v132h-1zM63 170h1v4h-1z"/>
<path color="#2d5ab8" d="M32 0h1v6h-1zM32 8h1v5h-1zM32 15h1v2h-1zM32 20h1v5h-1zM33 27h1v18h-1zM34 58h1v7h-1zM34 67h1v4h-1zM35 81h1v10h-1zM36 99h1v8h-1zM37 111h1v2h-1zM37 117h1v6h-1zM38 129h1v8h-1zM39 141h1v7h-1zM60 151h1v4h-1zM32 152h1v1h-1zM31 153h1v2h-1zM30 154h1v2h-1zM29 155h1v2h-1zM28 156h1v2h-1zM27 157h1v3h-1zM26 159h1v3h-1zM61 160h1v5h-1zM25 161h1v4h-1zM24 163h1v7h-1zM23 165h1v135h-1zM62 168h1v3h-1zM22 169h1v131h-1zM63 174h1v4h-1z"/>
<path color="#2d5dbb" d="M33 151h1v1h-1zM32 153h1v2h-1zM31 155h1v1h-1zM60 155h1v8h-1zM30 156h1v1h-1zM29 157h1v3h-1zM28 158h1v4h-1zM27 160h1v4h-1zM26 162h1v7h-1zM25 165h1v135h-1zM61 165h1v4h-1zM24 170h1v130h-1zM62 171h1v4h-1zM63 178h1v4h-1z"/>
<path color="#2e61be" d="M49 0h1v6h-1zM36 6h1v2h-1zM49 8h1v5h-1zM36 13h1v2h-1zM49 15h1v2h-1zM36 17h1v3h-1zM49 20h1v5h-1zM36 25h1v1h-1zM37 26h1v1h-1zM50 27h1v18h-1zM37 45h1v13h-1zM51 58h1v7h-1zM37 65h1v2h-1zM51 67h1v4h-1zM38 71h1v10h-1zM52 81h1v10h-1zM39 91h1v8h-1zM53 99h1v8h-1zM40 107h1v4h-1zM54 111h1v2h-1zM40 113h1v4h-1zM54 117h1v6h-1zM41 123h1v6h-1zM55 129h1v8h-1zM42 137h1v4h-1zM56 141h1v7h-1zM43 148h1v3h-1zM33 152h1v2h-1zM32 155h1v1h-1zM31 156h1v3h-1zM30 157h1v4h-1zM29 160h1v3h-1zM28 162h1v5h-1zM60 163h1v3h-1zM27 164h1v136h-1zM26 169h1v131h-1zM61 169h1v3h-1zM62 175h1v3h-1zM63 182h1v3h-1z"/>
<path color="#3064c1" d="M34 151h1v2h-1zM59 151h1v5h-1zM33 154h1v2h-1zM32 156h1v3h-1zM31 159h1v3h-1zM30 161h1v5h-1zM29 163h1v8h-1zM60 166h1v2h-1zM28 167h1v133h-1zM61 172h1v3h-1zM62 178h1v4h-1zM63 185h1v4h-1z"/>
<path color="#3167c4" d="M33 0h1v6h-1zM33 8h1v5h-1zM33 15h1v2h-1zM33 20h1v5h-1zM34 27h1v18h-1zM35 58h1v7h-1zM35 67h1v4h-1zM36 81h1v10h-1zM37 99h1v8h-1zM38 111h1v2h-1zM38 117h1v6h-1zM39 129h1v8h-1zM40 141h1v7h-1zM35 151h1v1h-1zM34 153h1v2h-1zM33 156h1v1h-1zM59 156h1v6h-1zM32 159h1v4h-1zM31 162h1v7h-1zM30 166h1v134h-1zM60 168h1v2h-1zM29 171h1v129h-1zM61 175h1v3h-1zM62 182h1v3h-1zM63 189h1v4h-1z"/>
<path color="#326bc7" d="M35 152h1v2h-1zM34 155h1v1h-1zM33 157h1v4h-1zM59 162h1v4h-1zM32 163h1v7h-1zM31 169h1v131h-1zM60 170h1v3h-1zM61 178h1v3h-1zM62 185h1v3h-1zM63 193h1v4h-1zM32 204h1v96h-1z"/>
<path color="#336ec9" d="M48 0h1v6h-1zM48 8h1v5h-1zM48 15h1v2h-1zM48 20h1v5h-1zM49 27h1v18h-1zM50 58h1v7h-1zM50 67h1v4h-1zM51 81h1v10h-1zM52 99h1v8h-1zM53 111h1v2h-1zM53 117h1v6h-1zM54 129h1v8h-1zM55 141h1v7h-1zM36 151h1v2h-1zM58 151h1v5h-1zM35 154h1v2h-1zM34 156h1v4h-1zM33 161h1v6h-1zM59 166h1v2h-1zM32 170h1v34h-1zM60 173h1v3h-1zM61 181h1v3h-1zM62 188h1v4h-1zM63 197h1v3h-1zM33 205h1v95h-1zM34 292h1v8h-1z"/>
<path color="#3472cc" d="M36 153h1v2h-1zM35 156h1v2h-1zM58 156h1v5h-1zM34 160h1v4h-1zM33 167h1v38h-1zM59 168h1v3h-1zM60 176h1v3h-1zM61 184h1v3h-1zM62 192h1v3h-1zM63 200h1v6h-1zM34 206h1v86h-1zM35 251h1v49h-1z"/>
<path color="#3575cf" d="M37 151h1v3h-1zM36 155h1v2h-1zM35 158h1v4h-1zM58 161h1v4h-1zM34 164h1v42h-1zM59 171h1v3h-1zM60 179h1v3h-1zM61 187h1v3h-1zM62 195h1v3h-1zM35 206h1v45h-1zM63 206h1v6h-1zM36 234h1v66h-1zM37 272h1v28h-1z"/>
<path color="#3679d2" d="M38 151h1v1h-1zM57 151h1v5h-1zM37 154h1v2h-1zM36 157h1v4h-1zM35 162h1v7h-1zM58 165h1v3h-1zM59 174h1v3h-1zM35 179h1v27h-1zM60 182h1v3h-1zM61 190h1v4h-1zM62 198h1v5h-1zM36 207h1v27h-1zM63 212h1v6h-1zM37 229h1v43h-1zM38 255h1v45h-1zM39 291h1v9h-1z"/>
<path color="#377cd5" d="M34 0h1v6h-1zM37 6h1v2h-1zM42 6h1v2h-1zM34 8h1v5h-1zM37 13h1v2h-1zM42 13h1v2h-1zM34 15h1v2h-1zM37 17h1v3h-1zM42 17h1v3h-1zM34 20h1v5h-1zM37 25h1v1h-1zM42 25h1v1h-1zM38 26h1v1h-1zM43 26h1v1h-1zM35 27h1v18h-1zM5 45h1v4h-1zM38 45h1v13h-1zM43 45h1v13h-1zM36 58h1v7h-1zM38 65h1v2h-1zM43 65h1v2h-1zM36 67h1v4h-1zM39 71h1v10h-1zM44 71h1v10h-1zM37 81h1v10h-1zM40 91h1v8h-1zM45 91h1v8h-1zM38 99h1v8h-1zM41 107h1v4h-1zM46 107h1v4h-1zM39 111h1v2h-1zM41 113h1v4h-1zM46 113h1v4h-1zM39 117h1v6h-1zM42 123h1v6h-1zM47 123h1v6h-1zM40 129h1v8h-1zM43 137h1v4h-1zM48 137h1v4h-1zM41 141h1v7h-1zM44 148h1v3h-1zM49 148h1v3h-1zM38 152h1v3h-1zM37 156h1v3h-1zM57 156h1v4h-1zM36 161h1v4h-1zM58 168h1v4h-1zM35 169h1v10h-1zM59 177h1v2h-1zM36 185h1v22h-1zM60 185h1v3h-1zM61 194h1v3h-1zM62 203h1v5h-1zM37 207h1v22h-1zM63 218h1v6h-1zM38 228h1v27h-1zM39 250h1v41h-1zM40 276h1v24h-1z"/>
<path color="#3980d8" d="M47 0h1v6h-1zM5 6h1v2h-1zM47 8h1v5h-1zM5 13h1v2h-1zM47 15h1v2h-1zM47 20h1v5h-1zM5 25h1v2h-1zM48 27h1v18h-1zM2 47h1v11h-1zM49 58h1v7h-1zM49 67h1v4h-1zM50 81h1v10h-1zM51 99h1v8h-1zM52 111h1v2h-1zM52 117h1v6h-1zM53 129h1v8h-1zM54 141h1v7h-1zM38 155h1v2h-1zM37 159h1v4h-1zM57 160h1v4h-1zM36 165h1v20h-1zM58 172h1v2h-1zM59 179h1v3h-1zM37 188h1v19h-1zM60 188h1v3h-1zM61 197h1v3h-1zM38 208h1v20h-1zM62 208h1v5h-1zM63 224h1v6h-1zM39 227h1v23h-1zM40 247h1v29h-1zM41 269h1v31h-1zM42 291h1v9h-1z"/>
<path color="#3a84da" d="M39 151h1v3h-1zM38 157h1v4h-1zM37 163h1v8h-1zM57 164h1v2h-1zM37 174h1v14h-1zM58 174h1v2h-1zM59 182h1v2h-1zM60 191h1v3h-1zM38 192h1v16h-1zM61 200h1v4h-1zM39 209h1v18h-1zM62 213h1v5h-1zM40 227h1v20h-1zM63 230h1v5h-1zM41 245h1v24h-1zM42 264h1v27h-1zM43 282h1v18h-1z"/>
<path color="#3b87dd" d="M56 151h1v1h-1zM39 154h1v3h-1zM38 161h1v5h-1zM57 166h1v3h-1zM37 171h1v3h-1zM58 176h1v3h-1zM38 179h1v13h-1zM59 184h1v3h-1zM60 194h1v2h-1zM39 197h1v12h-1zM61 204h1v5h-1zM40 213h1v14h-1zM62 218h1v5h-1zM41 229h1v16h-1zM63 235h1v6h-1zM42 244h1v20h-1zM43 260h1v22h-1zM44 277h1v23h-1zM45 294h1v6h-1z"/>
<path color="#3c8be0" d="M5 17h1v3h-1zM40 151h1v2h-1zM56 152h1v5h-1zM39 157h1v4h-1zM38 166h1v13h-1zM57 169h1v2h-1zM58 179h1v2h-1zM39 185h1v12h-1zM59 187h1v2h-1zM60 196h1v3h-1zM40 202h1v11h-1zM61 209h1v5h-1zM41 216h1v13h-1zM62 223h1v5h-1zM42 230h1v14h-1zM63 241h1v5h-1zM43 243h1v17h-1zM44 258h1v19h-1zM45 275h1v19h-1zM46 292h1v8h-1z"/>
<path color="#3d8ee3" d="M40 153h1v3h-1zM56 157h1v4h-1zM39 161h1v5h-1zM57 171h1v3h-1zM39 176h1v9h-1zM58 181h1v2h-1zM59 189h1v3h-1zM40 192h1v10h-1zM60 199h1v3h-1zM41 206h1v10h-1zM61 214h1v5h-1zM42 219h1v11h-1zM62 228h1v5h-1zM43 231h1v12h-1zM44 243h1v15h-1zM63 246h1v6h-1zM45 256h1v19h-1zM46 273h1v19h-1zM47 290h1v10h-1z"/>
<path color="#3e92e5" d="M40 156h1v4h-1zM56 161h1v3h-1zM39 166h1v10h-1zM57 174h1v2h-1zM40 183h1v9h-1zM58 183h1v2h-1zM59 192h1v2h-1zM41 197h1v9h-1zM60 202h1v4h-1zM42 210h1v9h-1zM61 219h1v4h-1zM43 221h1v10h-1zM44 233h1v10h-1zM62 233h1v5h-1zM45 244h1v12h-1zM63 252h1v5h-1zM46 256h1v17h-1zM47 272h1v18h-1zM48 288h1v12h-1z"/>
<path color="#3f96e8" d="M1 71h1v9h-1zM41 151h1v4h-1zM40 160h1v4h-1zM56 164h1v3h-1zM40 176h1v7h-1zM57 176h1v2h-1zM58 185h1v2h-1zM41 189h1v8h-1zM59 194h1v2h-1zM42 201h1v9h-1zM60 206h1v4h-1zM43 213h1v8h-1zM61 223h1v4h-1zM44 224h1v9h-1zM45 234h1v10h-1zM62 238h1v5h-1zM46 245h1v11h-1zM63 257h1v5h-1zM47 258h1v14h-1zM48 273h1v15h-1zM49 287h1v13h-1z"/>
<path color="#4099eb" d="M35 0h1v6h-1zM46 0h1v6h-1zM38 6h1v2h-1zM35 8h1v5h-1zM46 8h1v5h-1zM38 13h1v2h-1zM35 15h1v2h-1zM46 15h1v2h-1zM38 17h1v3h-1zM35 20h1v5h-1zM46 20h1v5h-1zM38 25h1v1h-1zM39 26h1v1h-1zM36 27h1v18h-1zM47 27h1v18h-1zM39 45h1v13h-1zM37 58h1v7h-1zM48 58h1v7h-1zM39 65h1v2h-1zM37 67h1v4h-1zM48 67h1v4h-1zM40 71h1v10h-1zM38 81h1v10h-1zM49 81h1v10h-1zM4 91h1v8h-1zM41 91h1v8h-1zM39 99h1v8h-1zM50 99h1v8h-1zM7 107h1v4h-1zM42 107h1v4h-1zM40 111h1v2h-1zM51 111h1v2h-1zM7 113h1v4h-1zM42 113h1v4h-1zM40 117h1v6h-1zM51 117h1v6h-1zM10 123h1v6h-1zM43 123h1v6h-1zM41 129h1v8h-1zM52 129h1v8h-1zM44 137h1v4h-1zM42 141h1v7h-1zM53 141h1v7h-1zM16 148h1v3h-1zM45 148h1v3h-1zM55 151h1v1h-1zM41 155h1v4h-1zM40 164h1v12h-1zM56 167h1v3h-1zM57 178h1v2h-1zM41 182h1v7h-1zM58 187h1v2h-1zM42 194h1v7h-1zM59 196h1v3h-1zM43 205h1v8h-1zM60 210h1v4h-1zM44 216h1v8h-1zM45 226h1v8h-1zM61 227h1v4h-1zM46 236h1v9h-1zM62 243h1v4h-1zM47 246h1v12h-1zM48 259h1v14h-1zM63 262h1v5h-1zM49 273h1v14h-1zM50 286h1v14h-1z"/>
<path color="#429ded" d="M42 151h1v2h-1zM55 152h1v5h-1zM41 159h1v4h-1zM56 170h1v3h-1zM41 175h1v7h-1zM57 180h1v2h-1zM42 187h1v7h-1zM58 189h1v2h-1zM43 197h1v8h-1zM59 199h1v2h-1zM44 208h1v8h-1zM60 214h1v5h-1zM45 218h1v8h-1zM46 228h1v8h-1zM61 231h1v4h-1zM47 238h1v8h-1zM48 247h1v12h-1zM62 247h1v5h-1zM49 259h1v14h-1zM63 267h1v5h-1zM50 273h1v13h-1zM51 286h1v14h-1zM52 298h1v2h-1z"/>
<path color="#43a0ef" d="M13 137h1v4h-1zM42 153h1v5h-1zM55 157h1v4h-1zM41 163h1v12h-1zM56 173h1v2h-1zM42 181h1v6h-1zM57 182h1v2h-1zM43 191h1v6h-1zM58 191h1v3h-1zM44 201h1v7h-1zM59 201h1v4h-1zM45 211h1v7h-1zM60 219h1v4h-1zM46 221h1v7h-1zM47 230h1v8h-1zM61 235h1v4h-1zM48 239h1v8h-1zM49 248h1v11h-1zM62 252h1v5h-1zM50 261h1v12h-1zM63 272h1v5h-1zM51 274h1v12h-1zM52 286h1v12h-1zM53 297h1v3h-1z"/>
<path color="#44a3f0" d="M42 158h1v4h-1zM55 161h1v4h-1zM42 175h1v6h-1zM56 175h1v3h-1zM57 184h1v3h-1zM43 185h1v6h-1zM58 194h1v2h-1zM44 195h1v6h-1zM45 204h1v7h-1zM59 205h1v5h-1zM46 213h1v8h-1zM47 223h1v7h-1zM60 223h1v4h-1zM48 233h1v6h-1zM61 239h1v5h-1zM49 242h1v6h-1zM50 251h1v10h-1zM62 257h1v6h-1zM51 263h1v11h-1zM52 275h1v11h-1zM63 277h1v5h-1zM53 287h1v10h-1zM54 298h1v2h-1z"/>
<path color="#45a6f2" d="M43 151h1v1h-1zM42 162h1v13h-1zM55 165h1v3h-1zM56 178h1v2h-1zM43 180h1v5h-1zM57 187h1v2h-1zM44 190h1v5h-1zM58 196h1v2h-1zM45 198h1v6h-1zM46 207h1v6h-1zM59 210h1v4h-1zM47 217h1v6h-1zM48 226h1v7h-1zM60 227h1v4h-1zM49 236h1v6h-1zM50 244h1v7h-1zM61 244h1v4h-1zM51 254h1v9h-1zM62 263h1v6h-1zM52 266h1v9h-1zM53 277h1v10h-1zM63 282h1v6h-1zM54 287h1v11h-1zM55 298h1v2h-1z"/>
<path color="#46aaf4" d="M43 152h1v7h-1zM55 168h1v3h-1zM43 176h1v4h-1zM56 180h1v2h-1zM44 185h1v5h-1zM57 189h1v2h-1zM45 194h1v4h-1zM58 198h1v2h-1zM46 202h1v5h-1zM47 211h1v6h-1zM59 214h1v4h-1zM48 221h1v5h-1zM49 230h1v6h-1zM60 231h1v5h-1zM50 238h1v6h-1zM51 247h1v7h-1zM61 248h1v6h-1zM52 257h1v9h-1zM53 267h1v10h-1zM62 269h1v7h-1zM54 278h1v9h-1zM55 288h1v10h-1zM63 288h1v5h-1zM56 298h1v2h-1z"/>
<path color="#47adf5" d="M54 151h1v3h-1zM43 159h1v17h-1zM55 171h1v2h-1zM44 181h1v4h-1zM56 182h1v2h-1zM45 189h1v5h-1zM57 191h1v2h-1zM46 197h1v5h-1zM58 200h1v4h-1zM47 206h1v5h-1zM48 215h1v6h-1zM59 218h1v4h-1zM49 224h1v6h-1zM50 232h1v6h-1zM60 236h1v4h-1zM51 241h1v6h-1zM52 249h1v8h-1zM61 254h1v7h-1zM53 259h1v8h-1zM54 269h1v9h-1zM62 276h1v8h-1zM55 279h1v9h-1zM56 288h1v10h-1zM63 293h1v7h-1zM57 298h1v2h-1z"/>
<path color="#48b0f7" d="M54 154h1v5h-1zM55 173h1v3h-1zM44 177h1v4h-1zM56 184h1v3h-1zM45 185h1v4h-1zM46 193h1v4h-1zM57 193h1v3h-1zM47 201h1v5h-1zM58 204h1v5h-1zM48 210h1v5h-1zM49 218h1v6h-1zM59 222h1v5h-1zM50 227h1v5h-1zM51 235h1v6h-1zM60 240h1v5h-1zM52 243h1v6h-1zM53 251h1v8h-1zM54 260h1v9h-1zM61 261h1v7h-1zM55 270h1v9h-1zM56 279h1v9h-1zM62 284h1v9h-1zM57 288h1v10h-1zM58 296h1v4h-1z"/>
<path color="#49b3f9" d="M36 0h1v6h-1zM45 0h1v6h-1zM36 8h1v5h-1zM45 8h1v5h-1zM36 15h1v2h-1zM45 15h1v2h-1zM36 20h1v5h-1zM45 20h1v5h-1zM37 27h1v18h-1zM46 27h1v18h-1zM38 58h1v7h-1zM47 58h1v7h-1zM38 67h1v4h-1zM47 67h1v4h-1zM39 81h1v10h-1zM48 81h1v10h-1zM40 99h1v8h-1zM49 99h1v8h-1zM41 111h1v2h-1zM50 111h1v2h-1zM41 117h1v6h-1zM50 117h1v6h-1zM42 129h1v8h-1zM51 129h1v8h-1zM43 141h1v7h-1zM52 141h1v7h-1zM44 151h1v11h-1zM54 159h1v4h-1zM44 173h1v4h-1zM55 176h1v2h-1zM45 182h1v3h-1zM56 187h1v2h-1zM46 189h1v4h-1zM57 196h1v2h-1zM47 197h1v4h-1zM48 204h1v6h-1zM58 209h1v5h-1zM49 213h1v5h-1zM50 222h1v5h-1zM59 227h1v6h-1zM51 230h1v5h-1zM52 238h1v5h-1zM53 244h1v7h-1zM60 245h1v5h-1zM54 251h1v9h-1zM55 260h1v10h-1zM61 268h1v13h-1zM56 269h1v10h-1zM57 278h1v10h-1zM58 286h1v10h-1zM62 293h1v7h-1zM59 294h1v6h-1z"/>
<path color="#4bb7fa" d="M44 162h1v11h-1zM54 163h1v3h-1zM45 178h1v4h-1zM55 178h1v3h-1zM46 186h1v3h-1zM56 189h1v3h-1zM47 193h1v4h-1zM57 198h1v4h-1zM48 200h1v4h-1zM49 208h1v5h-1zM58 214h1v8h-1zM50 216h1v6h-1zM51 224h1v6h-1zM52 232h1v6h-1zM59 233h1v10h-1zM53 238h1v6h-1zM54 245h1v6h-1zM60 250h1v22h-1zM55 251h1v9h-1zM56 260h1v9h-1zM57 268h1v10h-1zM58 277h1v9h-1zM61 281h1v19h-1zM59 284h1v10h-1zM60 292h1v8h-1z"/>
<path color="#4cbafb" d="M54 166h1v3h-1zM45 174h1v4h-1zM55 181h1v2h-1zM46 182h1v4h-1zM47 189h1v4h-1zM56 192h1v2h-1zM48 196h1v4h-1zM57 202h1v7h-1zM49 203h1v5h-1zM50 211h1v5h-1zM51 219h1v5h-1zM58 222h1v8h-1zM52 226h1v6h-1zM53 233h1v5h-1zM54 239h1v6h-1zM59 243h1v21h-1zM55 245h1v6h-1zM56 251h1v9h-1zM57 260h1v8h-1zM58 268h1v9h-1zM60 272h1v20h-1zM59 276h1v8h-1z"/>
<path color="#4ebcfc" d="M45 155h1v19h-1zM54 169h1v4h-1zM46 178h1v4h-1zM55 183h1v3h-1zM47 185h1v4h-1zM48 192h1v4h-1zM56 194h1v3h-1zM49 199h1v4h-1zM50 206h1v5h-1zM57 209h1v7h-1zM51 214h1v5h-1zM52 221h1v5h-1zM53 227h1v6h-1zM58 230h1v26h-1zM54 234h1v5h-1zM55 240h1v5h-1zM56 245h1v6h-1zM57 251h1v9h-1zM58 259h1v9h-1zM59 264h1v12h-1z"/>
<path color="#50bffc" d="M45 151h1v4h-1zM53 151h1v4h-1zM54 173h1v2h-1zM46 175h1v3h-1zM47 182h1v3h-1zM55 186h1v3h-1zM48 189h1v3h-1zM49 195h1v4h-1zM56 197h1v4h-1zM50 201h1v5h-1zM51 208h1v6h-1zM52 215h1v6h-1zM57 216h1v26h-1zM53 222h1v5h-1zM54 229h1v5h-1zM55 235h1v5h-1zM56 240h1v5h-1zM57 246h1v5h-1zM58 256h1v3h-1z"/>
<path color="#52c2fd" d="M53 155h1v4h-1zM46 170h1v5h-1zM54 175h1v4h-1zM47 178h1v4h-1zM48 185h1v4h-1zM55 189h1v3h-1zM49 191h1v4h-1zM50 197h1v4h-1zM56 201h1v18h-1zM51 204h1v4h-1zM52 211h1v4h-1zM53 217h1v5h-1zM54 224h1v5h-1zM55 230h1v5h-1zM56 235h1v5h-1zM57 242h1v4h-1z"/>
<path color="#53c5fe" d="M53 159h1v4h-1zM46 166h1v4h-1zM47 175h1v3h-1zM54 179h1v4h-1zM48 182h1v3h-1zM49 188h1v3h-1zM55 192h1v7h-1zM50 194h1v3h-1zM51 199h1v5h-1zM52 206h1v5h-1zM53 213h1v4h-1zM54 219h1v5h-1zM56 219h1v16h-1zM55 225h1v5h-1z"/>
<path color="#55c8fe" d="M37 0h1v6h-1zM44 0h1v6h-1zM39 6h1v2h-1zM37 8h1v5h-1zM44 8h1v5h-1zM39 13h1v2h-1zM37 15h1v2h-1zM44 15h1v2h-1zM39 17h1v3h-1zM37 20h1v5h-1zM44 20h1v5h-1zM39 25h1v1h-1zM40 26h1v1h-1zM38 27h1v18h-1zM45 27h1v18h-1zM40 45h1v13h-1zM39 58h1v7h-1zM46 58h1v7h-1zM40 65h1v2h-1zM39 67h1v4h-1zM46 67h1v4h-1zM41 71h1v10h-1zM40 81h1v10h-1zM47 81h1v10h-1zM42 91h1v8h-1zM41 99h1v8h-1zM48 99h1v8h-1zM43 107h1v4h-1zM42 111h1v2h-1zM49 111h1v2h-1zM43 113h1v4h-1zM42 117h1v6h-1zM49 117h1v6h-1zM44 123h1v6h-1zM43 129h1v8h-1zM50 129h1v8h-1zM45 137h1v4h-1zM44 141h1v7h-1zM51 141h1v7h-1zM46 148h1v3h-1zM53 163h1v5h-1zM46 164h1v2h-1zM47 172h1v3h-1zM48 178h1v4h-1zM54 183h1v7h-1zM49 184h1v4h-1zM50 190h1v4h-1zM51 195h1v4h-1zM55 199h1v26h-1zM52 202h1v4h-1zM53 208h1v5h-1zM54 214h1v5h-1z"/>
<path color="#57cbff" d="M46 161h1v3h-1zM53 168h1v9h-1zM47 170h1v2h-1zM48 175h1v3h-1zM49 181h1v3h-1zM50 186h1v4h-1zM54 190h1v24h-1zM51 192h1v3h-1zM52 197h1v5h-1zM53 204h1v4h-1z"/>
<path color="#5ecdfc" d="M52 151h1v1h-1zM46 159h1v2h-1zM47 168h1v2h-1zM48 172h1v3h-1zM49 177h1v4h-1zM53 177h1v8h-1zM50 182h1v4h-1zM51 188h1v4h-1zM52 194h2v3h-2zM53 197h1v7h-1z"/>
<path color="#6cd0f5" d="M52 152h1v5h-1zM46 157h1v2h-1zM47 167h1v1h-1zM48 171h1v1h-1zM49 173h1v4h-1zM50 178h1v4h-1zM51 184h1v4h-1zM53 185h1v9h-1zM52 189h1v5h-1z"/>
<path color="#79d3ef" d="M52 157h1v4h-1zM47 166h1v1h-1zM48 170h1v1h-1zM52 170h1v19h-1zM49 171h1v2h-1zM50 174h1v4h-1zM51 179h1v5h-1z"/>
<path color="#86d6e8" d="M46 151h1v6h-1zM52 161h1v9h-1zM47 165h1v1h-1zM48 169h1v1h-1zM50 172h1v2h-1zM51 175h1v4h-1z"/>
<path color="#94d9e2" d="M47 164h1v1h-1zM48 168h1v1h-1zM49 170h1v1h-1zM50 171h2v1h-2zM51 172h1v3h-1z"/>
<path color="#a1dcda" d="M38 0h1v6h-1zM43 0h1v6h-1zM38 8h1v5h-1zM43 8h1v5h-1zM38 15h1v2h-1zM43 15h1v2h-1zM38 20h1v5h-1zM43 20h1v5h-1zM39 27h1v18h-1zM44 27h1v18h-1zM40 58h1v7h-1zM45 58h1v7h-1zM40 67h1v4h-1zM45 67h1v4h-1zM41 81h1v10h-1zM46 81h1v10h-1zM42 99h1v8h-1zM47 99h1v8h-1zM43 111h1v2h-1zM48 111h1v2h-1zM43 117h1v6h-1zM48 117h1v6h-1zM44 129h1v8h-1zM49 129h1v8h-1zM45 141h1v7h-1zM50 141h1v7h-1zM47 163h1v1h-1zM48 167h1v1h-1zM49 169h1v1h-1zM51 169h1v2h-1zM50 170h1v1h-1z"/>
<path color="#aeddce" d="M47 162h1v1h-1zM48 166h1v1h-1zM49 168h1v1h-1zM51 168h1v1h-1zM50 169h1v1h-1z"/>
<path color="#bbddc2" d="M47 161h1v1h-1zM51 164h1v4h-1z"/>
<path color="#c9deb5" d="M51 151h1v6h-1zM47 160h1v1h-1zM51 162h1v2h-1zM48 165h1v1h-1zM49 167h1v1h-1zM50 168h1v1h-1z"/>
<path color="#d6dfa9" d="M51 157h1v5h-1zM47 159h1v1h-1zM48 164h1v1h-1zM50 167h1v1h-1z"/>
<path color="#dfdd9d" d="M49 166h2v1h-2z"/>
<path color="#e7da92" d="M47 158h1v1h-1zM48 163h1v1h-1zM49 165h2v1h-2z"/>
<path color="#efd786" d="M48 162h1v1h-1zM50 163h1v2h-1z"/>
<path color="#f7d47b" d="M47 157h1v1h-1zM50 162h1v1h-1zM49 164h1v1h-1z"/>
<path color="#fdcf6f" d="M40 6h1v2h-1zM40 13h1v2h-1zM40 17h1v3h-1zM40 25h1v1h-1zM41 26h1v1h-1zM41 45h1v13h-1zM41 65h1v2h-1zM42 71h1v10h-1zM43 91h1v8h-1zM44 107h1v4h-1zM44 113h1v4h-1zM45 123h1v6h-1zM46 137h1v4h-1zM47 148h1v3h-1zM48 161h1v1h-1zM50 161h1v1h-1zM49 163h1v1h-1z"/>
<path color="#fbc464" d="M47 151h1v6h-1zM50 159h1v2h-1zM48 160h1v1h-1zM49 162h1v1h-1z"/>
<path color="#f9b959" d="M50 158h1v1h-1zM49 161h1v1h-1z"/>
<path color="#f8ae4e" d="M50 157h1v1h-1zM48 159h1v1h-1zM49 160h1v1h-1z"/>
<path color="#f6a242" d="M39 0h1v6h-1zM42 0h1v6h-1zM39 8h1v5h-1zM42 8h1v5h-1zM39 15h1v2h-1zM42 15h1v2h-1zM39 20h1v5h-1zM42 20h1v5h-1zM40 27h1v18h-1zM43 27h1v18h-1zM41 58h1v7h-1zM44 58h1v7h-1zM41 67h1v4h-1zM44 67h1v4h-1zM42 81h1v10h-1zM45 81h1v10h-1zM43 99h1v8h-1zM46 99h1v8h-1zM44 111h1v2h-1zM47 111h1v2h-1zM44 117h1v6h-1zM47 117h1v6h-1zM45 129h1v8h-1zM48 129h1v8h-1zM46 141h1v7h-1zM49 141h1v7h-1zM50 151h1v6h-1z"/>
<path color="#ee9537" d="M48 158h1v1h-1zM49 159h1v1h-1z"/>
<path color="#e3862c" d="M49 158h1v1h-1z"/>
<path color="#d97821" d="M48 157h2v1h-2z"/>
<path color="#6a2400" d="M40 0h2v6h-2zM41 6h1v20h-1zM40 8h1v5h-1zM40 15h1v2h-1zM40 20h1v5h-1zM42 26h1v45h-1zM41 27h1v18h-1zM43 58h1v7h-1zM43 67h1v24h-1zM44 81h1v26h-1zM45 99h1v24h-1zM46 111h1v2h-1zM46 117h1v20h-1zM47 129h1v19h-1zM48 141h1v16h-1zM49 151h1v6h-1z"/>
</g>
</g>
</g>
<g id="axes" stroke="#000" stroke-width="1.9" fill="none">
<rect x="92.83" y="127.40" width="577.72" height="265.45"/>
<path d="M236.75 127.40v11.0M236.75 392.85v-11.0M381.50 127.40v11.0M381.50 392.85v-11.0M526.25 127.40v11.0M526.25 392.85v-11.0M92.83 339.76h11.0M670.55 339.76h-11.0M92.83 286.67h11.0M670.55 286.67h-11.0M92.83 233.58h11.0M670.55 233.58h-11.0M92.83 180.49h11.0M670.55 180.49h-11.0"/>
<path d="M236.75 401.00v11.0M236.75 644.00v-11.0M236.75 692.00v11.0M236.75 934.50v-11.0M381.50 401.00v11.0M381.50 644.00v-11.0M381.50 692.00v11.0M381.50 934.50v-11.0M526.25 401.00v11.0M526.25 644.00v-11.0M526.25 692.00v11.0M526.25 934.50v-11.0M92.00 595.50h11.0M670.60 595.50h-11.0M92.00 546.80h11.0M670.60 546.80h-11.0M92.00 498.10h11.0M670.60 498.10h-11.0M92.00 449.40h11.0M670.60 449.40h-11.0M92.00 902.20h11.0M670.60 902.20h-11.0M92.00 869.80h11.0M670.60 869.80h-11.0M92.00 837.40h11.0M670.60 837.40h-11.0M92.00 805.00h11.0M670.60 805.00h-11.0M92.00 772.60h11.0M670.60 772.60h-11.0M92.00 740.20h11.0M670.60 740.20h-11.0M92.00 707.80h11.0M670.60 707.80h-11.0" stroke-width="1.4"/>
</g>
<g id="arrows"><path d="M237.20 365.1V381" stroke="#ff2a00" stroke-width="4.2" stroke-linecap="round" fill="none"/><path d="M230.10 375.7L237.20 378.3L244.30 375.7L237.20 392.6Z" fill="#ff2a00"/><text x="201.5" y="369.8" style="font-size:14.1px;fill:#ff2a00;stroke:#ff2a00;stroke-width:.25px">16.6</text><path d="M381.80 365.1V381" stroke="#0433ff" stroke-width="4.2" stroke-linecap="round" fill="none"/><path d="M374.70 375.7L381.80 378.3L388.90 375.7L381.80 392.6Z" fill="#0433ff"/><text x="346.5" y="369.8" style="font-size:14.1px;fill:#0433ff;stroke:#0433ff;stroke-width:.25px">13.9</text><path d="M536.75 365.1V381" stroke="#ff2a00" stroke-width="4.2" stroke-linecap="round" fill="none"/><path d="M529.65 375.7L536.75 378.3L543.85 375.7L536.75 392.6Z" fill="#ff2a00"/><text x="504.6" y="363.4" style="font-size:14.1px;fill:#ff2a00;stroke:#ff2a00;stroke-width:.25px">10.0</text><path d="M559.50 365.1V381" stroke="#0433ff" stroke-width="4.2" stroke-linecap="round" fill="none"/><path d="M552.40 375.7L559.50 378.3L566.60 375.7L559.50 392.6Z" fill="#0433ff"/><text x="538.8" y="363.4" style="font-size:14.1px;fill:#0433ff;stroke:#0433ff;stroke-width:.25px">11.1</text><path d="M571.30 365.1V381" stroke="#ff2a00" stroke-width="4.2" stroke-linecap="round" fill="none"/><path d="M564.20 375.7L571.30 378.3L578.40 375.7L571.30 392.6Z" fill="#ff2a00"/><text x="569.4" y="363.4" style="font-size:14.1px;fill:#ff2a00;stroke:#ff2a00;stroke-width:.25px">8.31</text><path d="M605.60 365.1V381" stroke="#0433ff" stroke-width="4.2" stroke-linecap="round" fill="none"/><path d="M598.50 375.7L605.60 378.3L612.70 375.7L605.60 392.6Z" fill="#0433ff"/><text x="607.6" y="363.4" style="font-size:14.1px;fill:#0433ff;stroke:#0433ff;stroke-width:.25px">7.34</text></g>
<g id="guides" fill="none" stroke="#7c7b7a">
<path d="M89.4 498.20H670.4" stroke-dasharray="9.2 4.85" stroke-width="2.7" clip-path="url(#clc)"/>
<path d="M89.4 852.75H670.4" stroke-dasharray="9.2 4.85" stroke-width="2.7" clip-path="url(#cld)"/>
<path d="M598.43 127.1V934.2" stroke-dasharray="9.2 4.9" stroke-width="3"/>
</g>
<g id="colorbar">
<rect x="85" y="645.1" width="595" height="45.9" fill="#fff"/>
<rect x="92.3" y="649.4" width="579.2" height="36.4" fill="url(#cb)" stroke="#000" stroke-width="2.7"/>
<text class="t" x="103.4" y="675.1" style="fill:#fff;stroke:none;font-size:16.6px">0.00</text>
<text class="t" x="638.3" y="675.1" style="fill:#fff;stroke:none;font-size:16.6px">4.8</text>
<text class="t" x="332.2" y="673.2" style="font-size:16.5px">Norm.<tspan class="ab">&lt;</tspan><tspan class="it">Ŝ</tspan><tspan class="it" dy="3.5" style="font-size:11.5px">z</tspan><tspan class="ab" dy="-3.5">&gt;</tspan> (<tspan class="it">ħ</tspan>)</text>
</g>
<g id="labels">
<text class="lb" x="-0.3" y="11.1">a</text>
<text class="lb" x="-0.3" y="114.6">b</text>
<text class="lb" x="-0.3" y="411">c</text>
<text class="lb" x="-0.3" y="705.5">d</text>
<text class="t" x="92.8" y="118.9" text-anchor="middle">0</text><text class="t" x="236.8" y="117.6" text-anchor="middle"><tspan class="pi">π</tspan>/4</text><text class="t" x="381.5" y="117.6" text-anchor="middle"><tspan class="pi">π</tspan>/2</text><text class="t" x="526.2" y="117.6" text-anchor="middle">3<tspan class="pi">π</tspan>/4</text><text class="t" x="671.0" y="117.6" text-anchor="middle"><tspan class="pi">π</tspan></text>
<text class="t" x="92.2" y="953.7" text-anchor="middle">0</text><text class="t" x="236.8" y="952.8" text-anchor="middle"><tspan class="pi">π</tspan>/4</text><text class="t" x="381.5" y="952.8" text-anchor="middle"><tspan class="pi">π</tspan>/2</text><text class="t" x="526.2" y="952.8" text-anchor="middle">3<tspan class="pi">π</tspan>/4</text><text class="t" x="671.0" y="952.8" text-anchor="middle"><tspan class="pi">π</tspan></text>
<text class="t tk" x="86" y="397.6" text-anchor="end">0</text>
<text class="t tk" x="86" y="345.1" text-anchor="end">0.5</text>
<text class="t tk" x="86" y="292.0" text-anchor="end">1.0</text>
<text class="t tk" x="86" y="238.9" text-anchor="end">1.5</text>
<text class="t tk" x="86" y="185.8" text-anchor="end">2.0</text>
<text class="t tk" x="86" y="132.7" text-anchor="end">2.5</text>
<text class="t tk" x="86" y="648.0" text-anchor="end">0</text>
<text class="t tk" x="86" y="600.9" text-anchor="end">–20</text>
<text class="t tk" x="86" y="552.2" text-anchor="end">–40</text>
<text class="t tk" x="86" y="503.5" text-anchor="end">–60</text>
<text class="t tk" x="86" y="454.8" text-anchor="end">–80</text>
<text class="t tk" x="86" y="938.4" text-anchor="end">0</text>
<text class="t tk" x="86" y="907.6" text-anchor="end">–20</text>
<text class="t tk" x="86" y="875.2" text-anchor="end">–40</text>
<text class="t tk" x="86" y="842.8" text-anchor="end">–60</text>
<text class="t tk" x="86" y="810.4" text-anchor="end">–80</text>
<text class="t tk" x="86" y="778.0" text-anchor="end">–100</text>
<text class="t tk" x="86" y="745.6" text-anchor="end">–120</text>
<text class="t tk" x="86" y="713.2" text-anchor="end">–140</text>
<text class="t" transform="translate(47.5 309.3) rotate(-90)" style="font-size:16.5px">Norm.<tspan class="ab">&lt;</tspan><tspan class="it">Ŝ</tspan><tspan class="it" dy="3.5" style="font-size:11.5px">z</tspan><tspan class="ab" dy="-3.5">&gt;</tspan> (<tspan class="it">ħ</tspan>)</text>
<text class="t" transform="translate(42.2 549.2) rotate(-90)" style="font-size:16.5px"><tspan class="it">J</tspan> (µeV)</text>
<text class="t" transform="translate(33.7 845.4) rotate(-90)" style="font-size:16.5px"><tspan class="it">D</tspan><tspan dy="3.5" style="font-size:12.5px">⊥</tspan><tspan dy="-3.5"> (µeV)</tspan></text>
<text class="t" x="348.8" y="976.6" style="font-size:16.5px"><tspan class="it">q</tspan> (1/<tspan class="it">d</tspan><tspan dy="3.6" style="font-size:13.2px">NN</tspan><tspan dy="-3.6">)</tspan></text>
</g>
</svg></body></html>
